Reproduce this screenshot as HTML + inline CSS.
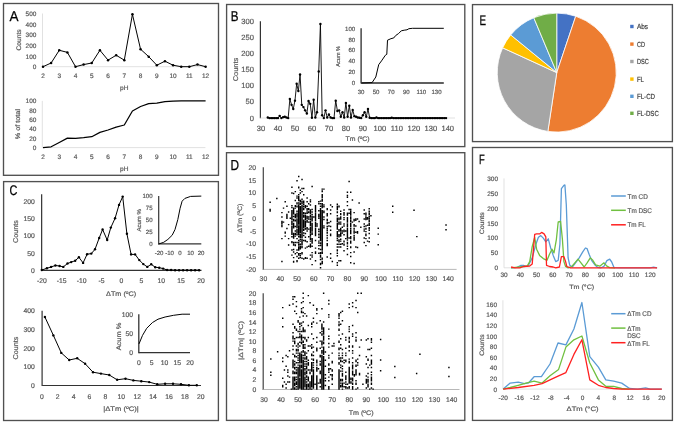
<!DOCTYPE html>
<html><head><meta charset="utf-8"><style>
html,body{margin:0;padding:0;background:#fff;}
svg{display:block;font-family:"Liberation Sans", sans-serif;text-rendering:geometricPrecision;filter:blur(0.4px);}
</style></head><body>
<svg width="674" height="424" viewBox="0 0 674 424">
<rect width="674" height="424" fill="#fff"/>
<rect x="3.5" y="3.5" width="215.0" height="171.8" fill="none" stroke="#505050" stroke-width="1.35"/>
<text x="13.95" y="20.5" font-size="14.3" fill="#000" stroke="#000" stroke-width="0.25" text-anchor="middle" textLength="9.03" lengthAdjust="spacingAndGlyphs">A</text>
<line x1="42.50" y1="13.50" x2="42.50" y2="66.70" stroke="#d9d9d9" stroke-width="0.8"/>
<line x1="42.50" y1="66.70" x2="205.80" y2="66.70" stroke="#d9d9d9" stroke-width="0.8"/>
<text x="36.40" y="69.13" font-size="6.48" text-anchor="end" fill="#595959" stroke="#595959" stroke-width="0.2">0</text>
<text x="36.40" y="58.53" font-size="6.48" text-anchor="end" fill="#595959" stroke="#595959" stroke-width="0.2">100</text>
<text x="36.40" y="47.93" font-size="6.48" text-anchor="end" fill="#595959" stroke="#595959" stroke-width="0.2">200</text>
<text x="36.40" y="37.33" font-size="6.48" text-anchor="end" fill="#595959" stroke="#595959" stroke-width="0.2">300</text>
<text x="36.40" y="26.73" font-size="6.48" text-anchor="end" fill="#595959" stroke="#595959" stroke-width="0.2">400</text>
<text x="36.40" y="16.13" font-size="6.48" text-anchor="end" fill="#595959" stroke="#595959" stroke-width="0.2">500</text>
<text x="43.00" y="77.93" font-size="6.48" text-anchor="middle" fill="#595959" stroke="#595959" stroke-width="0.2">2</text>
<text x="59.26" y="77.93" font-size="6.48" text-anchor="middle" fill="#595959" stroke="#595959" stroke-width="0.2">3</text>
<text x="75.52" y="77.93" font-size="6.48" text-anchor="middle" fill="#595959" stroke="#595959" stroke-width="0.2">4</text>
<text x="91.78" y="77.93" font-size="6.48" text-anchor="middle" fill="#595959" stroke="#595959" stroke-width="0.2">5</text>
<text x="108.04" y="77.93" font-size="6.48" text-anchor="middle" fill="#595959" stroke="#595959" stroke-width="0.2">6</text>
<text x="124.30" y="77.93" font-size="6.48" text-anchor="middle" fill="#595959" stroke="#595959" stroke-width="0.2">7</text>
<text x="140.56" y="77.93" font-size="6.48" text-anchor="middle" fill="#595959" stroke="#595959" stroke-width="0.2">8</text>
<text x="156.82" y="77.93" font-size="6.48" text-anchor="middle" fill="#595959" stroke="#595959" stroke-width="0.2">9</text>
<text x="173.08" y="77.93" font-size="6.48" text-anchor="middle" fill="#595959" stroke="#595959" stroke-width="0.2">10</text>
<text x="189.34" y="77.93" font-size="6.48" text-anchor="middle" fill="#595959" stroke="#595959" stroke-width="0.2">11</text>
<text x="205.60" y="77.93" font-size="6.48" text-anchor="middle" fill="#595959" stroke="#595959" stroke-width="0.2">12</text>
<text x="124.20" y="89.67" font-size="6.30" text-anchor="middle" fill="#595959" stroke="#595959" stroke-width="0.2" textLength="8.40" lengthAdjust="spacingAndGlyphs">pH</text>
<text x="19.00" y="42.48" font-size="6.60" text-anchor="middle" fill="#595959" stroke="#595959" stroke-width="0.2" transform="rotate(-90 19.00 40.00)" textLength="21.20" lengthAdjust="spacingAndGlyphs">Counts</text>
<polyline points="43.00,66.70 51.13,62.99 59.26,50.27 67.39,52.39 75.52,66.70 83.65,64.58 91.78,62.99 99.91,50.27 108.04,60.13 116.17,55.25 124.30,60.13 132.43,14.34 140.56,49.21 148.69,56.63 156.82,65.22 164.95,61.19 173.08,65.22 181.21,66.70 189.34,66.70 197.47,64.58 205.60,66.70" fill="none" stroke="#000" stroke-width="1.0" stroke-linejoin="round"/>
<circle cx="43.00" cy="66.70" r="1.25" fill="#000"/>
<circle cx="51.13" cy="62.99" r="1.25" fill="#000"/>
<circle cx="59.26" cy="50.27" r="1.25" fill="#000"/>
<circle cx="67.39" cy="52.39" r="1.25" fill="#000"/>
<circle cx="75.52" cy="66.70" r="1.25" fill="#000"/>
<circle cx="83.65" cy="64.58" r="1.25" fill="#000"/>
<circle cx="91.78" cy="62.99" r="1.25" fill="#000"/>
<circle cx="99.91" cy="50.27" r="1.25" fill="#000"/>
<circle cx="108.04" cy="60.13" r="1.25" fill="#000"/>
<circle cx="116.17" cy="55.25" r="1.25" fill="#000"/>
<circle cx="124.30" cy="60.13" r="1.25" fill="#000"/>
<circle cx="132.43" cy="14.34" r="1.25" fill="#000"/>
<circle cx="140.56" cy="49.21" r="1.25" fill="#000"/>
<circle cx="148.69" cy="56.63" r="1.25" fill="#000"/>
<circle cx="156.82" cy="65.22" r="1.25" fill="#000"/>
<circle cx="164.95" cy="61.19" r="1.25" fill="#000"/>
<circle cx="173.08" cy="65.22" r="1.25" fill="#000"/>
<circle cx="181.21" cy="66.70" r="1.25" fill="#000"/>
<circle cx="189.34" cy="66.70" r="1.25" fill="#000"/>
<circle cx="197.47" cy="64.58" r="1.25" fill="#000"/>
<circle cx="205.60" cy="66.70" r="1.25" fill="#000"/>
<line x1="42.30" y1="100.90" x2="42.30" y2="147.60" stroke="#d9d9d9" stroke-width="0.8"/>
<line x1="42.30" y1="147.60" x2="205.40" y2="147.60" stroke="#d9d9d9" stroke-width="0.8"/>
<text x="36.40" y="150.03" font-size="6.48" text-anchor="end" fill="#595959" stroke="#595959" stroke-width="0.2">0</text>
<text x="36.40" y="140.69" font-size="6.48" text-anchor="end" fill="#595959" stroke="#595959" stroke-width="0.2">20</text>
<text x="36.40" y="131.35" font-size="6.48" text-anchor="end" fill="#595959" stroke="#595959" stroke-width="0.2">40</text>
<text x="36.40" y="122.01" font-size="6.48" text-anchor="end" fill="#595959" stroke="#595959" stroke-width="0.2">60</text>
<text x="36.40" y="112.67" font-size="6.48" text-anchor="end" fill="#595959" stroke="#595959" stroke-width="0.2">80</text>
<text x="36.40" y="103.33" font-size="6.48" text-anchor="end" fill="#595959" stroke="#595959" stroke-width="0.2">100</text>
<text x="43.00" y="159.03" font-size="6.48" text-anchor="middle" fill="#595959" stroke="#595959" stroke-width="0.2">2</text>
<text x="59.26" y="159.03" font-size="6.48" text-anchor="middle" fill="#595959" stroke="#595959" stroke-width="0.2">3</text>
<text x="75.52" y="159.03" font-size="6.48" text-anchor="middle" fill="#595959" stroke="#595959" stroke-width="0.2">4</text>
<text x="91.78" y="159.03" font-size="6.48" text-anchor="middle" fill="#595959" stroke="#595959" stroke-width="0.2">5</text>
<text x="108.04" y="159.03" font-size="6.48" text-anchor="middle" fill="#595959" stroke="#595959" stroke-width="0.2">6</text>
<text x="124.30" y="159.03" font-size="6.48" text-anchor="middle" fill="#595959" stroke="#595959" stroke-width="0.2">7</text>
<text x="140.56" y="159.03" font-size="6.48" text-anchor="middle" fill="#595959" stroke="#595959" stroke-width="0.2">8</text>
<text x="156.82" y="159.03" font-size="6.48" text-anchor="middle" fill="#595959" stroke="#595959" stroke-width="0.2">9</text>
<text x="173.08" y="159.03" font-size="6.48" text-anchor="middle" fill="#595959" stroke="#595959" stroke-width="0.2">10</text>
<text x="189.34" y="159.03" font-size="6.48" text-anchor="middle" fill="#595959" stroke="#595959" stroke-width="0.2">11</text>
<text x="205.60" y="159.03" font-size="6.48" text-anchor="middle" fill="#595959" stroke="#595959" stroke-width="0.2">12</text>
<text x="124.20" y="170.77" font-size="6.30" text-anchor="middle" fill="#595959" stroke="#595959" stroke-width="0.2" textLength="8.40" lengthAdjust="spacingAndGlyphs">pH</text>
<text x="17.90" y="126.58" font-size="6.60" text-anchor="middle" fill="#595959" stroke="#595959" stroke-width="0.2" transform="rotate(-90 17.90 124.10)" textLength="30.20" lengthAdjust="spacingAndGlyphs">% of total</text>
<polyline points="43.00,147.60 51.13,146.81 59.26,142.46 67.39,138.12 75.52,138.31 83.65,137.70 91.78,136.72 99.91,132.42 108.04,129.99 116.17,127.05 124.30,125.00 132.43,110.94 140.56,106.50 148.69,103.70 156.82,103.23 164.95,101.60 173.08,101.13 181.21,100.99 189.34,100.90 197.47,100.90 205.60,100.90" fill="none" stroke="#000" stroke-width="1.25" stroke-linejoin="round"/>
<rect x="226.6" y="4.5" width="238.20000000000002" height="142.1" fill="none" stroke="#505050" stroke-width="1.35"/>
<text x="234.60" y="20.6" font-size="14.3" fill="#000" stroke="#000" stroke-width="0.25" text-anchor="middle" textLength="7.73" lengthAdjust="spacingAndGlyphs">B</text>
<line x1="260.40" y1="21.20" x2="260.40" y2="118.30" stroke="#333" stroke-width="1.2"/>
<line x1="260.30" y1="118.00" x2="455.00" y2="118.00" stroke="#d9d9d9" stroke-width="0.8"/>
<text x="253.90" y="120.52" font-size="7.56" text-anchor="end" fill="#595959" stroke="#595959" stroke-width="0.2">0</text>
<text x="253.90" y="104.46" font-size="7.56" text-anchor="end" fill="#595959" stroke="#595959" stroke-width="0.2">50</text>
<text x="253.90" y="88.39" font-size="7.56" text-anchor="end" fill="#595959" stroke="#595959" stroke-width="0.2">100</text>
<text x="253.90" y="72.33" font-size="7.56" text-anchor="end" fill="#595959" stroke="#595959" stroke-width="0.2">150</text>
<text x="253.90" y="56.26" font-size="7.56" text-anchor="end" fill="#595959" stroke="#595959" stroke-width="0.2">200</text>
<text x="253.90" y="40.20" font-size="7.56" text-anchor="end" fill="#595959" stroke="#595959" stroke-width="0.2">250</text>
<text x="253.90" y="24.13" font-size="7.56" text-anchor="end" fill="#595959" stroke="#595959" stroke-width="0.2">300</text>
<text x="261.00" y="130.82" font-size="7.56" text-anchor="middle" fill="#595959" stroke="#595959" stroke-width="0.2">30</text>
<text x="277.98" y="130.82" font-size="7.56" text-anchor="middle" fill="#595959" stroke="#595959" stroke-width="0.2">40</text>
<text x="294.96" y="130.82" font-size="7.56" text-anchor="middle" fill="#595959" stroke="#595959" stroke-width="0.2">50</text>
<text x="311.94" y="130.82" font-size="7.56" text-anchor="middle" fill="#595959" stroke="#595959" stroke-width="0.2">60</text>
<text x="328.92" y="130.82" font-size="7.56" text-anchor="middle" fill="#595959" stroke="#595959" stroke-width="0.2">70</text>
<text x="345.90" y="130.82" font-size="7.56" text-anchor="middle" fill="#595959" stroke="#595959" stroke-width="0.2">80</text>
<text x="362.88" y="130.82" font-size="7.56" text-anchor="middle" fill="#595959" stroke="#595959" stroke-width="0.2">90</text>
<text x="379.86" y="130.82" font-size="7.56" text-anchor="middle" fill="#595959" stroke="#595959" stroke-width="0.2">100</text>
<text x="396.84" y="130.82" font-size="7.56" text-anchor="middle" fill="#595959" stroke="#595959" stroke-width="0.2">110</text>
<text x="413.82" y="130.82" font-size="7.56" text-anchor="middle" fill="#595959" stroke="#595959" stroke-width="0.2">120</text>
<text x="430.80" y="130.82" font-size="7.56" text-anchor="middle" fill="#595959" stroke="#595959" stroke-width="0.2">130</text>
<text x="447.78" y="130.82" font-size="7.56" text-anchor="middle" fill="#595959" stroke="#595959" stroke-width="0.2">140</text>
<text x="357.50" y="141.28" font-size="6.60" text-anchor="middle" fill="#595959" stroke="#595959" stroke-width="0.2" textLength="23.90" lengthAdjust="spacingAndGlyphs">Tm (ºC)</text>
<text x="235.10" y="72.08" font-size="6.90" text-anchor="middle" fill="#595959" stroke="#595959" stroke-width="0.2" transform="rotate(-90 235.10 69.50)" textLength="23.60" lengthAdjust="spacingAndGlyphs">Counts</text>
<polyline points="267.79,117.45 269.49,118.10 271.19,118.10 272.89,118.10 274.58,118.10 276.28,118.10 277.98,118.10 279.68,115.84 281.38,118.10 283.07,117.13 284.77,116.81 286.47,117.45 288.17,118.10 289.87,99.01 291.56,104.84 293.26,109.04 294.96,100.63 296.66,83.81 298.36,90.93 300.05,74.43 301.75,104.84 303.45,107.10 305.15,110.34 306.85,113.57 308.54,100.95 310.24,103.87 311.94,117.78 313.64,99.66 315.34,117.45 317.03,112.28 318.73,71.52 320.43,23.96 322.13,115.19 323.83,118.10 325.52,110.34 327.22,117.45 328.92,114.54 330.62,117.45 332.32,118.10 334.01,118.10 335.71,100.63 337.41,110.98 339.11,110.34 340.81,116.81 342.50,112.28 344.20,117.45 345.90,102.90 347.60,116.81 349.30,105.81 350.99,117.45 352.69,110.01 354.39,116.16 356.09,116.81 357.79,117.45 359.48,117.78 361.18,118.10 362.88,115.19 364.58,112.28 366.28,116.81 367.97,109.04 369.67,117.78 371.37,118.10 373.07,118.10 374.77,118.10 376.46,117.45 378.16,118.10 379.86,118.10 381.56,118.10 383.26,118.10 384.95,118.10 386.65,118.10 388.35,118.10 390.05,118.10 391.75,117.78 393.44,118.10 395.14,118.10 396.84,118.10 398.54,118.10 400.24,118.10 401.93,118.10 403.63,118.10 405.33,118.10 407.03,118.10 408.73,118.10 410.42,118.10 412.12,118.10 413.82,118.10 415.52,118.10 417.22,118.10 418.91,118.10 420.61,118.10 422.31,118.10 424.01,118.10 425.71,118.10 427.40,118.10 429.10,118.10 430.80,118.10 432.50,118.10 434.20,118.10 435.89,118.10 437.59,118.10 439.29,118.10 440.99,118.10 442.69,118.10 444.38,118.10 446.08,118.10" fill="none" stroke="#000" stroke-width="0.9" stroke-linejoin="round"/>
<circle cx="267.79" cy="117.45" r="1.20" fill="#000"/>
<circle cx="269.49" cy="118.10" r="1.20" fill="#000"/>
<circle cx="271.19" cy="118.10" r="1.20" fill="#000"/>
<circle cx="272.89" cy="118.10" r="1.20" fill="#000"/>
<circle cx="274.58" cy="118.10" r="1.20" fill="#000"/>
<circle cx="276.28" cy="118.10" r="1.20" fill="#000"/>
<circle cx="277.98" cy="118.10" r="1.20" fill="#000"/>
<circle cx="279.68" cy="115.84" r="1.20" fill="#000"/>
<circle cx="281.38" cy="118.10" r="1.20" fill="#000"/>
<circle cx="283.07" cy="117.13" r="1.20" fill="#000"/>
<circle cx="284.77" cy="116.81" r="1.20" fill="#000"/>
<circle cx="286.47" cy="117.45" r="1.20" fill="#000"/>
<circle cx="288.17" cy="118.10" r="1.20" fill="#000"/>
<circle cx="289.87" cy="99.01" r="1.20" fill="#000"/>
<circle cx="291.56" cy="104.84" r="1.20" fill="#000"/>
<circle cx="293.26" cy="109.04" r="1.20" fill="#000"/>
<circle cx="294.96" cy="100.63" r="1.20" fill="#000"/>
<circle cx="296.66" cy="83.81" r="1.20" fill="#000"/>
<circle cx="298.36" cy="90.93" r="1.20" fill="#000"/>
<circle cx="300.05" cy="74.43" r="1.20" fill="#000"/>
<circle cx="301.75" cy="104.84" r="1.20" fill="#000"/>
<circle cx="303.45" cy="107.10" r="1.20" fill="#000"/>
<circle cx="305.15" cy="110.34" r="1.20" fill="#000"/>
<circle cx="306.85" cy="113.57" r="1.20" fill="#000"/>
<circle cx="308.54" cy="100.95" r="1.20" fill="#000"/>
<circle cx="310.24" cy="103.87" r="1.20" fill="#000"/>
<circle cx="311.94" cy="117.78" r="1.20" fill="#000"/>
<circle cx="313.64" cy="99.66" r="1.20" fill="#000"/>
<circle cx="315.34" cy="117.45" r="1.20" fill="#000"/>
<circle cx="317.03" cy="112.28" r="1.20" fill="#000"/>
<circle cx="318.73" cy="71.52" r="1.20" fill="#000"/>
<circle cx="320.43" cy="23.96" r="1.20" fill="#000"/>
<circle cx="322.13" cy="115.19" r="1.20" fill="#000"/>
<circle cx="323.83" cy="118.10" r="1.20" fill="#000"/>
<circle cx="325.52" cy="110.34" r="1.20" fill="#000"/>
<circle cx="327.22" cy="117.45" r="1.20" fill="#000"/>
<circle cx="328.92" cy="114.54" r="1.20" fill="#000"/>
<circle cx="330.62" cy="117.45" r="1.20" fill="#000"/>
<circle cx="332.32" cy="118.10" r="1.20" fill="#000"/>
<circle cx="334.01" cy="118.10" r="1.20" fill="#000"/>
<circle cx="335.71" cy="100.63" r="1.20" fill="#000"/>
<circle cx="337.41" cy="110.98" r="1.20" fill="#000"/>
<circle cx="339.11" cy="110.34" r="1.20" fill="#000"/>
<circle cx="340.81" cy="116.81" r="1.20" fill="#000"/>
<circle cx="342.50" cy="112.28" r="1.20" fill="#000"/>
<circle cx="344.20" cy="117.45" r="1.20" fill="#000"/>
<circle cx="345.90" cy="102.90" r="1.20" fill="#000"/>
<circle cx="347.60" cy="116.81" r="1.20" fill="#000"/>
<circle cx="349.30" cy="105.81" r="1.20" fill="#000"/>
<circle cx="350.99" cy="117.45" r="1.20" fill="#000"/>
<circle cx="352.69" cy="110.01" r="1.20" fill="#000"/>
<circle cx="354.39" cy="116.16" r="1.20" fill="#000"/>
<circle cx="356.09" cy="116.81" r="1.20" fill="#000"/>
<circle cx="357.79" cy="117.45" r="1.20" fill="#000"/>
<circle cx="359.48" cy="117.78" r="1.20" fill="#000"/>
<circle cx="361.18" cy="118.10" r="1.20" fill="#000"/>
<circle cx="362.88" cy="115.19" r="1.20" fill="#000"/>
<circle cx="364.58" cy="112.28" r="1.20" fill="#000"/>
<circle cx="366.28" cy="116.81" r="1.20" fill="#000"/>
<circle cx="367.97" cy="109.04" r="1.20" fill="#000"/>
<circle cx="369.67" cy="117.78" r="1.20" fill="#000"/>
<circle cx="371.37" cy="118.10" r="1.20" fill="#000"/>
<circle cx="373.07" cy="118.10" r="1.20" fill="#000"/>
<circle cx="374.77" cy="118.10" r="1.20" fill="#000"/>
<circle cx="376.46" cy="117.45" r="1.20" fill="#000"/>
<circle cx="378.16" cy="118.10" r="1.20" fill="#000"/>
<circle cx="379.86" cy="118.10" r="1.20" fill="#000"/>
<circle cx="381.56" cy="118.10" r="1.20" fill="#000"/>
<circle cx="383.26" cy="118.10" r="1.20" fill="#000"/>
<circle cx="384.95" cy="118.10" r="1.20" fill="#000"/>
<circle cx="386.65" cy="118.10" r="1.20" fill="#000"/>
<circle cx="388.35" cy="118.10" r="1.20" fill="#000"/>
<circle cx="390.05" cy="118.10" r="1.20" fill="#000"/>
<circle cx="391.75" cy="117.78" r="1.20" fill="#000"/>
<circle cx="393.44" cy="118.10" r="1.20" fill="#000"/>
<circle cx="395.14" cy="118.10" r="1.20" fill="#000"/>
<circle cx="396.84" cy="118.10" r="1.20" fill="#000"/>
<circle cx="398.54" cy="118.10" r="1.20" fill="#000"/>
<circle cx="400.24" cy="118.10" r="1.20" fill="#000"/>
<circle cx="401.93" cy="118.10" r="1.20" fill="#000"/>
<circle cx="403.63" cy="118.10" r="1.20" fill="#000"/>
<circle cx="405.33" cy="118.10" r="1.20" fill="#000"/>
<circle cx="407.03" cy="118.10" r="1.20" fill="#000"/>
<circle cx="408.73" cy="118.10" r="1.20" fill="#000"/>
<circle cx="410.42" cy="118.10" r="1.20" fill="#000"/>
<circle cx="412.12" cy="118.10" r="1.20" fill="#000"/>
<circle cx="413.82" cy="118.10" r="1.20" fill="#000"/>
<circle cx="415.52" cy="118.10" r="1.20" fill="#000"/>
<circle cx="417.22" cy="118.10" r="1.20" fill="#000"/>
<circle cx="418.91" cy="118.10" r="1.20" fill="#000"/>
<circle cx="420.61" cy="118.10" r="1.20" fill="#000"/>
<circle cx="422.31" cy="118.10" r="1.20" fill="#000"/>
<circle cx="424.01" cy="118.10" r="1.20" fill="#000"/>
<circle cx="425.71" cy="118.10" r="1.20" fill="#000"/>
<circle cx="427.40" cy="118.10" r="1.20" fill="#000"/>
<circle cx="429.10" cy="118.10" r="1.20" fill="#000"/>
<circle cx="430.80" cy="118.10" r="1.20" fill="#000"/>
<circle cx="432.50" cy="118.10" r="1.20" fill="#000"/>
<circle cx="434.20" cy="118.10" r="1.20" fill="#000"/>
<circle cx="435.89" cy="118.10" r="1.20" fill="#000"/>
<circle cx="437.59" cy="118.10" r="1.20" fill="#000"/>
<circle cx="439.29" cy="118.10" r="1.20" fill="#000"/>
<circle cx="440.99" cy="118.10" r="1.20" fill="#000"/>
<circle cx="442.69" cy="118.10" r="1.20" fill="#000"/>
<circle cx="444.38" cy="118.10" r="1.20" fill="#000"/>
<circle cx="446.08" cy="118.10" r="1.20" fill="#000"/>
<line x1="361.10" y1="28.30" x2="361.10" y2="83.50" stroke="#2a2a2a" stroke-width="1.3"/>
<line x1="361.10" y1="83.00" x2="443.80" y2="83.00" stroke="#2a2a2a" stroke-width="1.3"/>
<text x="355.20" y="85.28" font-size="6.05" text-anchor="end" fill="#595959" stroke="#595959" stroke-width="0.2">0</text>
<text x="355.20" y="74.34" font-size="6.05" text-anchor="end" fill="#595959" stroke="#595959" stroke-width="0.2">20</text>
<text x="355.20" y="63.40" font-size="6.05" text-anchor="end" fill="#595959" stroke="#595959" stroke-width="0.2">40</text>
<text x="355.20" y="52.46" font-size="6.05" text-anchor="end" fill="#595959" stroke="#595959" stroke-width="0.2">60</text>
<text x="355.20" y="41.52" font-size="6.05" text-anchor="end" fill="#595959" stroke="#595959" stroke-width="0.2">80</text>
<text x="355.20" y="30.58" font-size="6.05" text-anchor="end" fill="#595959" stroke="#595959" stroke-width="0.2">100</text>
<text x="361.00" y="93.68" font-size="6.05" text-anchor="middle" fill="#595959" stroke="#595959" stroke-width="0.2">30</text>
<text x="376.10" y="93.68" font-size="6.05" text-anchor="middle" fill="#595959" stroke="#595959" stroke-width="0.2">50</text>
<text x="391.20" y="93.68" font-size="6.05" text-anchor="middle" fill="#595959" stroke="#595959" stroke-width="0.2">70</text>
<text x="406.30" y="93.68" font-size="6.05" text-anchor="middle" fill="#595959" stroke="#595959" stroke-width="0.2">90</text>
<text x="421.40" y="93.68" font-size="6.05" text-anchor="middle" fill="#595959" stroke="#595959" stroke-width="0.2">110</text>
<text x="436.50" y="93.68" font-size="6.05" text-anchor="middle" fill="#595959" stroke="#595959" stroke-width="0.2">130</text>
<text x="338.00" y="58.42" font-size="5.60" text-anchor="middle" fill="#595959" stroke="#595959" stroke-width="0.2" transform="rotate(-90 338.00 56.30)" textLength="20.70" lengthAdjust="spacingAndGlyphs">Acum %</text>
<polyline points="361.70,83.00 372.10,82.60 375.80,77.00 378.70,64.70 381.50,60.90 385.30,55.30 386.80,54.30 387.50,40.20 390.90,38.70 393.80,37.90 395.70,35.50 398.50,33.60 401.30,30.80 404.20,30.20 407.00,29.80 408.90,28.70 412.60,28.30 443.80,28.30" fill="none" stroke="#000" stroke-width="1.0" stroke-linejoin="round"/>
<rect x="472.5" y="4.6" width="199.89999999999998" height="137.0" fill="none" stroke="#505050" stroke-width="1.35"/>
<text x="482.85" y="24.8" font-size="14" fill="#000" stroke="#000" stroke-width="0.25" text-anchor="middle" textLength="6.60" lengthAdjust="spacingAndGlyphs">E</text>
<path d="M556.75,72.6 L556.75,13.10 A59.5,59.5 0 0 1 575.73,16.21 Z" fill="#4472C4" stroke="#fff" stroke-width="0.8"/>
<path d="M556.75,72.6 L575.73,16.21 A59.5,59.5 0 0 1 547.85,131.43 Z" fill="#ED7D31" stroke="#fff" stroke-width="0.8"/>
<path d="M556.75,72.6 L547.85,131.43 A59.5,59.5 0 0 1 502.65,47.83 Z" fill="#A5A5A5" stroke="#fff" stroke-width="0.8"/>
<path d="M556.75,72.6 L502.65,47.83 A59.5,59.5 0 0 1 510.71,34.91 Z" fill="#FFC000" stroke="#fff" stroke-width="0.8"/>
<path d="M556.75,72.6 L510.71,34.91 A59.5,59.5 0 0 1 533.79,17.71 Z" fill="#5B9BD5" stroke="#fff" stroke-width="0.8"/>
<path d="M556.75,72.6 L533.79,17.71 A59.5,59.5 0 0 1 556.75,13.10 Z" fill="#70AD47" stroke="#fff" stroke-width="0.8"/>
<rect x="630.2" y="24.80" width="3.4" height="3.4" fill="#4472C4"/>
<text x="636.90" y="29.26" font-size="7.40" text-anchor="start" fill="#404040" stroke="#404040" stroke-width="0.2" textLength="11.20" lengthAdjust="spacingAndGlyphs">Abs</text>
<rect x="630.2" y="42.40" width="3.4" height="3.4" fill="#ED7D31"/>
<text x="636.90" y="46.86" font-size="7.40" text-anchor="start" fill="#404040" stroke="#404040" stroke-width="0.2" textLength="8.10" lengthAdjust="spacingAndGlyphs">CD</text>
<rect x="630.2" y="59.80" width="3.4" height="3.4" fill="#A5A5A5"/>
<text x="636.90" y="64.26" font-size="7.40" text-anchor="start" fill="#404040" stroke="#404040" stroke-width="0.2" textLength="11.90" lengthAdjust="spacingAndGlyphs">DSC</text>
<rect x="630.2" y="77.40" width="3.4" height="3.4" fill="#FFC000"/>
<text x="636.90" y="81.86" font-size="7.40" text-anchor="start" fill="#404040" stroke="#404040" stroke-width="0.2" textLength="7.00" lengthAdjust="spacingAndGlyphs">FL</text>
<rect x="630.2" y="94.60" width="3.4" height="3.4" fill="#5B9BD5"/>
<text x="636.90" y="99.06" font-size="7.40" text-anchor="start" fill="#404040" stroke="#404040" stroke-width="0.2" textLength="18.20" lengthAdjust="spacingAndGlyphs">FL-CD</text>
<rect x="630.2" y="111.60" width="3.4" height="3.4" fill="#70AD47"/>
<text x="636.90" y="116.06" font-size="7.40" text-anchor="start" fill="#404040" stroke="#404040" stroke-width="0.2" textLength="21.90" lengthAdjust="spacingAndGlyphs">FL-DSC</text>
<rect x="3.6" y="181.6" width="214.8" height="238.9" fill="none" stroke="#505050" stroke-width="1.35"/>
<text x="13.50" y="195.0" font-size="13.9" fill="#000" stroke="#000" stroke-width="0.25" text-anchor="middle" textLength="7.89" lengthAdjust="spacingAndGlyphs">C</text>
<line x1="41.65" y1="194.20" x2="41.65" y2="270.90" stroke="#333" stroke-width="1.2"/>
<line x1="41.65" y1="270.40" x2="201.50" y2="270.40" stroke="#333" stroke-width="1.2"/>
<text x="34.80" y="272.75" font-size="6.80" text-anchor="end" fill="#595959" stroke="#595959" stroke-width="0.2">0</text>
<text x="34.80" y="255.55" font-size="6.80" text-anchor="end" fill="#595959" stroke="#595959" stroke-width="0.2">50</text>
<text x="34.80" y="238.35" font-size="6.80" text-anchor="end" fill="#595959" stroke="#595959" stroke-width="0.2">100</text>
<text x="34.80" y="221.15" font-size="6.80" text-anchor="end" fill="#595959" stroke="#595959" stroke-width="0.2">150</text>
<text x="34.80" y="203.95" font-size="6.80" text-anchor="end" fill="#595959" stroke="#595959" stroke-width="0.2">200</text>
<text x="41.80" y="283.05" font-size="6.80" text-anchor="middle" fill="#595959" stroke="#595959" stroke-width="0.2">-20</text>
<text x="61.70" y="283.05" font-size="6.80" text-anchor="middle" fill="#595959" stroke="#595959" stroke-width="0.2">-15</text>
<text x="81.60" y="283.05" font-size="6.80" text-anchor="middle" fill="#595959" stroke="#595959" stroke-width="0.2">-10</text>
<text x="101.50" y="283.05" font-size="6.80" text-anchor="middle" fill="#595959" stroke="#595959" stroke-width="0.2">-5</text>
<text x="121.40" y="283.05" font-size="6.80" text-anchor="middle" fill="#595959" stroke="#595959" stroke-width="0.2">0</text>
<text x="141.30" y="283.05" font-size="6.80" text-anchor="middle" fill="#595959" stroke="#595959" stroke-width="0.2">5</text>
<text x="161.20" y="283.05" font-size="6.80" text-anchor="middle" fill="#595959" stroke="#595959" stroke-width="0.2">10</text>
<text x="181.10" y="283.05" font-size="6.80" text-anchor="middle" fill="#595959" stroke="#595959" stroke-width="0.2">15</text>
<text x="201.00" y="283.05" font-size="6.80" text-anchor="middle" fill="#595959" stroke="#595959" stroke-width="0.2">20</text>
<text x="121.10" y="295.68" font-size="6.60" text-anchor="middle" fill="#595959" stroke="#595959" stroke-width="0.2" textLength="30.00" lengthAdjust="spacingAndGlyphs">ΔTm (ºC)</text>
<text x="15.80" y="234.08" font-size="6.90" text-anchor="middle" fill="#595959" stroke="#595959" stroke-width="0.2" transform="rotate(-90 15.80 231.50)" textLength="22.80" lengthAdjust="spacingAndGlyphs">Counts</text>
<polyline points="41.80,270.00 46.90,268.30 51.10,266.90 55.40,265.50 59.60,266.00 63.30,266.90 67.50,263.50 71.20,262.10 75.20,260.70 78.90,257.30 83.10,262.90 87.10,254.20 91.30,253.60 95.00,249.30 99.20,238.00 102.60,229.50 107.20,240.00 110.80,227.60 115.10,218.20 119.00,204.90 122.70,196.60 126.90,233.80 131.10,254.40 135.10,254.40 139.30,260.10 143.30,264.10 147.30,266.90 151.20,264.30 155.20,267.20 159.20,267.70 163.10,268.60 167.10,270.00 171.10,270.00 175.10,270.20 179.10,270.20 183.10,270.20 187.10,270.20 191.10,270.20 195.10,270.20 199.10,270.20" fill="none" stroke="#000" stroke-width="1.0" stroke-linejoin="round"/>
<circle cx="41.80" cy="270.00" r="1.20" fill="#000"/>
<circle cx="46.90" cy="268.30" r="1.20" fill="#000"/>
<circle cx="51.10" cy="266.90" r="1.20" fill="#000"/>
<circle cx="55.40" cy="265.50" r="1.20" fill="#000"/>
<circle cx="59.60" cy="266.00" r="1.20" fill="#000"/>
<circle cx="63.30" cy="266.90" r="1.20" fill="#000"/>
<circle cx="67.50" cy="263.50" r="1.20" fill="#000"/>
<circle cx="71.20" cy="262.10" r="1.20" fill="#000"/>
<circle cx="75.20" cy="260.70" r="1.20" fill="#000"/>
<circle cx="78.90" cy="257.30" r="1.20" fill="#000"/>
<circle cx="83.10" cy="262.90" r="1.20" fill="#000"/>
<circle cx="87.10" cy="254.20" r="1.20" fill="#000"/>
<circle cx="91.30" cy="253.60" r="1.20" fill="#000"/>
<circle cx="95.00" cy="249.30" r="1.20" fill="#000"/>
<circle cx="99.20" cy="238.00" r="1.20" fill="#000"/>
<circle cx="102.60" cy="229.50" r="1.20" fill="#000"/>
<circle cx="107.20" cy="240.00" r="1.20" fill="#000"/>
<circle cx="110.80" cy="227.60" r="1.20" fill="#000"/>
<circle cx="115.10" cy="218.20" r="1.20" fill="#000"/>
<circle cx="119.00" cy="204.90" r="1.20" fill="#000"/>
<circle cx="122.70" cy="196.60" r="1.20" fill="#000"/>
<circle cx="126.90" cy="233.80" r="1.20" fill="#000"/>
<circle cx="131.10" cy="254.40" r="1.20" fill="#000"/>
<circle cx="135.10" cy="254.40" r="1.20" fill="#000"/>
<circle cx="139.30" cy="260.10" r="1.20" fill="#000"/>
<circle cx="143.30" cy="264.10" r="1.20" fill="#000"/>
<circle cx="147.30" cy="266.90" r="1.20" fill="#000"/>
<circle cx="151.20" cy="264.30" r="1.20" fill="#000"/>
<circle cx="155.20" cy="267.20" r="1.20" fill="#000"/>
<circle cx="159.20" cy="267.70" r="1.20" fill="#000"/>
<circle cx="163.10" cy="268.60" r="1.20" fill="#000"/>
<circle cx="167.10" cy="270.00" r="1.20" fill="#000"/>
<circle cx="171.10" cy="270.00" r="1.20" fill="#000"/>
<circle cx="175.10" cy="270.20" r="1.20" fill="#000"/>
<circle cx="179.10" cy="270.20" r="1.20" fill="#000"/>
<circle cx="183.10" cy="270.20" r="1.20" fill="#000"/>
<circle cx="187.10" cy="270.20" r="1.20" fill="#000"/>
<circle cx="191.10" cy="270.20" r="1.20" fill="#000"/>
<circle cx="195.10" cy="270.20" r="1.20" fill="#000"/>
<circle cx="199.10" cy="270.20" r="1.20" fill="#000"/>
<line x1="158.70" y1="196.10" x2="158.70" y2="244.50" stroke="#333" stroke-width="1.2"/>
<line x1="158.70" y1="243.90" x2="201.30" y2="243.90" stroke="#333" stroke-width="1.2"/>
<text x="152.60" y="246.28" font-size="6.05" text-anchor="end" fill="#595959" stroke="#595959" stroke-width="0.2">0</text>
<text x="152.60" y="234.28" font-size="6.05" text-anchor="end" fill="#595959" stroke="#595959" stroke-width="0.2">25</text>
<text x="152.60" y="222.28" font-size="6.05" text-anchor="end" fill="#595959" stroke="#595959" stroke-width="0.2">50</text>
<text x="152.60" y="210.28" font-size="6.05" text-anchor="end" fill="#595959" stroke="#595959" stroke-width="0.2">75</text>
<text x="152.60" y="198.38" font-size="6.05" text-anchor="end" fill="#595959" stroke="#595959" stroke-width="0.2">100</text>
<text x="159.00" y="254.98" font-size="6.05" text-anchor="middle" fill="#595959" stroke="#595959" stroke-width="0.2">-20</text>
<text x="169.53" y="254.98" font-size="6.05" text-anchor="middle" fill="#595959" stroke="#595959" stroke-width="0.2">-10</text>
<text x="180.06" y="254.98" font-size="6.05" text-anchor="middle" fill="#595959" stroke="#595959" stroke-width="0.2">0</text>
<text x="190.59" y="254.98" font-size="6.05" text-anchor="middle" fill="#595959" stroke="#595959" stroke-width="0.2">10</text>
<text x="201.12" y="254.98" font-size="6.05" text-anchor="middle" fill="#595959" stroke="#595959" stroke-width="0.2">20</text>
<text x="138.50" y="222.59" font-size="5.80" text-anchor="middle" fill="#595959" stroke="#595959" stroke-width="0.2" transform="rotate(-90 138.50 220.40)" textLength="22.40" lengthAdjust="spacingAndGlyphs">Acum %</text>
<polyline points="158.60,244.00 163.70,242.30 167.90,239.40 172.20,235.20 175.00,229.50 177.80,219.60 180.10,208.30 182.10,201.20 184.90,198.40 190.60,196.40 201.30,196.10" fill="none" stroke="#000" stroke-width="1.0" stroke-linejoin="round"/>
<line x1="42.10" y1="310.80" x2="42.10" y2="386.10" stroke="#333" stroke-width="1.2"/>
<line x1="42.10" y1="385.50" x2="201.00" y2="385.50" stroke="#333" stroke-width="1.2"/>
<text x="34.80" y="388.05" font-size="6.80" text-anchor="end" fill="#595959" stroke="#595959" stroke-width="0.2">0</text>
<text x="34.80" y="369.30" font-size="6.80" text-anchor="end" fill="#595959" stroke="#595959" stroke-width="0.2">100</text>
<text x="34.80" y="350.55" font-size="6.80" text-anchor="end" fill="#595959" stroke="#595959" stroke-width="0.2">200</text>
<text x="34.80" y="331.80" font-size="6.80" text-anchor="end" fill="#595959" stroke="#595959" stroke-width="0.2">300</text>
<text x="34.80" y="313.05" font-size="6.80" text-anchor="end" fill="#595959" stroke="#595959" stroke-width="0.2">400</text>
<text x="41.80" y="398.75" font-size="6.80" text-anchor="middle" fill="#595959" stroke="#595959" stroke-width="0.2">0</text>
<text x="57.70" y="398.75" font-size="6.80" text-anchor="middle" fill="#595959" stroke="#595959" stroke-width="0.2">2</text>
<text x="73.60" y="398.75" font-size="6.80" text-anchor="middle" fill="#595959" stroke="#595959" stroke-width="0.2">4</text>
<text x="89.50" y="398.75" font-size="6.80" text-anchor="middle" fill="#595959" stroke="#595959" stroke-width="0.2">6</text>
<text x="105.40" y="398.75" font-size="6.80" text-anchor="middle" fill="#595959" stroke="#595959" stroke-width="0.2">8</text>
<text x="121.30" y="398.75" font-size="6.80" text-anchor="middle" fill="#595959" stroke="#595959" stroke-width="0.2">10</text>
<text x="137.20" y="398.75" font-size="6.80" text-anchor="middle" fill="#595959" stroke="#595959" stroke-width="0.2">12</text>
<text x="153.10" y="398.75" font-size="6.80" text-anchor="middle" fill="#595959" stroke="#595959" stroke-width="0.2">14</text>
<text x="169.00" y="398.75" font-size="6.80" text-anchor="middle" fill="#595959" stroke="#595959" stroke-width="0.2">16</text>
<text x="184.90" y="398.75" font-size="6.80" text-anchor="middle" fill="#595959" stroke="#595959" stroke-width="0.2">18</text>
<text x="200.80" y="398.75" font-size="6.80" text-anchor="middle" fill="#595959" stroke="#595959" stroke-width="0.2">20</text>
<text x="121.05" y="411.18" font-size="6.60" text-anchor="middle" fill="#595959" stroke="#595959" stroke-width="0.2" textLength="35.60" lengthAdjust="spacingAndGlyphs">|ΔTm (ºC)|</text>
<text x="15.80" y="350.58" font-size="6.90" text-anchor="middle" fill="#595959" stroke="#595959" stroke-width="0.2" transform="rotate(-90 15.80 348.00)" textLength="22.80" lengthAdjust="spacingAndGlyphs">Counts</text>
<polyline points="44.90,317.00 53.40,335.40 61.30,352.90 69.20,360.00 77.20,358.30 85.10,363.70 93.00,372.20 100.90,373.60 109.30,375.00 117.10,379.80 125.50,378.70 133.40,380.40 141.30,381.20 149.20,382.10 157.20,384.30 165.10,383.80 173.00,383.80 181.00,384.30 188.90,385.30 196.80,385.30" fill="none" stroke="#000" stroke-width="1.0" stroke-linejoin="round"/>
<circle cx="44.90" cy="317.00" r="1.20" fill="#000"/>
<circle cx="53.40" cy="335.40" r="1.20" fill="#000"/>
<circle cx="61.30" cy="352.90" r="1.20" fill="#000"/>
<circle cx="69.20" cy="360.00" r="1.20" fill="#000"/>
<circle cx="77.20" cy="358.30" r="1.20" fill="#000"/>
<circle cx="85.10" cy="363.70" r="1.20" fill="#000"/>
<circle cx="93.00" cy="372.20" r="1.20" fill="#000"/>
<circle cx="100.90" cy="373.60" r="1.20" fill="#000"/>
<circle cx="109.30" cy="375.00" r="1.20" fill="#000"/>
<circle cx="117.10" cy="379.80" r="1.20" fill="#000"/>
<circle cx="125.50" cy="378.70" r="1.20" fill="#000"/>
<circle cx="133.40" cy="380.40" r="1.20" fill="#000"/>
<circle cx="141.30" cy="381.20" r="1.20" fill="#000"/>
<circle cx="149.20" cy="382.10" r="1.20" fill="#000"/>
<circle cx="157.20" cy="384.30" r="1.20" fill="#000"/>
<circle cx="165.10" cy="383.80" r="1.20" fill="#000"/>
<circle cx="173.00" cy="383.80" r="1.20" fill="#000"/>
<circle cx="181.00" cy="384.30" r="1.20" fill="#000"/>
<circle cx="188.90" cy="385.30" r="1.20" fill="#000"/>
<circle cx="196.80" cy="385.30" r="1.20" fill="#000"/>
<line x1="138.80" y1="314.20" x2="138.80" y2="353.20" stroke="#333" stroke-width="1.3"/>
<line x1="138.80" y1="352.60" x2="190.00" y2="352.60" stroke="#333" stroke-width="1.3"/>
<text x="133.00" y="355.15" font-size="6.80" text-anchor="end" fill="#595959" stroke="#595959" stroke-width="0.2">0</text>
<text x="133.00" y="335.95" font-size="6.80" text-anchor="end" fill="#595959" stroke="#595959" stroke-width="0.2">50</text>
<text x="133.00" y="316.75" font-size="6.80" text-anchor="end" fill="#595959" stroke="#595959" stroke-width="0.2">100</text>
<text x="139.00" y="365.45" font-size="6.80" text-anchor="middle" fill="#595959" stroke="#595959" stroke-width="0.2">0</text>
<text x="151.75" y="365.45" font-size="6.80" text-anchor="middle" fill="#595959" stroke="#595959" stroke-width="0.2">5</text>
<text x="164.50" y="365.45" font-size="6.80" text-anchor="middle" fill="#595959" stroke="#595959" stroke-width="0.2">10</text>
<text x="177.25" y="365.45" font-size="6.80" text-anchor="middle" fill="#595959" stroke="#595959" stroke-width="0.2">15</text>
<text x="190.00" y="365.45" font-size="6.80" text-anchor="middle" fill="#595959" stroke="#595959" stroke-width="0.2">20</text>
<text x="118.30" y="338.98" font-size="6.60" text-anchor="middle" fill="#595959" stroke="#595959" stroke-width="0.2" transform="rotate(-90 118.30 336.50)" textLength="27.70" lengthAdjust="spacingAndGlyphs">Acum %</text>
<polyline points="139.00,343.90 142.50,335.40 146.70,328.30 152.40,322.60 158.00,319.20 165.10,317.00 173.60,315.30 182.10,314.20 190.00,314.20" fill="none" stroke="#000" stroke-width="1.0" stroke-linejoin="round"/>
<rect x="226.5" y="152.7" width="238.3" height="267.7" fill="none" stroke="#505050" stroke-width="1.35"/>
<text x="234.80" y="170.1" font-size="14.5" fill="#000" stroke="#000" stroke-width="0.25" text-anchor="middle" textLength="8.55" lengthAdjust="spacingAndGlyphs">D</text>
<line x1="263.30" y1="167.30" x2="263.30" y2="269.90" stroke="#444" stroke-width="1.2"/>
<line x1="263.30" y1="269.40" x2="456.60" y2="269.40" stroke="#b0b0b0" stroke-width="0.9"/>
<text x="256.10" y="271.65" font-size="6.80" text-anchor="end" fill="#595959" stroke="#595959" stroke-width="0.2">-20</text>
<text x="256.10" y="258.95" font-size="6.80" text-anchor="end" fill="#595959" stroke="#595959" stroke-width="0.2">-15</text>
<text x="256.10" y="246.25" font-size="6.80" text-anchor="end" fill="#595959" stroke="#595959" stroke-width="0.2">-10</text>
<text x="256.10" y="233.55" font-size="6.80" text-anchor="end" fill="#595959" stroke="#595959" stroke-width="0.2">-5</text>
<text x="256.10" y="220.85" font-size="6.80" text-anchor="end" fill="#595959" stroke="#595959" stroke-width="0.2">0</text>
<text x="256.10" y="208.15" font-size="6.80" text-anchor="end" fill="#595959" stroke="#595959" stroke-width="0.2">5</text>
<text x="256.10" y="195.45" font-size="6.80" text-anchor="end" fill="#595959" stroke="#595959" stroke-width="0.2">10</text>
<text x="256.10" y="182.75" font-size="6.80" text-anchor="end" fill="#595959" stroke="#595959" stroke-width="0.2">15</text>
<text x="256.10" y="170.05" font-size="6.80" text-anchor="end" fill="#595959" stroke="#595959" stroke-width="0.2">20</text>
<text x="263.40" y="281.25" font-size="6.80" text-anchor="middle" fill="#595959" stroke="#595959" stroke-width="0.2">30</text>
<text x="280.20" y="281.25" font-size="6.80" text-anchor="middle" fill="#595959" stroke="#595959" stroke-width="0.2">40</text>
<text x="297.00" y="281.25" font-size="6.80" text-anchor="middle" fill="#595959" stroke="#595959" stroke-width="0.2">50</text>
<text x="313.80" y="281.25" font-size="6.80" text-anchor="middle" fill="#595959" stroke="#595959" stroke-width="0.2">60</text>
<text x="330.60" y="281.25" font-size="6.80" text-anchor="middle" fill="#595959" stroke="#595959" stroke-width="0.2">70</text>
<text x="347.40" y="281.25" font-size="6.80" text-anchor="middle" fill="#595959" stroke="#595959" stroke-width="0.2">80</text>
<text x="364.20" y="281.25" font-size="6.80" text-anchor="middle" fill="#595959" stroke="#595959" stroke-width="0.2">90</text>
<text x="381.00" y="281.25" font-size="6.80" text-anchor="middle" fill="#595959" stroke="#595959" stroke-width="0.2">100</text>
<text x="397.80" y="281.25" font-size="6.80" text-anchor="middle" fill="#595959" stroke="#595959" stroke-width="0.2">110</text>
<text x="414.60" y="281.25" font-size="6.80" text-anchor="middle" fill="#595959" stroke="#595959" stroke-width="0.2">120</text>
<text x="431.40" y="281.25" font-size="6.80" text-anchor="middle" fill="#595959" stroke="#595959" stroke-width="0.2">130</text>
<text x="448.20" y="281.25" font-size="6.80" text-anchor="middle" fill="#595959" stroke="#595959" stroke-width="0.2">140</text>
<text x="239.60" y="220.60" font-size="6.40" text-anchor="middle" fill="#595959" stroke="#595959" stroke-width="0.2" transform="rotate(-90 239.60 218.20)" textLength="29.20" lengthAdjust="spacingAndGlyphs">ΔTm (ºC)</text>
<line x1="263.20" y1="293.20" x2="263.20" y2="389.90" stroke="#444" stroke-width="1.2"/>
<line x1="263.20" y1="389.50" x2="459.50" y2="389.50" stroke="#b0b0b0" stroke-width="0.9"/>
<text x="256.30" y="391.65" font-size="6.80" text-anchor="end" fill="#595959" stroke="#595959" stroke-width="0.2">0</text>
<text x="256.30" y="382.06" font-size="6.80" text-anchor="end" fill="#595959" stroke="#595959" stroke-width="0.2">2</text>
<text x="256.30" y="372.47" font-size="6.80" text-anchor="end" fill="#595959" stroke="#595959" stroke-width="0.2">4</text>
<text x="256.30" y="362.88" font-size="6.80" text-anchor="end" fill="#595959" stroke="#595959" stroke-width="0.2">6</text>
<text x="256.30" y="353.29" font-size="6.80" text-anchor="end" fill="#595959" stroke="#595959" stroke-width="0.2">8</text>
<text x="256.30" y="343.70" font-size="6.80" text-anchor="end" fill="#595959" stroke="#595959" stroke-width="0.2">10</text>
<text x="256.30" y="334.11" font-size="6.80" text-anchor="end" fill="#595959" stroke="#595959" stroke-width="0.2">12</text>
<text x="256.30" y="324.52" font-size="6.80" text-anchor="end" fill="#595959" stroke="#595959" stroke-width="0.2">14</text>
<text x="256.30" y="314.93" font-size="6.80" text-anchor="end" fill="#595959" stroke="#595959" stroke-width="0.2">16</text>
<text x="256.30" y="305.34" font-size="6.80" text-anchor="end" fill="#595959" stroke="#595959" stroke-width="0.2">18</text>
<text x="256.30" y="295.75" font-size="6.80" text-anchor="end" fill="#595959" stroke="#595959" stroke-width="0.2">20</text>
<text x="264.00" y="402.05" font-size="6.80" text-anchor="middle" fill="#595959" stroke="#595959" stroke-width="0.2">30</text>
<text x="281.05" y="402.05" font-size="6.80" text-anchor="middle" fill="#595959" stroke="#595959" stroke-width="0.2">40</text>
<text x="298.10" y="402.05" font-size="6.80" text-anchor="middle" fill="#595959" stroke="#595959" stroke-width="0.2">50</text>
<text x="315.15" y="402.05" font-size="6.80" text-anchor="middle" fill="#595959" stroke="#595959" stroke-width="0.2">60</text>
<text x="332.20" y="402.05" font-size="6.80" text-anchor="middle" fill="#595959" stroke="#595959" stroke-width="0.2">70</text>
<text x="349.25" y="402.05" font-size="6.80" text-anchor="middle" fill="#595959" stroke="#595959" stroke-width="0.2">80</text>
<text x="366.30" y="402.05" font-size="6.80" text-anchor="middle" fill="#595959" stroke="#595959" stroke-width="0.2">90</text>
<text x="383.35" y="402.05" font-size="6.80" text-anchor="middle" fill="#595959" stroke="#595959" stroke-width="0.2">100</text>
<text x="400.40" y="402.05" font-size="6.80" text-anchor="middle" fill="#595959" stroke="#595959" stroke-width="0.2">110</text>
<text x="417.45" y="402.05" font-size="6.80" text-anchor="middle" fill="#595959" stroke="#595959" stroke-width="0.2">120</text>
<text x="434.50" y="402.05" font-size="6.80" text-anchor="middle" fill="#595959" stroke="#595959" stroke-width="0.2">130</text>
<text x="451.55" y="402.05" font-size="6.80" text-anchor="middle" fill="#595959" stroke="#595959" stroke-width="0.2">140</text>
<text x="361.10" y="414.68" font-size="6.60" text-anchor="middle" fill="#595959" stroke="#595959" stroke-width="0.2" textLength="24.90" lengthAdjust="spacingAndGlyphs">Tm (ºC)</text>
<text x="240.80" y="342.80" font-size="6.40" text-anchor="middle" fill="#595959" stroke="#595959" stroke-width="0.2" transform="rotate(-90 240.80 340.40)" textLength="39.10" lengthAdjust="spacingAndGlyphs">|ΔTm| (ºC)</text>
<path fill="#000" d="M281.2 237.9h1.45v1.45h-1.45zM281.2 225.8h1.45v1.45h-1.45zM281.2 222.7h1.45v1.45h-1.45zM281.2 220.8h1.45v1.45h-1.45zM281.2 224.6h1.45v1.45h-1.45zM281.2 222.0h1.45v1.45h-1.45zM281.2 211.9h1.45v1.45h-1.45zM284.5 231.5h1.45v1.45h-1.45zM284.5 201.1h1.45v1.45h-1.45zM284.5 232.2h1.45v1.45h-1.45zM286.2 205.5h1.45v1.45h-1.45zM286.2 216.3h1.45v1.45h-1.45zM286.2 217.6h1.45v1.45h-1.45zM286.2 215.0h1.45v1.45h-1.45zM287.9 211.2h1.45v1.45h-1.45zM287.9 244.2h1.45v1.45h-1.45zM291.2 223.3h1.45v1.45h-1.45zM291.2 226.5h1.45v1.45h-1.45zM291.2 192.2h1.45v1.45h-1.45zM291.2 227.1h1.45v1.45h-1.45zM291.2 216.3h1.45v1.45h-1.45zM291.2 210.0h1.45v1.45h-1.45zM291.2 254.4h1.45v1.45h-1.45zM291.2 206.8h1.45v1.45h-1.45zM291.2 225.8h1.45v1.45h-1.45zM291.2 217.6h1.45v1.45h-1.45zM291.2 212.5h1.45v1.45h-1.45zM291.2 229.0h1.45v1.45h-1.45zM291.2 229.6h1.45v1.45h-1.45zM291.2 229.6h1.45v1.45h-1.45zM291.2 186.5h1.45v1.45h-1.45zM291.2 217.6h1.45v1.45h-1.45zM291.2 213.1h1.45v1.45h-1.45zM291.2 216.3h1.45v1.45h-1.45zM291.2 206.8h1.45v1.45h-1.45zM291.2 218.2h1.45v1.45h-1.45zM291.2 236.0h1.45v1.45h-1.45zM291.2 223.3h1.45v1.45h-1.45zM291.2 214.4h1.45v1.45h-1.45zM291.2 221.4h1.45v1.45h-1.45zM291.2 241.1h1.45v1.45h-1.45zM291.2 232.2h1.45v1.45h-1.45zM291.2 204.9h1.45v1.45h-1.45zM291.2 210.6h1.45v1.45h-1.45zM291.2 218.2h1.45v1.45h-1.45zM291.2 233.5h1.45v1.45h-1.45zM291.2 210.6h1.45v1.45h-1.45zM291.2 223.9h1.45v1.45h-1.45zM291.2 232.8h1.45v1.45h-1.45zM291.2 241.1h1.45v1.45h-1.45zM291.2 210.6h1.45v1.45h-1.45zM291.2 218.8h1.45v1.45h-1.45zM291.2 222.0h1.45v1.45h-1.45zM291.2 220.8h1.45v1.45h-1.45zM291.2 223.9h1.45v1.45h-1.45zM291.2 215.7h1.45v1.45h-1.45zM291.2 230.9h1.45v1.45h-1.45zM291.2 241.1h1.45v1.45h-1.45zM291.2 223.9h1.45v1.45h-1.45zM291.2 210.6h1.45v1.45h-1.45zM291.2 229.6h1.45v1.45h-1.45zM291.2 211.9h1.45v1.45h-1.45zM291.2 229.0h1.45v1.45h-1.45zM291.2 218.2h1.45v1.45h-1.45zM291.2 221.4h1.45v1.45h-1.45zM291.2 211.9h1.45v1.45h-1.45zM291.2 228.4h1.45v1.45h-1.45zM291.2 225.8h1.45v1.45h-1.45zM291.2 215.7h1.45v1.45h-1.45zM291.2 211.9h1.45v1.45h-1.45zM291.2 215.0h1.45v1.45h-1.45zM291.2 215.0h1.45v1.45h-1.45zM291.2 213.8h1.45v1.45h-1.45zM291.2 241.7h1.45v1.45h-1.45zM291.2 249.3h1.45v1.45h-1.45zM292.9 215.7h1.45v1.45h-1.45zM292.9 225.8h1.45v1.45h-1.45zM292.9 222.7h1.45v1.45h-1.45zM292.9 227.1h1.45v1.45h-1.45zM292.9 218.8h1.45v1.45h-1.45zM292.9 241.7h1.45v1.45h-1.45zM292.9 232.8h1.45v1.45h-1.45zM292.9 234.7h1.45v1.45h-1.45zM292.9 235.4h1.45v1.45h-1.45zM292.9 256.9h1.45v1.45h-1.45zM292.9 225.8h1.45v1.45h-1.45zM292.9 261.4h1.45v1.45h-1.45zM292.9 212.5h1.45v1.45h-1.45zM292.9 260.8h1.45v1.45h-1.45zM292.9 243.6h1.45v1.45h-1.45zM292.9 210.6h1.45v1.45h-1.45zM292.9 237.3h1.45v1.45h-1.45zM292.9 248.7h1.45v1.45h-1.45zM292.9 208.1h1.45v1.45h-1.45zM292.9 215.7h1.45v1.45h-1.45zM292.9 232.8h1.45v1.45h-1.45zM292.9 226.5h1.45v1.45h-1.45zM292.9 223.9h1.45v1.45h-1.45zM292.9 251.2h1.45v1.45h-1.45zM292.9 225.8h1.45v1.45h-1.45zM292.9 209.3h1.45v1.45h-1.45zM292.9 225.2h1.45v1.45h-1.45zM292.9 207.4h1.45v1.45h-1.45zM292.9 192.8h1.45v1.45h-1.45zM292.9 210.6h1.45v1.45h-1.45zM292.9 236.6h1.45v1.45h-1.45zM292.9 233.5h1.45v1.45h-1.45zM292.9 213.1h1.45v1.45h-1.45zM292.9 244.2h1.45v1.45h-1.45zM292.9 209.3h1.45v1.45h-1.45zM292.9 236.0h1.45v1.45h-1.45zM292.9 225.8h1.45v1.45h-1.45zM292.9 213.1h1.45v1.45h-1.45zM292.9 220.1h1.45v1.45h-1.45zM292.9 218.8h1.45v1.45h-1.45zM292.9 211.2h1.45v1.45h-1.45zM294.6 241.7h1.45v1.45h-1.45zM294.6 225.8h1.45v1.45h-1.45zM294.6 233.5h1.45v1.45h-1.45zM294.6 216.3h1.45v1.45h-1.45zM294.6 199.8h1.45v1.45h-1.45zM294.6 219.5h1.45v1.45h-1.45zM294.6 216.9h1.45v1.45h-1.45zM294.6 219.5h1.45v1.45h-1.45zM294.6 199.8h1.45v1.45h-1.45zM294.6 215.0h1.45v1.45h-1.45zM294.6 204.9h1.45v1.45h-1.45zM294.6 213.8h1.45v1.45h-1.45zM294.6 244.9h1.45v1.45h-1.45zM294.6 253.1h1.45v1.45h-1.45zM294.6 220.1h1.45v1.45h-1.45zM294.6 207.4h1.45v1.45h-1.45zM294.6 232.8h1.45v1.45h-1.45zM294.6 215.0h1.45v1.45h-1.45zM294.6 225.8h1.45v1.45h-1.45zM294.6 205.5h1.45v1.45h-1.45zM294.6 225.8h1.45v1.45h-1.45zM294.6 244.2h1.45v1.45h-1.45zM294.6 190.9h1.45v1.45h-1.45zM294.6 204.9h1.45v1.45h-1.45zM294.6 230.3h1.45v1.45h-1.45zM294.6 219.5h1.45v1.45h-1.45zM294.6 235.4h1.45v1.45h-1.45zM294.6 241.7h1.45v1.45h-1.45zM296.3 251.9h1.45v1.45h-1.45zM296.3 214.4h1.45v1.45h-1.45zM296.3 215.7h1.45v1.45h-1.45zM296.3 249.3h1.45v1.45h-1.45zM296.3 195.4h1.45v1.45h-1.45zM296.3 255.7h1.45v1.45h-1.45zM296.3 215.7h1.45v1.45h-1.45zM296.3 241.7h1.45v1.45h-1.45zM296.3 230.9h1.45v1.45h-1.45zM296.3 214.4h1.45v1.45h-1.45zM296.3 223.9h1.45v1.45h-1.45zM296.3 228.4h1.45v1.45h-1.45zM296.3 197.3h1.45v1.45h-1.45zM296.3 210.6h1.45v1.45h-1.45zM296.3 216.3h1.45v1.45h-1.45zM296.3 222.7h1.45v1.45h-1.45zM296.3 220.8h1.45v1.45h-1.45zM296.3 260.1h1.45v1.45h-1.45zM296.3 216.3h1.45v1.45h-1.45zM296.3 225.2h1.45v1.45h-1.45zM296.3 229.0h1.45v1.45h-1.45zM296.3 260.1h1.45v1.45h-1.45zM296.3 231.5h1.45v1.45h-1.45zM296.3 231.5h1.45v1.45h-1.45zM296.3 203.0h1.45v1.45h-1.45zM296.3 202.3h1.45v1.45h-1.45zM296.3 237.9h1.45v1.45h-1.45zM296.3 219.5h1.45v1.45h-1.45zM296.3 206.1h1.45v1.45h-1.45zM296.3 180.1h1.45v1.45h-1.45zM296.3 213.1h1.45v1.45h-1.45zM296.3 213.8h1.45v1.45h-1.45zM296.3 229.6h1.45v1.45h-1.45zM296.3 206.1h1.45v1.45h-1.45zM296.3 212.5h1.45v1.45h-1.45zM296.3 213.8h1.45v1.45h-1.45zM296.3 221.4h1.45v1.45h-1.45zM296.3 234.1h1.45v1.45h-1.45zM296.3 213.1h1.45v1.45h-1.45zM296.3 220.1h1.45v1.45h-1.45zM296.3 215.7h1.45v1.45h-1.45zM296.3 205.5h1.45v1.45h-1.45zM296.3 205.5h1.45v1.45h-1.45zM296.3 215.7h1.45v1.45h-1.45zM296.3 203.0h1.45v1.45h-1.45zM296.3 220.8h1.45v1.45h-1.45zM296.3 232.2h1.45v1.45h-1.45zM296.3 225.2h1.45v1.45h-1.45zM296.3 218.2h1.45v1.45h-1.45zM296.3 226.5h1.45v1.45h-1.45zM296.3 213.8h1.45v1.45h-1.45zM296.3 213.8h1.45v1.45h-1.45zM296.3 216.3h1.45v1.45h-1.45zM296.3 260.8h1.45v1.45h-1.45zM298.0 232.8h1.45v1.45h-1.45zM298.0 223.3h1.45v1.45h-1.45zM298.0 197.3h1.45v1.45h-1.45zM298.0 232.8h1.45v1.45h-1.45zM298.0 212.5h1.45v1.45h-1.45zM298.0 197.3h1.45v1.45h-1.45zM298.0 217.6h1.45v1.45h-1.45zM298.0 218.8h1.45v1.45h-1.45zM298.0 225.2h1.45v1.45h-1.45zM298.0 254.4h1.45v1.45h-1.45zM298.0 209.3h1.45v1.45h-1.45zM298.0 218.2h1.45v1.45h-1.45zM298.0 219.5h1.45v1.45h-1.45zM298.0 187.1h1.45v1.45h-1.45zM298.0 230.9h1.45v1.45h-1.45zM298.0 216.9h1.45v1.45h-1.45zM298.0 247.4h1.45v1.45h-1.45zM298.0 213.1h1.45v1.45h-1.45zM298.0 215.7h1.45v1.45h-1.45zM298.0 249.3h1.45v1.45h-1.45zM298.0 218.8h1.45v1.45h-1.45zM298.0 212.5h1.45v1.45h-1.45zM298.0 194.1h1.45v1.45h-1.45zM298.0 221.4h1.45v1.45h-1.45zM298.0 222.7h1.45v1.45h-1.45zM298.0 216.9h1.45v1.45h-1.45zM298.0 225.8h1.45v1.45h-1.45zM298.0 229.6h1.45v1.45h-1.45zM298.0 211.9h1.45v1.45h-1.45zM298.0 220.1h1.45v1.45h-1.45zM298.0 222.7h1.45v1.45h-1.45zM298.0 236.0h1.45v1.45h-1.45zM298.0 213.8h1.45v1.45h-1.45zM298.0 197.3h1.45v1.45h-1.45zM298.0 222.7h1.45v1.45h-1.45zM298.0 210.6h1.45v1.45h-1.45zM298.0 227.7h1.45v1.45h-1.45zM298.0 227.7h1.45v1.45h-1.45zM298.0 204.2h1.45v1.45h-1.45zM298.0 241.7h1.45v1.45h-1.45zM298.0 257.6h1.45v1.45h-1.45zM298.0 205.5h1.45v1.45h-1.45zM298.0 223.3h1.45v1.45h-1.45zM298.0 234.1h1.45v1.45h-1.45zM298.0 211.9h1.45v1.45h-1.45zM298.0 213.8h1.45v1.45h-1.45zM298.0 225.8h1.45v1.45h-1.45zM298.0 206.8h1.45v1.45h-1.45zM298.0 204.2h1.45v1.45h-1.45zM298.0 222.7h1.45v1.45h-1.45zM298.0 246.2h1.45v1.45h-1.45zM298.0 222.7h1.45v1.45h-1.45zM298.0 243.6h1.45v1.45h-1.45zM298.0 248.1h1.45v1.45h-1.45zM298.0 202.3h1.45v1.45h-1.45zM298.0 222.7h1.45v1.45h-1.45zM298.0 220.1h1.45v1.45h-1.45zM298.0 215.7h1.45v1.45h-1.45zM298.0 211.9h1.45v1.45h-1.45zM298.0 218.8h1.45v1.45h-1.45zM298.0 229.0h1.45v1.45h-1.45zM298.0 247.4h1.45v1.45h-1.45zM298.0 230.9h1.45v1.45h-1.45zM298.0 226.5h1.45v1.45h-1.45zM298.0 231.5h1.45v1.45h-1.45zM298.0 223.3h1.45v1.45h-1.45zM298.0 216.3h1.45v1.45h-1.45zM298.0 186.5h1.45v1.45h-1.45zM298.0 209.3h1.45v1.45h-1.45zM298.0 225.2h1.45v1.45h-1.45zM298.0 222.7h1.45v1.45h-1.45zM298.0 239.8h1.45v1.45h-1.45zM298.0 232.2h1.45v1.45h-1.45zM298.0 210.6h1.45v1.45h-1.45zM298.0 216.9h1.45v1.45h-1.45zM298.0 217.6h1.45v1.45h-1.45zM298.0 244.2h1.45v1.45h-1.45zM298.0 175.7h1.45v1.45h-1.45zM298.0 210.0h1.45v1.45h-1.45zM298.0 209.3h1.45v1.45h-1.45zM298.0 223.3h1.45v1.45h-1.45zM298.0 225.8h1.45v1.45h-1.45zM298.0 204.9h1.45v1.45h-1.45zM298.0 216.9h1.45v1.45h-1.45zM298.0 208.1h1.45v1.45h-1.45zM298.0 208.7h1.45v1.45h-1.45zM298.0 206.1h1.45v1.45h-1.45zM298.0 213.8h1.45v1.45h-1.45zM298.0 222.7h1.45v1.45h-1.45zM298.0 227.1h1.45v1.45h-1.45zM298.0 253.1h1.45v1.45h-1.45zM298.0 209.3h1.45v1.45h-1.45zM298.0 198.5h1.45v1.45h-1.45zM298.0 222.0h1.45v1.45h-1.45zM298.0 204.2h1.45v1.45h-1.45zM298.0 246.2h1.45v1.45h-1.45zM298.0 219.5h1.45v1.45h-1.45zM298.0 199.8h1.45v1.45h-1.45zM298.0 246.2h1.45v1.45h-1.45zM298.0 229.6h1.45v1.45h-1.45zM298.0 196.0h1.45v1.45h-1.45zM298.0 231.5h1.45v1.45h-1.45zM298.0 210.6h1.45v1.45h-1.45zM298.0 214.4h1.45v1.45h-1.45zM298.0 208.7h1.45v1.45h-1.45zM298.0 210.6h1.45v1.45h-1.45zM299.6 223.3h1.45v1.45h-1.45zM299.6 246.8h1.45v1.45h-1.45zM299.6 223.9h1.45v1.45h-1.45zM299.6 216.9h1.45v1.45h-1.45zM299.6 222.7h1.45v1.45h-1.45zM299.6 220.8h1.45v1.45h-1.45zM299.6 248.1h1.45v1.45h-1.45zM299.6 229.0h1.45v1.45h-1.45zM299.6 218.2h1.45v1.45h-1.45zM299.6 199.8h1.45v1.45h-1.45zM299.6 210.6h1.45v1.45h-1.45zM299.6 218.2h1.45v1.45h-1.45zM299.6 210.0h1.45v1.45h-1.45zM299.6 222.7h1.45v1.45h-1.45zM299.6 215.0h1.45v1.45h-1.45zM299.6 220.1h1.45v1.45h-1.45zM299.6 253.1h1.45v1.45h-1.45zM299.6 216.3h1.45v1.45h-1.45zM299.6 215.7h1.45v1.45h-1.45zM299.6 220.8h1.45v1.45h-1.45zM299.6 222.7h1.45v1.45h-1.45zM299.6 199.8h1.45v1.45h-1.45zM299.6 211.9h1.45v1.45h-1.45zM299.6 213.1h1.45v1.45h-1.45zM299.6 206.1h1.45v1.45h-1.45zM299.6 207.4h1.45v1.45h-1.45zM299.6 189.6h1.45v1.45h-1.45zM299.6 225.2h1.45v1.45h-1.45zM299.6 231.5h1.45v1.45h-1.45zM299.6 209.3h1.45v1.45h-1.45zM299.6 215.7h1.45v1.45h-1.45zM299.6 222.0h1.45v1.45h-1.45zM299.6 223.9h1.45v1.45h-1.45zM299.6 210.0h1.45v1.45h-1.45zM299.6 233.5h1.45v1.45h-1.45zM299.6 224.6h1.45v1.45h-1.45zM299.6 236.6h1.45v1.45h-1.45zM299.6 230.9h1.45v1.45h-1.45zM299.6 227.1h1.45v1.45h-1.45zM299.6 215.7h1.45v1.45h-1.45zM299.6 240.4h1.45v1.45h-1.45zM299.6 245.5h1.45v1.45h-1.45zM299.6 206.1h1.45v1.45h-1.45zM299.6 217.6h1.45v1.45h-1.45zM299.6 203.6h1.45v1.45h-1.45zM299.6 212.5h1.45v1.45h-1.45zM299.6 221.4h1.45v1.45h-1.45zM299.6 234.1h1.45v1.45h-1.45zM299.6 225.8h1.45v1.45h-1.45zM299.6 213.8h1.45v1.45h-1.45zM299.6 216.9h1.45v1.45h-1.45zM299.6 227.1h1.45v1.45h-1.45zM299.6 236.0h1.45v1.45h-1.45zM299.6 227.7h1.45v1.45h-1.45zM299.6 236.6h1.45v1.45h-1.45zM299.6 238.5h1.45v1.45h-1.45zM299.6 243.6h1.45v1.45h-1.45zM299.6 256.9h1.45v1.45h-1.45zM299.6 192.2h1.45v1.45h-1.45zM299.6 255.0h1.45v1.45h-1.45zM299.6 222.0h1.45v1.45h-1.45zM299.6 234.7h1.45v1.45h-1.45zM299.6 208.1h1.45v1.45h-1.45zM299.6 203.0h1.45v1.45h-1.45zM299.6 214.4h1.45v1.45h-1.45zM299.6 211.9h1.45v1.45h-1.45zM299.6 214.4h1.45v1.45h-1.45zM299.6 218.2h1.45v1.45h-1.45zM299.6 227.7h1.45v1.45h-1.45zM299.6 230.9h1.45v1.45h-1.45zM299.6 229.6h1.45v1.45h-1.45zM299.6 220.1h1.45v1.45h-1.45zM299.6 212.5h1.45v1.45h-1.45zM299.6 213.8h1.45v1.45h-1.45zM299.6 220.1h1.45v1.45h-1.45zM299.6 230.3h1.45v1.45h-1.45zM299.6 218.8h1.45v1.45h-1.45zM299.6 215.7h1.45v1.45h-1.45zM299.6 234.7h1.45v1.45h-1.45zM299.6 222.7h1.45v1.45h-1.45zM299.6 201.1h1.45v1.45h-1.45zM299.6 231.5h1.45v1.45h-1.45zM299.6 206.8h1.45v1.45h-1.45zM299.6 220.8h1.45v1.45h-1.45zM301.3 201.1h1.45v1.45h-1.45zM301.3 223.3h1.45v1.45h-1.45zM301.3 225.2h1.45v1.45h-1.45zM301.3 227.7h1.45v1.45h-1.45zM301.3 226.5h1.45v1.45h-1.45zM301.3 216.3h1.45v1.45h-1.45zM301.3 213.1h1.45v1.45h-1.45zM301.3 253.1h1.45v1.45h-1.45zM301.3 213.1h1.45v1.45h-1.45zM301.3 210.6h1.45v1.45h-1.45zM301.3 251.9h1.45v1.45h-1.45zM301.3 229.0h1.45v1.45h-1.45zM301.3 222.7h1.45v1.45h-1.45zM301.3 228.4h1.45v1.45h-1.45zM301.3 209.3h1.45v1.45h-1.45zM301.3 257.6h1.45v1.45h-1.45zM301.3 219.5h1.45v1.45h-1.45zM301.3 202.3h1.45v1.45h-1.45zM301.3 241.1h1.45v1.45h-1.45zM301.3 217.6h1.45v1.45h-1.45zM301.3 236.6h1.45v1.45h-1.45zM301.3 201.7h1.45v1.45h-1.45zM301.3 198.5h1.45v1.45h-1.45zM301.3 208.1h1.45v1.45h-1.45zM301.3 223.3h1.45v1.45h-1.45zM301.3 228.4h1.45v1.45h-1.45zM301.3 218.8h1.45v1.45h-1.45zM301.3 213.8h1.45v1.45h-1.45zM301.3 219.5h1.45v1.45h-1.45zM301.3 243.0h1.45v1.45h-1.45zM301.3 225.8h1.45v1.45h-1.45zM301.3 214.4h1.45v1.45h-1.45zM301.3 228.4h1.45v1.45h-1.45zM301.3 218.8h1.45v1.45h-1.45zM301.3 224.6h1.45v1.45h-1.45zM301.3 204.9h1.45v1.45h-1.45zM301.3 200.4h1.45v1.45h-1.45zM301.3 218.2h1.45v1.45h-1.45zM301.3 230.9h1.45v1.45h-1.45zM301.3 208.7h1.45v1.45h-1.45zM301.3 222.7h1.45v1.45h-1.45zM301.3 211.2h1.45v1.45h-1.45zM301.3 212.5h1.45v1.45h-1.45zM301.3 203.0h1.45v1.45h-1.45zM301.3 252.5h1.45v1.45h-1.45zM301.3 223.3h1.45v1.45h-1.45zM301.3 218.2h1.45v1.45h-1.45zM301.3 214.4h1.45v1.45h-1.45zM301.3 229.6h1.45v1.45h-1.45zM301.3 223.3h1.45v1.45h-1.45zM301.3 232.8h1.45v1.45h-1.45zM301.3 220.1h1.45v1.45h-1.45zM301.3 210.6h1.45v1.45h-1.45zM301.3 210.6h1.45v1.45h-1.45zM301.3 245.5h1.45v1.45h-1.45zM301.3 216.9h1.45v1.45h-1.45zM301.3 218.8h1.45v1.45h-1.45zM301.3 226.5h1.45v1.45h-1.45zM301.3 208.1h1.45v1.45h-1.45zM301.3 224.6h1.45v1.45h-1.45zM301.3 220.1h1.45v1.45h-1.45zM301.3 251.9h1.45v1.45h-1.45zM301.3 222.0h1.45v1.45h-1.45zM301.3 212.5h1.45v1.45h-1.45zM301.3 225.8h1.45v1.45h-1.45zM301.3 211.9h1.45v1.45h-1.45zM301.3 234.7h1.45v1.45h-1.45zM301.3 233.5h1.45v1.45h-1.45zM301.3 242.3h1.45v1.45h-1.45zM301.3 220.1h1.45v1.45h-1.45zM301.3 223.9h1.45v1.45h-1.45zM301.3 245.5h1.45v1.45h-1.45zM301.3 220.8h1.45v1.45h-1.45zM301.3 236.6h1.45v1.45h-1.45zM301.3 223.9h1.45v1.45h-1.45zM301.3 213.8h1.45v1.45h-1.45zM301.3 231.5h1.45v1.45h-1.45zM301.3 241.7h1.45v1.45h-1.45zM301.3 222.7h1.45v1.45h-1.45zM301.3 224.6h1.45v1.45h-1.45zM301.3 207.4h1.45v1.45h-1.45zM301.3 239.2h1.45v1.45h-1.45zM301.3 230.3h1.45v1.45h-1.45zM301.3 187.7h1.45v1.45h-1.45zM301.3 234.1h1.45v1.45h-1.45zM301.3 232.2h1.45v1.45h-1.45zM301.3 211.9h1.45v1.45h-1.45zM301.3 234.7h1.45v1.45h-1.45zM301.3 217.6h1.45v1.45h-1.45zM301.3 206.1h1.45v1.45h-1.45zM301.3 205.5h1.45v1.45h-1.45zM301.3 178.8h1.45v1.45h-1.45zM301.3 236.0h1.45v1.45h-1.45zM301.3 201.7h1.45v1.45h-1.45zM301.3 232.2h1.45v1.45h-1.45zM301.3 227.1h1.45v1.45h-1.45zM301.3 222.7h1.45v1.45h-1.45zM301.3 216.3h1.45v1.45h-1.45zM301.3 216.3h1.45v1.45h-1.45zM301.3 207.4h1.45v1.45h-1.45zM301.3 239.2h1.45v1.45h-1.45zM301.3 205.5h1.45v1.45h-1.45zM301.3 198.5h1.45v1.45h-1.45zM301.3 190.9h1.45v1.45h-1.45zM301.3 229.0h1.45v1.45h-1.45zM301.3 213.1h1.45v1.45h-1.45zM301.3 226.5h1.45v1.45h-1.45zM301.3 246.8h1.45v1.45h-1.45zM301.3 215.0h1.45v1.45h-1.45zM301.3 225.2h1.45v1.45h-1.45zM301.3 208.7h1.45v1.45h-1.45zM301.3 223.9h1.45v1.45h-1.45zM301.3 210.6h1.45v1.45h-1.45zM301.3 222.7h1.45v1.45h-1.45zM301.3 203.0h1.45v1.45h-1.45zM301.3 243.6h1.45v1.45h-1.45zM301.3 234.7h1.45v1.45h-1.45zM301.3 205.5h1.45v1.45h-1.45zM301.3 228.4h1.45v1.45h-1.45zM301.3 213.8h1.45v1.45h-1.45zM301.3 221.4h1.45v1.45h-1.45zM301.3 228.4h1.45v1.45h-1.45zM301.3 223.3h1.45v1.45h-1.45zM301.3 213.1h1.45v1.45h-1.45zM301.3 200.4h1.45v1.45h-1.45zM301.3 232.2h1.45v1.45h-1.45zM301.3 215.0h1.45v1.45h-1.45zM301.3 238.5h1.45v1.45h-1.45zM301.3 220.1h1.45v1.45h-1.45zM301.3 230.9h1.45v1.45h-1.45zM301.3 240.4h1.45v1.45h-1.45zM301.3 223.3h1.45v1.45h-1.45zM301.3 220.1h1.45v1.45h-1.45zM301.3 209.3h1.45v1.45h-1.45zM301.3 219.5h1.45v1.45h-1.45zM303.0 226.5h1.45v1.45h-1.45zM303.0 222.0h1.45v1.45h-1.45zM303.0 225.2h1.45v1.45h-1.45zM303.0 239.8h1.45v1.45h-1.45zM303.0 225.8h1.45v1.45h-1.45zM303.0 215.7h1.45v1.45h-1.45zM303.0 211.9h1.45v1.45h-1.45zM303.0 215.0h1.45v1.45h-1.45zM303.0 200.4h1.45v1.45h-1.45zM303.0 208.1h1.45v1.45h-1.45zM303.0 194.1h1.45v1.45h-1.45zM303.0 222.0h1.45v1.45h-1.45zM303.0 234.7h1.45v1.45h-1.45zM303.0 205.5h1.45v1.45h-1.45zM303.0 208.1h1.45v1.45h-1.45zM303.0 207.4h1.45v1.45h-1.45zM303.0 229.0h1.45v1.45h-1.45zM303.0 208.7h1.45v1.45h-1.45zM303.0 221.4h1.45v1.45h-1.45zM303.0 222.7h1.45v1.45h-1.45zM303.0 203.6h1.45v1.45h-1.45zM303.0 216.3h1.45v1.45h-1.45zM303.0 200.4h1.45v1.45h-1.45zM303.0 228.4h1.45v1.45h-1.45zM303.0 258.2h1.45v1.45h-1.45zM303.0 224.6h1.45v1.45h-1.45zM303.0 187.7h1.45v1.45h-1.45zM303.0 220.1h1.45v1.45h-1.45zM303.0 232.2h1.45v1.45h-1.45zM303.0 229.0h1.45v1.45h-1.45zM303.0 219.5h1.45v1.45h-1.45zM303.0 229.6h1.45v1.45h-1.45zM303.0 213.1h1.45v1.45h-1.45zM303.0 221.4h1.45v1.45h-1.45zM303.0 201.7h1.45v1.45h-1.45zM303.0 223.3h1.45v1.45h-1.45zM303.0 229.6h1.45v1.45h-1.45zM303.0 207.4h1.45v1.45h-1.45zM303.0 222.0h1.45v1.45h-1.45zM303.0 207.4h1.45v1.45h-1.45zM303.0 222.7h1.45v1.45h-1.45zM304.7 236.6h1.45v1.45h-1.45zM304.7 239.8h1.45v1.45h-1.45zM304.7 247.4h1.45v1.45h-1.45zM304.7 228.4h1.45v1.45h-1.45zM304.7 220.8h1.45v1.45h-1.45zM304.7 214.4h1.45v1.45h-1.45zM304.7 206.1h1.45v1.45h-1.45zM304.7 215.0h1.45v1.45h-1.45zM304.7 257.6h1.45v1.45h-1.45zM304.7 224.6h1.45v1.45h-1.45zM304.7 225.8h1.45v1.45h-1.45zM304.7 204.9h1.45v1.45h-1.45zM304.7 221.4h1.45v1.45h-1.45zM304.7 218.8h1.45v1.45h-1.45zM304.7 222.0h1.45v1.45h-1.45zM304.7 227.7h1.45v1.45h-1.45zM304.7 217.6h1.45v1.45h-1.45zM304.7 216.3h1.45v1.45h-1.45zM304.7 232.8h1.45v1.45h-1.45zM304.7 256.9h1.45v1.45h-1.45zM304.7 222.0h1.45v1.45h-1.45zM304.7 218.8h1.45v1.45h-1.45zM304.7 215.0h1.45v1.45h-1.45zM304.7 240.4h1.45v1.45h-1.45zM304.7 228.4h1.45v1.45h-1.45zM304.7 215.0h1.45v1.45h-1.45zM304.7 222.7h1.45v1.45h-1.45zM304.7 223.9h1.45v1.45h-1.45zM304.7 257.6h1.45v1.45h-1.45zM304.7 225.2h1.45v1.45h-1.45zM304.7 212.5h1.45v1.45h-1.45zM304.7 206.8h1.45v1.45h-1.45zM304.7 221.4h1.45v1.45h-1.45zM304.7 214.4h1.45v1.45h-1.45zM306.4 211.2h1.45v1.45h-1.45zM306.4 216.3h1.45v1.45h-1.45zM306.4 197.3h1.45v1.45h-1.45zM306.4 220.8h1.45v1.45h-1.45zM306.4 208.1h1.45v1.45h-1.45zM306.4 201.1h1.45v1.45h-1.45zM306.4 227.1h1.45v1.45h-1.45zM306.4 217.6h1.45v1.45h-1.45zM306.4 205.5h1.45v1.45h-1.45zM306.4 209.3h1.45v1.45h-1.45zM306.4 221.4h1.45v1.45h-1.45zM306.4 230.3h1.45v1.45h-1.45zM306.4 219.5h1.45v1.45h-1.45zM306.4 211.2h1.45v1.45h-1.45zM306.4 220.8h1.45v1.45h-1.45zM306.4 257.6h1.45v1.45h-1.45zM306.4 228.4h1.45v1.45h-1.45zM306.4 212.5h1.45v1.45h-1.45zM306.4 241.1h1.45v1.45h-1.45zM306.4 221.4h1.45v1.45h-1.45zM306.4 212.5h1.45v1.45h-1.45zM306.4 215.7h1.45v1.45h-1.45zM306.4 211.2h1.45v1.45h-1.45zM306.4 246.2h1.45v1.45h-1.45zM308.0 208.1h1.45v1.45h-1.45zM308.0 221.4h1.45v1.45h-1.45zM308.0 208.7h1.45v1.45h-1.45zM308.0 236.0h1.45v1.45h-1.45zM308.0 211.9h1.45v1.45h-1.45zM308.0 218.2h1.45v1.45h-1.45zM308.0 208.7h1.45v1.45h-1.45zM308.0 228.4h1.45v1.45h-1.45zM308.0 208.7h1.45v1.45h-1.45zM308.0 245.5h1.45v1.45h-1.45zM308.0 203.0h1.45v1.45h-1.45zM308.0 211.2h1.45v1.45h-1.45zM308.0 216.3h1.45v1.45h-1.45zM308.0 211.2h1.45v1.45h-1.45zM309.7 240.4h1.45v1.45h-1.45zM309.7 215.0h1.45v1.45h-1.45zM309.7 220.8h1.45v1.45h-1.45zM309.7 216.3h1.45v1.45h-1.45zM309.7 213.1h1.45v1.45h-1.45zM309.7 234.7h1.45v1.45h-1.45zM309.7 218.2h1.45v1.45h-1.45zM309.7 231.5h1.45v1.45h-1.45zM309.7 201.1h1.45v1.45h-1.45zM309.7 222.0h1.45v1.45h-1.45zM309.7 215.7h1.45v1.45h-1.45zM309.7 238.5h1.45v1.45h-1.45zM309.7 211.2h1.45v1.45h-1.45zM309.7 227.7h1.45v1.45h-1.45zM309.7 218.2h1.45v1.45h-1.45zM309.7 232.2h1.45v1.45h-1.45zM309.7 246.2h1.45v1.45h-1.45zM309.7 237.3h1.45v1.45h-1.45zM309.7 204.2h1.45v1.45h-1.45zM309.7 229.0h1.45v1.45h-1.45zM309.7 254.4h1.45v1.45h-1.45zM309.7 227.1h1.45v1.45h-1.45zM309.7 210.6h1.45v1.45h-1.45zM309.7 226.5h1.45v1.45h-1.45zM309.7 222.0h1.45v1.45h-1.45zM309.7 231.5h1.45v1.45h-1.45zM309.7 223.9h1.45v1.45h-1.45zM309.7 229.6h1.45v1.45h-1.45zM309.7 227.7h1.45v1.45h-1.45zM309.7 216.3h1.45v1.45h-1.45zM309.7 218.8h1.45v1.45h-1.45zM309.7 237.3h1.45v1.45h-1.45zM309.7 243.6h1.45v1.45h-1.45zM309.7 211.9h1.45v1.45h-1.45zM309.7 222.7h1.45v1.45h-1.45zM309.7 226.5h1.45v1.45h-1.45zM309.7 222.0h1.45v1.45h-1.45zM309.7 244.9h1.45v1.45h-1.45zM309.7 222.0h1.45v1.45h-1.45zM309.7 235.4h1.45v1.45h-1.45zM309.7 199.2h1.45v1.45h-1.45zM309.7 227.1h1.45v1.45h-1.45zM309.7 229.0h1.45v1.45h-1.45zM309.7 213.1h1.45v1.45h-1.45zM309.7 234.1h1.45v1.45h-1.45zM309.7 226.5h1.45v1.45h-1.45zM309.7 254.4h1.45v1.45h-1.45zM309.7 230.9h1.45v1.45h-1.45zM309.7 222.7h1.45v1.45h-1.45zM309.7 258.2h1.45v1.45h-1.45zM309.7 209.3h1.45v1.45h-1.45zM309.7 232.2h1.45v1.45h-1.45zM309.7 224.6h1.45v1.45h-1.45zM311.4 222.7h1.45v1.45h-1.45zM311.4 218.8h1.45v1.45h-1.45zM311.4 229.6h1.45v1.45h-1.45zM311.4 223.3h1.45v1.45h-1.45zM311.4 223.3h1.45v1.45h-1.45zM311.4 208.7h1.45v1.45h-1.45zM311.4 232.8h1.45v1.45h-1.45zM311.4 245.5h1.45v1.45h-1.45zM311.4 237.9h1.45v1.45h-1.45zM311.4 215.7h1.45v1.45h-1.45zM311.4 227.1h1.45v1.45h-1.45zM311.4 256.3h1.45v1.45h-1.45zM311.4 225.2h1.45v1.45h-1.45zM311.4 239.2h1.45v1.45h-1.45zM311.4 232.2h1.45v1.45h-1.45zM311.4 227.7h1.45v1.45h-1.45zM311.4 242.3h1.45v1.45h-1.45zM311.4 225.2h1.45v1.45h-1.45zM311.4 218.8h1.45v1.45h-1.45zM311.4 213.8h1.45v1.45h-1.45zM311.4 220.1h1.45v1.45h-1.45zM311.4 226.5h1.45v1.45h-1.45zM311.4 239.8h1.45v1.45h-1.45zM311.4 218.8h1.45v1.45h-1.45zM311.4 211.2h1.45v1.45h-1.45zM311.4 238.5h1.45v1.45h-1.45zM311.4 241.1h1.45v1.45h-1.45zM311.4 224.6h1.45v1.45h-1.45zM311.4 230.3h1.45v1.45h-1.45zM311.4 208.7h1.45v1.45h-1.45zM311.4 222.7h1.45v1.45h-1.45zM311.4 263.9h1.45v1.45h-1.45zM311.4 254.4h1.45v1.45h-1.45zM311.4 216.3h1.45v1.45h-1.45zM311.4 226.5h1.45v1.45h-1.45zM311.4 228.4h1.45v1.45h-1.45zM311.4 228.4h1.45v1.45h-1.45zM311.4 217.6h1.45v1.45h-1.45zM311.4 185.8h1.45v1.45h-1.45zM311.4 233.5h1.45v1.45h-1.45zM311.4 251.9h1.45v1.45h-1.45zM311.4 217.6h1.45v1.45h-1.45zM311.4 223.9h1.45v1.45h-1.45zM311.4 230.3h1.45v1.45h-1.45zM313.1 216.3h1.45v1.45h-1.45zM314.8 225.8h1.45v1.45h-1.45zM314.8 218.2h1.45v1.45h-1.45zM314.8 218.2h1.45v1.45h-1.45zM314.8 233.5h1.45v1.45h-1.45zM314.8 222.7h1.45v1.45h-1.45zM314.8 222.0h1.45v1.45h-1.45zM314.8 230.9h1.45v1.45h-1.45zM314.8 224.6h1.45v1.45h-1.45zM314.8 251.2h1.45v1.45h-1.45zM314.8 260.1h1.45v1.45h-1.45zM314.8 229.0h1.45v1.45h-1.45zM314.8 206.1h1.45v1.45h-1.45zM314.8 210.0h1.45v1.45h-1.45zM314.8 217.6h1.45v1.45h-1.45zM314.8 218.2h1.45v1.45h-1.45zM314.8 214.4h1.45v1.45h-1.45zM314.8 213.1h1.45v1.45h-1.45zM314.8 232.8h1.45v1.45h-1.45zM314.8 222.7h1.45v1.45h-1.45zM314.8 204.9h1.45v1.45h-1.45zM314.8 215.7h1.45v1.45h-1.45zM314.8 219.5h1.45v1.45h-1.45zM314.8 211.2h1.45v1.45h-1.45zM314.8 216.3h1.45v1.45h-1.45zM314.8 232.2h1.45v1.45h-1.45zM314.8 234.7h1.45v1.45h-1.45zM314.8 225.8h1.45v1.45h-1.45zM314.8 239.8h1.45v1.45h-1.45zM314.8 239.8h1.45v1.45h-1.45zM314.8 210.6h1.45v1.45h-1.45zM314.8 230.3h1.45v1.45h-1.45zM314.8 227.7h1.45v1.45h-1.45zM314.8 222.0h1.45v1.45h-1.45zM314.8 215.7h1.45v1.45h-1.45zM314.8 222.0h1.45v1.45h-1.45zM314.8 225.2h1.45v1.45h-1.45zM314.8 223.9h1.45v1.45h-1.45zM314.8 208.1h1.45v1.45h-1.45zM314.8 228.4h1.45v1.45h-1.45zM314.8 231.5h1.45v1.45h-1.45zM314.8 247.4h1.45v1.45h-1.45zM314.8 223.9h1.45v1.45h-1.45zM314.8 251.9h1.45v1.45h-1.45zM314.8 252.5h1.45v1.45h-1.45zM314.8 215.0h1.45v1.45h-1.45zM314.8 206.8h1.45v1.45h-1.45zM314.8 222.0h1.45v1.45h-1.45zM314.8 233.5h1.45v1.45h-1.45zM314.8 210.6h1.45v1.45h-1.45zM314.8 229.6h1.45v1.45h-1.45zM314.8 230.9h1.45v1.45h-1.45zM314.8 232.8h1.45v1.45h-1.45zM314.8 220.1h1.45v1.45h-1.45zM314.8 222.7h1.45v1.45h-1.45zM314.8 208.7h1.45v1.45h-1.45zM314.8 225.8h1.45v1.45h-1.45zM314.8 220.1h1.45v1.45h-1.45zM316.4 225.2h1.45v1.45h-1.45zM316.4 223.3h1.45v1.45h-1.45zM318.1 229.0h1.45v1.45h-1.45zM318.1 210.0h1.45v1.45h-1.45zM318.1 217.6h1.45v1.45h-1.45zM318.1 240.4h1.45v1.45h-1.45zM318.1 213.8h1.45v1.45h-1.45zM318.1 230.9h1.45v1.45h-1.45zM318.1 236.6h1.45v1.45h-1.45zM318.1 215.7h1.45v1.45h-1.45zM318.1 234.1h1.45v1.45h-1.45zM318.1 244.9h1.45v1.45h-1.45zM318.1 242.3h1.45v1.45h-1.45zM318.1 201.1h1.45v1.45h-1.45zM318.1 248.1h1.45v1.45h-1.45zM318.1 214.4h1.45v1.45h-1.45zM318.1 203.0h1.45v1.45h-1.45zM318.1 252.5h1.45v1.45h-1.45zM318.1 228.4h1.45v1.45h-1.45zM318.1 233.5h1.45v1.45h-1.45zM319.8 255.0h1.45v1.45h-1.45zM319.8 219.5h1.45v1.45h-1.45zM319.8 222.0h1.45v1.45h-1.45zM319.8 205.5h1.45v1.45h-1.45zM319.8 210.6h1.45v1.45h-1.45zM319.8 221.4h1.45v1.45h-1.45zM319.8 263.9h1.45v1.45h-1.45zM319.8 236.6h1.45v1.45h-1.45zM319.8 208.1h1.45v1.45h-1.45zM319.8 224.6h1.45v1.45h-1.45zM319.8 211.9h1.45v1.45h-1.45zM319.8 230.9h1.45v1.45h-1.45zM319.8 212.5h1.45v1.45h-1.45zM319.8 224.6h1.45v1.45h-1.45zM319.8 254.4h1.45v1.45h-1.45zM319.8 263.3h1.45v1.45h-1.45zM319.8 226.5h1.45v1.45h-1.45zM319.8 232.8h1.45v1.45h-1.45zM319.8 243.0h1.45v1.45h-1.45zM319.8 243.0h1.45v1.45h-1.45zM319.8 228.4h1.45v1.45h-1.45zM319.8 226.5h1.45v1.45h-1.45zM319.8 235.4h1.45v1.45h-1.45zM319.8 243.0h1.45v1.45h-1.45zM319.8 229.0h1.45v1.45h-1.45zM319.8 226.5h1.45v1.45h-1.45zM319.8 251.9h1.45v1.45h-1.45zM319.8 220.1h1.45v1.45h-1.45zM319.8 216.3h1.45v1.45h-1.45zM319.8 234.7h1.45v1.45h-1.45zM319.8 200.4h1.45v1.45h-1.45zM319.8 220.1h1.45v1.45h-1.45zM319.8 213.8h1.45v1.45h-1.45zM319.8 223.9h1.45v1.45h-1.45zM319.8 233.5h1.45v1.45h-1.45zM319.8 237.3h1.45v1.45h-1.45zM319.8 256.3h1.45v1.45h-1.45zM319.8 229.0h1.45v1.45h-1.45zM319.8 232.8h1.45v1.45h-1.45zM319.8 229.6h1.45v1.45h-1.45zM319.8 211.2h1.45v1.45h-1.45zM319.8 233.5h1.45v1.45h-1.45zM319.8 229.6h1.45v1.45h-1.45zM319.8 238.5h1.45v1.45h-1.45zM319.8 222.7h1.45v1.45h-1.45zM319.8 242.3h1.45v1.45h-1.45zM319.8 229.6h1.45v1.45h-1.45zM319.8 239.8h1.45v1.45h-1.45zM319.8 238.5h1.45v1.45h-1.45zM319.8 228.4h1.45v1.45h-1.45zM319.8 223.9h1.45v1.45h-1.45zM319.8 219.5h1.45v1.45h-1.45zM319.8 232.8h1.45v1.45h-1.45zM319.8 215.7h1.45v1.45h-1.45zM319.8 235.4h1.45v1.45h-1.45zM319.8 230.9h1.45v1.45h-1.45zM319.8 236.6h1.45v1.45h-1.45zM319.8 215.0h1.45v1.45h-1.45zM319.8 235.4h1.45v1.45h-1.45zM319.8 251.9h1.45v1.45h-1.45zM319.8 210.6h1.45v1.45h-1.45zM319.8 214.4h1.45v1.45h-1.45zM319.8 220.1h1.45v1.45h-1.45zM319.8 216.3h1.45v1.45h-1.45zM319.8 234.1h1.45v1.45h-1.45zM319.8 229.0h1.45v1.45h-1.45zM319.8 213.8h1.45v1.45h-1.45zM319.8 229.6h1.45v1.45h-1.45zM319.8 213.8h1.45v1.45h-1.45zM319.8 215.7h1.45v1.45h-1.45zM319.8 234.1h1.45v1.45h-1.45zM319.8 220.8h1.45v1.45h-1.45zM319.8 226.5h1.45v1.45h-1.45zM319.8 226.5h1.45v1.45h-1.45zM319.8 237.9h1.45v1.45h-1.45zM319.8 225.8h1.45v1.45h-1.45zM319.8 230.9h1.45v1.45h-1.45zM319.8 230.9h1.45v1.45h-1.45zM319.8 215.7h1.45v1.45h-1.45zM319.8 267.1h1.45v1.45h-1.45zM319.8 258.8h1.45v1.45h-1.45zM319.8 256.3h1.45v1.45h-1.45zM319.8 209.3h1.45v1.45h-1.45zM319.8 223.3h1.45v1.45h-1.45zM319.8 223.9h1.45v1.45h-1.45zM319.8 227.7h1.45v1.45h-1.45zM319.8 239.8h1.45v1.45h-1.45zM319.8 227.7h1.45v1.45h-1.45zM319.8 220.1h1.45v1.45h-1.45zM319.8 220.1h1.45v1.45h-1.45zM319.8 224.6h1.45v1.45h-1.45zM319.8 230.3h1.45v1.45h-1.45zM319.8 243.0h1.45v1.45h-1.45zM319.8 228.4h1.45v1.45h-1.45zM319.8 229.0h1.45v1.45h-1.45zM319.8 209.3h1.45v1.45h-1.45zM319.8 262.7h1.45v1.45h-1.45zM319.8 230.9h1.45v1.45h-1.45zM319.8 214.4h1.45v1.45h-1.45zM319.8 222.0h1.45v1.45h-1.45zM319.8 231.5h1.45v1.45h-1.45zM319.8 228.4h1.45v1.45h-1.45zM319.8 225.8h1.45v1.45h-1.45zM319.8 228.4h1.45v1.45h-1.45zM319.8 208.1h1.45v1.45h-1.45zM319.8 217.6h1.45v1.45h-1.45zM319.8 221.4h1.45v1.45h-1.45zM319.8 263.3h1.45v1.45h-1.45zM319.8 219.5h1.45v1.45h-1.45zM319.8 203.0h1.45v1.45h-1.45zM319.8 203.0h1.45v1.45h-1.45zM319.8 238.5h1.45v1.45h-1.45zM319.8 252.5h1.45v1.45h-1.45zM319.8 218.2h1.45v1.45h-1.45zM319.8 229.0h1.45v1.45h-1.45zM319.8 232.2h1.45v1.45h-1.45zM319.8 229.6h1.45v1.45h-1.45zM319.8 217.6h1.45v1.45h-1.45zM319.8 220.1h1.45v1.45h-1.45zM319.8 226.5h1.45v1.45h-1.45zM319.8 226.5h1.45v1.45h-1.45zM319.8 224.6h1.45v1.45h-1.45zM319.8 220.8h1.45v1.45h-1.45zM319.8 237.9h1.45v1.45h-1.45zM319.8 227.7h1.45v1.45h-1.45zM319.8 248.7h1.45v1.45h-1.45zM319.8 238.5h1.45v1.45h-1.45zM319.8 229.0h1.45v1.45h-1.45zM319.8 208.7h1.45v1.45h-1.45zM319.8 234.1h1.45v1.45h-1.45zM319.8 219.5h1.45v1.45h-1.45zM319.8 227.1h1.45v1.45h-1.45zM319.8 227.7h1.45v1.45h-1.45zM319.8 236.0h1.45v1.45h-1.45zM319.8 225.8h1.45v1.45h-1.45zM319.8 216.3h1.45v1.45h-1.45zM319.8 218.2h1.45v1.45h-1.45zM319.8 222.0h1.45v1.45h-1.45zM319.8 208.1h1.45v1.45h-1.45zM319.8 244.9h1.45v1.45h-1.45zM319.8 210.0h1.45v1.45h-1.45zM319.8 213.1h1.45v1.45h-1.45zM319.8 234.1h1.45v1.45h-1.45zM319.8 228.4h1.45v1.45h-1.45zM321.5 206.8h1.45v1.45h-1.45zM321.5 235.4h1.45v1.45h-1.45zM321.5 229.0h1.45v1.45h-1.45zM321.5 217.6h1.45v1.45h-1.45zM321.5 220.1h1.45v1.45h-1.45zM321.5 261.4h1.45v1.45h-1.45zM321.5 215.0h1.45v1.45h-1.45zM321.5 225.8h1.45v1.45h-1.45zM321.5 236.6h1.45v1.45h-1.45zM321.5 237.3h1.45v1.45h-1.45zM321.5 215.7h1.45v1.45h-1.45zM321.5 233.5h1.45v1.45h-1.45zM321.5 234.1h1.45v1.45h-1.45zM321.5 232.8h1.45v1.45h-1.45zM321.5 245.5h1.45v1.45h-1.45zM321.5 188.4h1.45v1.45h-1.45zM321.5 223.9h1.45v1.45h-1.45zM321.5 200.4h1.45v1.45h-1.45zM321.5 223.3h1.45v1.45h-1.45zM321.5 190.3h1.45v1.45h-1.45zM321.5 225.8h1.45v1.45h-1.45zM321.5 257.6h1.45v1.45h-1.45zM321.5 218.2h1.45v1.45h-1.45zM321.5 228.4h1.45v1.45h-1.45zM321.5 222.0h1.45v1.45h-1.45zM321.5 221.4h1.45v1.45h-1.45zM321.5 225.8h1.45v1.45h-1.45zM321.5 237.9h1.45v1.45h-1.45zM321.5 225.2h1.45v1.45h-1.45zM321.5 211.9h1.45v1.45h-1.45zM321.5 236.0h1.45v1.45h-1.45zM321.5 234.1h1.45v1.45h-1.45zM321.5 218.2h1.45v1.45h-1.45zM321.5 216.3h1.45v1.45h-1.45zM321.5 231.5h1.45v1.45h-1.45zM321.5 234.1h1.45v1.45h-1.45zM321.5 211.2h1.45v1.45h-1.45zM321.5 227.7h1.45v1.45h-1.45zM321.5 246.2h1.45v1.45h-1.45zM321.5 223.9h1.45v1.45h-1.45zM321.5 240.4h1.45v1.45h-1.45zM321.5 227.1h1.45v1.45h-1.45zM321.5 219.5h1.45v1.45h-1.45zM321.5 247.4h1.45v1.45h-1.45zM321.5 231.5h1.45v1.45h-1.45zM321.5 244.2h1.45v1.45h-1.45zM321.5 213.8h1.45v1.45h-1.45zM321.5 242.3h1.45v1.45h-1.45zM321.5 210.6h1.45v1.45h-1.45zM321.5 225.2h1.45v1.45h-1.45zM321.5 236.6h1.45v1.45h-1.45zM321.5 219.5h1.45v1.45h-1.45zM321.5 244.9h1.45v1.45h-1.45zM321.5 232.8h1.45v1.45h-1.45zM321.5 244.9h1.45v1.45h-1.45zM321.5 249.3h1.45v1.45h-1.45zM321.5 220.8h1.45v1.45h-1.45zM321.5 217.6h1.45v1.45h-1.45zM321.5 220.8h1.45v1.45h-1.45zM321.5 227.7h1.45v1.45h-1.45zM321.5 251.2h1.45v1.45h-1.45zM321.5 210.0h1.45v1.45h-1.45zM321.5 194.1h1.45v1.45h-1.45zM321.5 204.2h1.45v1.45h-1.45zM321.5 214.4h1.45v1.45h-1.45zM321.5 236.6h1.45v1.45h-1.45zM321.5 227.1h1.45v1.45h-1.45zM321.5 262.7h1.45v1.45h-1.45zM321.5 248.7h1.45v1.45h-1.45zM321.5 258.2h1.45v1.45h-1.45zM321.5 196.6h1.45v1.45h-1.45zM321.5 214.4h1.45v1.45h-1.45zM321.5 236.0h1.45v1.45h-1.45zM321.5 211.9h1.45v1.45h-1.45zM321.5 222.7h1.45v1.45h-1.45zM321.5 223.9h1.45v1.45h-1.45zM321.5 218.8h1.45v1.45h-1.45zM321.5 225.8h1.45v1.45h-1.45zM321.5 216.3h1.45v1.45h-1.45zM321.5 210.6h1.45v1.45h-1.45zM321.5 199.8h1.45v1.45h-1.45zM321.5 257.6h1.45v1.45h-1.45zM321.5 228.4h1.45v1.45h-1.45zM321.5 203.0h1.45v1.45h-1.45zM321.5 232.2h1.45v1.45h-1.45zM321.5 215.7h1.45v1.45h-1.45zM321.5 236.0h1.45v1.45h-1.45zM321.5 232.8h1.45v1.45h-1.45zM321.5 224.6h1.45v1.45h-1.45zM321.5 252.5h1.45v1.45h-1.45zM321.5 224.6h1.45v1.45h-1.45zM321.5 219.5h1.45v1.45h-1.45zM321.5 232.2h1.45v1.45h-1.45zM321.5 195.4h1.45v1.45h-1.45zM321.5 215.0h1.45v1.45h-1.45zM321.5 190.9h1.45v1.45h-1.45zM321.5 204.2h1.45v1.45h-1.45zM321.5 205.5h1.45v1.45h-1.45zM321.5 218.8h1.45v1.45h-1.45zM321.5 248.7h1.45v1.45h-1.45zM321.5 251.2h1.45v1.45h-1.45zM321.5 225.2h1.45v1.45h-1.45zM321.5 235.4h1.45v1.45h-1.45zM321.5 219.5h1.45v1.45h-1.45zM321.5 213.1h1.45v1.45h-1.45zM321.5 218.8h1.45v1.45h-1.45zM321.5 210.0h1.45v1.45h-1.45zM321.5 214.4h1.45v1.45h-1.45zM321.5 220.1h1.45v1.45h-1.45zM321.5 238.5h1.45v1.45h-1.45zM321.5 225.8h1.45v1.45h-1.45zM321.5 230.9h1.45v1.45h-1.45zM321.5 198.5h1.45v1.45h-1.45zM321.5 245.5h1.45v1.45h-1.45zM321.5 236.6h1.45v1.45h-1.45zM321.5 228.4h1.45v1.45h-1.45zM321.5 260.8h1.45v1.45h-1.45zM321.5 238.5h1.45v1.45h-1.45zM321.5 221.4h1.45v1.45h-1.45zM321.5 224.6h1.45v1.45h-1.45zM321.5 225.8h1.45v1.45h-1.45zM321.5 224.6h1.45v1.45h-1.45zM321.5 237.9h1.45v1.45h-1.45zM321.5 249.3h1.45v1.45h-1.45zM321.5 229.6h1.45v1.45h-1.45zM321.5 224.6h1.45v1.45h-1.45zM321.5 196.6h1.45v1.45h-1.45zM321.5 226.5h1.45v1.45h-1.45zM321.5 225.2h1.45v1.45h-1.45zM321.5 227.1h1.45v1.45h-1.45zM321.5 234.1h1.45v1.45h-1.45zM321.5 230.3h1.45v1.45h-1.45zM321.5 242.3h1.45v1.45h-1.45zM321.5 225.8h1.45v1.45h-1.45zM321.5 219.5h1.45v1.45h-1.45zM321.5 218.2h1.45v1.45h-1.45zM321.5 236.0h1.45v1.45h-1.45zM321.5 218.2h1.45v1.45h-1.45zM321.5 231.5h1.45v1.45h-1.45zM321.5 231.5h1.45v1.45h-1.45zM321.5 223.3h1.45v1.45h-1.45zM321.5 215.7h1.45v1.45h-1.45zM321.5 244.2h1.45v1.45h-1.45zM321.5 239.2h1.45v1.45h-1.45zM321.5 223.3h1.45v1.45h-1.45zM321.5 230.9h1.45v1.45h-1.45zM321.5 214.4h1.45v1.45h-1.45zM321.5 224.6h1.45v1.45h-1.45zM321.5 211.9h1.45v1.45h-1.45zM321.5 224.6h1.45v1.45h-1.45zM321.5 226.5h1.45v1.45h-1.45zM321.5 245.5h1.45v1.45h-1.45zM321.5 227.1h1.45v1.45h-1.45zM321.5 206.1h1.45v1.45h-1.45zM321.5 223.3h1.45v1.45h-1.45zM321.5 225.2h1.45v1.45h-1.45zM321.5 204.2h1.45v1.45h-1.45zM321.5 215.7h1.45v1.45h-1.45zM321.5 206.1h1.45v1.45h-1.45zM321.5 260.8h1.45v1.45h-1.45zM321.5 218.8h1.45v1.45h-1.45zM321.5 234.1h1.45v1.45h-1.45zM321.5 226.5h1.45v1.45h-1.45zM321.5 220.8h1.45v1.45h-1.45zM321.5 236.0h1.45v1.45h-1.45zM321.5 247.4h1.45v1.45h-1.45zM321.5 218.2h1.45v1.45h-1.45zM321.5 220.1h1.45v1.45h-1.45zM321.5 220.1h1.45v1.45h-1.45zM321.5 215.7h1.45v1.45h-1.45zM321.5 222.0h1.45v1.45h-1.45zM321.5 219.5h1.45v1.45h-1.45zM321.5 238.5h1.45v1.45h-1.45zM321.5 230.9h1.45v1.45h-1.45zM321.5 218.8h1.45v1.45h-1.45zM321.5 220.8h1.45v1.45h-1.45zM321.5 222.7h1.45v1.45h-1.45zM321.5 245.5h1.45v1.45h-1.45zM321.5 230.3h1.45v1.45h-1.45zM321.5 213.1h1.45v1.45h-1.45zM321.5 210.0h1.45v1.45h-1.45zM321.5 232.8h1.45v1.45h-1.45zM321.5 241.1h1.45v1.45h-1.45zM321.5 227.1h1.45v1.45h-1.45zM321.5 199.8h1.45v1.45h-1.45zM321.5 221.4h1.45v1.45h-1.45zM321.5 220.8h1.45v1.45h-1.45zM321.5 220.1h1.45v1.45h-1.45zM321.5 216.9h1.45v1.45h-1.45zM321.5 228.4h1.45v1.45h-1.45zM321.5 230.3h1.45v1.45h-1.45zM321.5 232.8h1.45v1.45h-1.45zM321.5 224.6h1.45v1.45h-1.45zM321.5 221.4h1.45v1.45h-1.45zM321.5 243.6h1.45v1.45h-1.45zM321.5 215.0h1.45v1.45h-1.45zM321.5 236.6h1.45v1.45h-1.45zM321.5 200.4h1.45v1.45h-1.45zM321.5 234.1h1.45v1.45h-1.45zM321.5 226.5h1.45v1.45h-1.45zM323.2 225.2h1.45v1.45h-1.45zM323.2 188.4h1.45v1.45h-1.45zM323.2 218.8h1.45v1.45h-1.45zM323.2 211.9h1.45v1.45h-1.45zM323.2 216.3h1.45v1.45h-1.45zM323.2 210.6h1.45v1.45h-1.45zM323.2 206.1h1.45v1.45h-1.45zM323.2 204.2h1.45v1.45h-1.45zM323.2 227.1h1.45v1.45h-1.45zM326.5 244.9h1.45v1.45h-1.45zM326.5 213.8h1.45v1.45h-1.45zM326.5 229.6h1.45v1.45h-1.45zM326.5 231.5h1.45v1.45h-1.45zM326.5 229.6h1.45v1.45h-1.45zM326.5 237.3h1.45v1.45h-1.45zM326.5 222.7h1.45v1.45h-1.45zM326.5 239.8h1.45v1.45h-1.45zM326.5 243.6h1.45v1.45h-1.45zM326.5 208.7h1.45v1.45h-1.45zM326.5 215.0h1.45v1.45h-1.45zM326.5 225.8h1.45v1.45h-1.45zM326.5 243.0h1.45v1.45h-1.45zM326.5 234.7h1.45v1.45h-1.45zM326.5 219.5h1.45v1.45h-1.45zM326.5 232.2h1.45v1.45h-1.45zM326.5 227.7h1.45v1.45h-1.45zM326.5 227.7h1.45v1.45h-1.45zM326.5 218.8h1.45v1.45h-1.45zM326.5 213.1h1.45v1.45h-1.45zM326.5 221.4h1.45v1.45h-1.45zM326.5 256.3h1.45v1.45h-1.45zM326.5 215.0h1.45v1.45h-1.45zM326.5 208.1h1.45v1.45h-1.45zM328.2 222.0h1.45v1.45h-1.45zM328.2 225.2h1.45v1.45h-1.45zM329.9 220.8h1.45v1.45h-1.45zM329.9 253.1h1.45v1.45h-1.45zM329.9 233.5h1.45v1.45h-1.45zM329.9 234.7h1.45v1.45h-1.45zM329.9 204.2h1.45v1.45h-1.45zM329.9 225.8h1.45v1.45h-1.45zM329.9 229.6h1.45v1.45h-1.45zM329.9 257.6h1.45v1.45h-1.45zM329.9 209.3h1.45v1.45h-1.45zM329.9 213.1h1.45v1.45h-1.45zM329.9 225.8h1.45v1.45h-1.45zM331.6 260.8h1.45v1.45h-1.45zM331.6 206.1h1.45v1.45h-1.45zM336.6 231.5h1.45v1.45h-1.45zM336.6 227.7h1.45v1.45h-1.45zM336.6 224.6h1.45v1.45h-1.45zM336.6 227.7h1.45v1.45h-1.45zM336.6 205.5h1.45v1.45h-1.45zM336.6 246.2h1.45v1.45h-1.45zM336.6 227.1h1.45v1.45h-1.45zM336.6 235.4h1.45v1.45h-1.45zM336.6 252.5h1.45v1.45h-1.45zM336.6 207.4h1.45v1.45h-1.45zM336.6 236.0h1.45v1.45h-1.45zM336.6 264.6h1.45v1.45h-1.45zM336.6 262.0h1.45v1.45h-1.45zM336.6 228.4h1.45v1.45h-1.45zM336.6 215.0h1.45v1.45h-1.45zM336.6 218.8h1.45v1.45h-1.45zM336.6 235.4h1.45v1.45h-1.45zM336.6 230.9h1.45v1.45h-1.45zM336.6 218.8h1.45v1.45h-1.45zM336.6 228.4h1.45v1.45h-1.45zM336.6 223.3h1.45v1.45h-1.45zM336.6 250.0h1.45v1.45h-1.45zM336.6 237.9h1.45v1.45h-1.45zM336.6 232.2h1.45v1.45h-1.45zM336.6 222.7h1.45v1.45h-1.45zM336.6 217.6h1.45v1.45h-1.45zM336.6 217.6h1.45v1.45h-1.45zM336.6 255.0h1.45v1.45h-1.45zM336.6 239.8h1.45v1.45h-1.45zM336.6 230.9h1.45v1.45h-1.45zM336.6 208.7h1.45v1.45h-1.45zM336.6 220.1h1.45v1.45h-1.45zM336.6 211.2h1.45v1.45h-1.45zM336.6 234.1h1.45v1.45h-1.45zM336.6 235.4h1.45v1.45h-1.45zM336.6 243.6h1.45v1.45h-1.45zM336.6 203.6h1.45v1.45h-1.45zM336.6 249.3h1.45v1.45h-1.45zM336.6 223.9h1.45v1.45h-1.45zM336.6 206.8h1.45v1.45h-1.45zM336.6 232.2h1.45v1.45h-1.45zM336.6 228.4h1.45v1.45h-1.45zM336.6 211.9h1.45v1.45h-1.45zM336.6 237.9h1.45v1.45h-1.45zM336.6 220.8h1.45v1.45h-1.45zM336.6 235.4h1.45v1.45h-1.45zM336.6 252.5h1.45v1.45h-1.45zM336.6 227.7h1.45v1.45h-1.45zM336.6 231.5h1.45v1.45h-1.45zM336.6 222.7h1.45v1.45h-1.45zM336.6 225.8h1.45v1.45h-1.45zM336.6 207.4h1.45v1.45h-1.45zM336.6 203.6h1.45v1.45h-1.45zM336.6 233.5h1.45v1.45h-1.45zM338.3 239.2h1.45v1.45h-1.45zM338.3 229.0h1.45v1.45h-1.45zM338.3 218.8h1.45v1.45h-1.45zM338.3 234.7h1.45v1.45h-1.45zM338.3 221.4h1.45v1.45h-1.45zM338.3 222.7h1.45v1.45h-1.45zM338.3 241.1h1.45v1.45h-1.45zM338.3 236.0h1.45v1.45h-1.45zM338.3 222.7h1.45v1.45h-1.45zM338.3 243.6h1.45v1.45h-1.45zM338.3 222.7h1.45v1.45h-1.45zM338.3 246.2h1.45v1.45h-1.45zM338.3 223.3h1.45v1.45h-1.45zM338.3 205.5h1.45v1.45h-1.45zM338.3 260.1h1.45v1.45h-1.45zM338.3 234.1h1.45v1.45h-1.45zM338.3 240.4h1.45v1.45h-1.45zM338.3 206.1h1.45v1.45h-1.45zM338.3 239.2h1.45v1.45h-1.45zM338.3 230.3h1.45v1.45h-1.45zM338.3 241.1h1.45v1.45h-1.45zM338.3 217.6h1.45v1.45h-1.45zM340.0 232.8h1.45v1.45h-1.45zM340.0 240.4h1.45v1.45h-1.45zM340.0 218.2h1.45v1.45h-1.45zM340.0 227.7h1.45v1.45h-1.45zM340.0 213.1h1.45v1.45h-1.45zM340.0 223.3h1.45v1.45h-1.45zM340.0 234.1h1.45v1.45h-1.45zM340.0 221.4h1.45v1.45h-1.45zM340.0 246.2h1.45v1.45h-1.45zM340.0 229.0h1.45v1.45h-1.45zM340.0 260.1h1.45v1.45h-1.45zM340.0 229.6h1.45v1.45h-1.45zM340.0 238.5h1.45v1.45h-1.45zM340.0 210.6h1.45v1.45h-1.45zM340.0 213.8h1.45v1.45h-1.45zM340.0 217.6h1.45v1.45h-1.45zM340.0 235.4h1.45v1.45h-1.45zM340.0 232.2h1.45v1.45h-1.45zM340.0 230.3h1.45v1.45h-1.45zM340.0 238.5h1.45v1.45h-1.45zM340.0 243.6h1.45v1.45h-1.45zM340.0 218.2h1.45v1.45h-1.45zM340.0 216.3h1.45v1.45h-1.45zM340.0 213.8h1.45v1.45h-1.45zM341.6 232.2h1.45v1.45h-1.45zM341.6 226.5h1.45v1.45h-1.45zM341.6 230.3h1.45v1.45h-1.45zM341.6 243.0h1.45v1.45h-1.45zM343.3 243.6h1.45v1.45h-1.45zM343.3 234.1h1.45v1.45h-1.45zM343.3 216.9h1.45v1.45h-1.45zM343.3 229.6h1.45v1.45h-1.45zM343.3 230.9h1.45v1.45h-1.45zM343.3 218.8h1.45v1.45h-1.45zM343.3 229.6h1.45v1.45h-1.45zM343.3 211.9h1.45v1.45h-1.45zM343.3 214.4h1.45v1.45h-1.45zM343.3 241.1h1.45v1.45h-1.45zM343.3 225.2h1.45v1.45h-1.45zM343.3 223.3h1.45v1.45h-1.45zM343.3 240.4h1.45v1.45h-1.45zM343.3 250.0h1.45v1.45h-1.45zM343.3 209.3h1.45v1.45h-1.45zM343.3 230.3h1.45v1.45h-1.45zM343.3 213.1h1.45v1.45h-1.45zM343.3 244.2h1.45v1.45h-1.45zM345.0 230.3h1.45v1.45h-1.45zM345.0 237.9h1.45v1.45h-1.45zM346.7 236.0h1.45v1.45h-1.45zM346.7 223.9h1.45v1.45h-1.45zM346.7 236.0h1.45v1.45h-1.45zM346.7 231.5h1.45v1.45h-1.45zM346.7 223.3h1.45v1.45h-1.45zM346.7 194.7h1.45v1.45h-1.45zM346.7 230.9h1.45v1.45h-1.45zM346.7 221.4h1.45v1.45h-1.45zM346.7 227.7h1.45v1.45h-1.45zM346.7 236.6h1.45v1.45h-1.45zM346.7 230.3h1.45v1.45h-1.45zM346.7 228.4h1.45v1.45h-1.45zM346.7 213.8h1.45v1.45h-1.45zM346.7 233.5h1.45v1.45h-1.45zM346.7 224.6h1.45v1.45h-1.45zM346.7 229.0h1.45v1.45h-1.45zM346.7 228.4h1.45v1.45h-1.45zM346.7 204.9h1.45v1.45h-1.45zM346.7 234.1h1.45v1.45h-1.45zM346.7 227.7h1.45v1.45h-1.45zM346.7 230.9h1.45v1.45h-1.45zM346.7 220.8h1.45v1.45h-1.45zM346.7 218.2h1.45v1.45h-1.45zM346.7 229.6h1.45v1.45h-1.45zM346.7 212.5h1.45v1.45h-1.45zM346.7 214.4h1.45v1.45h-1.45zM346.7 234.1h1.45v1.45h-1.45zM346.7 196.6h1.45v1.45h-1.45zM346.7 245.5h1.45v1.45h-1.45zM346.7 239.2h1.45v1.45h-1.45zM346.7 235.4h1.45v1.45h-1.45zM346.7 219.5h1.45v1.45h-1.45zM346.7 243.0h1.45v1.45h-1.45zM346.7 237.3h1.45v1.45h-1.45zM346.7 218.2h1.45v1.45h-1.45zM346.7 225.2h1.45v1.45h-1.45zM346.7 241.7h1.45v1.45h-1.45zM346.7 232.2h1.45v1.45h-1.45zM346.7 216.9h1.45v1.45h-1.45zM346.7 253.8h1.45v1.45h-1.45zM346.7 248.1h1.45v1.45h-1.45zM346.7 225.8h1.45v1.45h-1.45zM346.7 191.5h1.45v1.45h-1.45zM346.7 232.8h1.45v1.45h-1.45zM346.7 225.8h1.45v1.45h-1.45zM346.7 201.1h1.45v1.45h-1.45zM346.7 233.5h1.45v1.45h-1.45zM348.4 208.7h1.45v1.45h-1.45zM348.4 180.7h1.45v1.45h-1.45zM348.4 212.5h1.45v1.45h-1.45zM348.4 237.3h1.45v1.45h-1.45zM350.0 217.6h1.45v1.45h-1.45zM350.0 213.1h1.45v1.45h-1.45zM350.0 237.9h1.45v1.45h-1.45zM350.0 240.4h1.45v1.45h-1.45zM350.0 229.6h1.45v1.45h-1.45zM350.0 236.6h1.45v1.45h-1.45zM350.0 232.2h1.45v1.45h-1.45zM350.0 232.8h1.45v1.45h-1.45zM350.0 211.2h1.45v1.45h-1.45zM350.0 223.9h1.45v1.45h-1.45zM350.0 212.5h1.45v1.45h-1.45zM350.0 225.8h1.45v1.45h-1.45zM350.0 246.8h1.45v1.45h-1.45zM350.0 210.6h1.45v1.45h-1.45zM350.0 218.2h1.45v1.45h-1.45zM350.0 236.0h1.45v1.45h-1.45zM350.0 242.3h1.45v1.45h-1.45zM350.0 225.2h1.45v1.45h-1.45zM350.0 231.5h1.45v1.45h-1.45zM350.0 220.8h1.45v1.45h-1.45zM350.0 213.8h1.45v1.45h-1.45zM350.0 227.7h1.45v1.45h-1.45zM350.0 208.7h1.45v1.45h-1.45zM350.0 262.0h1.45v1.45h-1.45zM350.0 241.7h1.45v1.45h-1.45zM350.0 255.7h1.45v1.45h-1.45zM350.0 214.4h1.45v1.45h-1.45zM350.0 222.7h1.45v1.45h-1.45zM350.0 211.9h1.45v1.45h-1.45zM350.0 230.3h1.45v1.45h-1.45zM350.0 191.5h1.45v1.45h-1.45zM350.0 223.9h1.45v1.45h-1.45zM350.0 220.1h1.45v1.45h-1.45zM350.0 246.2h1.45v1.45h-1.45zM350.0 251.9h1.45v1.45h-1.45zM350.0 216.3h1.45v1.45h-1.45zM350.0 236.0h1.45v1.45h-1.45zM350.0 225.8h1.45v1.45h-1.45zM351.7 199.2h1.45v1.45h-1.45zM351.7 221.4h1.45v1.45h-1.45zM353.4 218.8h1.45v1.45h-1.45zM353.4 211.9h1.45v1.45h-1.45zM353.4 237.9h1.45v1.45h-1.45zM353.4 230.9h1.45v1.45h-1.45zM353.4 230.3h1.45v1.45h-1.45zM353.4 219.5h1.45v1.45h-1.45zM353.4 224.6h1.45v1.45h-1.45zM353.4 228.4h1.45v1.45h-1.45zM353.4 218.8h1.45v1.45h-1.45zM353.4 251.2h1.45v1.45h-1.45zM353.4 232.2h1.45v1.45h-1.45zM353.4 236.6h1.45v1.45h-1.45zM353.4 225.2h1.45v1.45h-1.45zM353.4 223.9h1.45v1.45h-1.45zM353.4 236.6h1.45v1.45h-1.45zM353.4 223.9h1.45v1.45h-1.45zM353.4 262.7h1.45v1.45h-1.45zM353.4 239.2h1.45v1.45h-1.45zM353.4 227.7h1.45v1.45h-1.45zM353.4 220.1h1.45v1.45h-1.45zM353.4 230.3h1.45v1.45h-1.45zM353.4 230.9h1.45v1.45h-1.45zM353.4 230.3h1.45v1.45h-1.45zM353.4 223.9h1.45v1.45h-1.45zM353.4 234.7h1.45v1.45h-1.45zM355.1 219.5h1.45v1.45h-1.45zM355.1 225.2h1.45v1.45h-1.45zM355.1 218.2h1.45v1.45h-1.45zM355.1 246.2h1.45v1.45h-1.45zM355.1 231.5h1.45v1.45h-1.45zM355.1 218.8h1.45v1.45h-1.45zM356.8 218.2h1.45v1.45h-1.45zM356.8 232.2h1.45v1.45h-1.45zM356.8 246.8h1.45v1.45h-1.45zM356.8 230.9h1.45v1.45h-1.45zM358.4 202.3h1.45v1.45h-1.45zM358.4 220.8h1.45v1.45h-1.45zM360.1 226.5h1.45v1.45h-1.45zM363.5 237.3h1.45v1.45h-1.45zM363.5 213.1h1.45v1.45h-1.45zM363.5 223.3h1.45v1.45h-1.45zM363.5 228.4h1.45v1.45h-1.45zM363.5 209.3h1.45v1.45h-1.45zM363.5 225.8h1.45v1.45h-1.45zM363.5 218.2h1.45v1.45h-1.45zM363.5 230.3h1.45v1.45h-1.45zM363.5 241.7h1.45v1.45h-1.45zM365.2 237.9h1.45v1.45h-1.45zM365.2 214.4h1.45v1.45h-1.45zM365.2 230.9h1.45v1.45h-1.45zM365.2 244.9h1.45v1.45h-1.45zM365.2 216.9h1.45v1.45h-1.45zM365.2 234.7h1.45v1.45h-1.45zM365.2 218.8h1.45v1.45h-1.45zM365.2 225.2h1.45v1.45h-1.45zM365.2 233.5h1.45v1.45h-1.45zM365.2 217.6h1.45v1.45h-1.45zM365.2 213.1h1.45v1.45h-1.45zM365.2 212.5h1.45v1.45h-1.45zM365.2 212.5h1.45v1.45h-1.45zM365.2 218.8h1.45v1.45h-1.45zM365.2 225.2h1.45v1.45h-1.45zM365.2 216.3h1.45v1.45h-1.45zM365.2 228.4h1.45v1.45h-1.45zM365.2 227.7h1.45v1.45h-1.45zM366.8 240.4h1.45v1.45h-1.45zM366.8 218.2h1.45v1.45h-1.45zM366.8 216.9h1.45v1.45h-1.45zM366.8 224.6h1.45v1.45h-1.45zM368.5 232.8h1.45v1.45h-1.45zM368.5 213.8h1.45v1.45h-1.45zM368.5 217.6h1.45v1.45h-1.45zM368.5 208.1h1.45v1.45h-1.45zM368.5 220.1h1.45v1.45h-1.45zM368.5 213.1h1.45v1.45h-1.45zM368.5 223.9h1.45v1.45h-1.45zM368.5 223.3h1.45v1.45h-1.45zM368.5 223.3h1.45v1.45h-1.45zM368.5 223.9h1.45v1.45h-1.45zM368.5 227.1h1.45v1.45h-1.45zM368.5 217.6h1.45v1.45h-1.45zM368.5 211.2h1.45v1.45h-1.45zM368.5 224.6h1.45v1.45h-1.45zM368.5 211.2h1.45v1.45h-1.45zM368.5 218.2h1.45v1.45h-1.45zM368.5 222.7h1.45v1.45h-1.45zM368.5 213.8h1.45v1.45h-1.45zM368.5 227.1h1.45v1.45h-1.45zM368.5 241.1h1.45v1.45h-1.45zM368.5 215.7h1.45v1.45h-1.45zM368.5 227.7h1.45v1.45h-1.45zM368.5 227.7h1.45v1.45h-1.45zM368.5 215.7h1.45v1.45h-1.45zM368.5 229.6h1.45v1.45h-1.45zM368.5 210.6h1.45v1.45h-1.45zM368.5 237.3h1.45v1.45h-1.45zM368.5 220.8h1.45v1.45h-1.45zM370.2 215.0h1.45v1.45h-1.45zM269.4 201.6h1.45v1.45h-1.45zM269.4 208.7h1.45v1.45h-1.45zM269.4 210.2h1.45v1.45h-1.45zM276.1 197.8h1.45v1.45h-1.45zM281.2 260.8h1.45v1.45h-1.45zM281.2 216.3h1.45v1.45h-1.45zM282.8 207.4h1.45v1.45h-1.45zM282.8 221.4h1.45v1.45h-1.45zM284.5 235.4h1.45v1.45h-1.45zM286.2 213.8h1.45v1.45h-1.45zM286.2 227.7h1.45v1.45h-1.45zM287.9 223.9h1.45v1.45h-1.45zM287.9 237.9h1.45v1.45h-1.45zM289.6 217.6h1.45v1.45h-1.45zM377.5 227.5h1.45v1.45h-1.45zM377.5 233.4h1.45v1.45h-1.45zM377.5 244.1h1.45v1.45h-1.45zM392.0 205.5h1.45v1.45h-1.45zM392.0 211.5h1.45v1.45h-1.45zM413.3 209.6h1.45v1.45h-1.45zM416.1 235.9h1.45v1.45h-1.45zM445.3 224.3h1.45v1.45h-1.45zM445.3 229.0h1.45v1.45h-1.45z"/>
<path fill="#000" d="M282.0 384.8h1.45v1.45h-1.45zM282.0 317.6h1.45v1.45h-1.45zM282.0 386.0h1.45v1.45h-1.45zM282.0 360.8h1.45v1.45h-1.45zM282.0 326.0h1.45v1.45h-1.45zM282.0 357.2h1.45v1.45h-1.45zM282.0 377.6h1.45v1.45h-1.45zM285.4 383.6h1.45v1.45h-1.45zM285.4 387.2h1.45v1.45h-1.45zM285.4 365.6h1.45v1.45h-1.45zM287.1 375.2h1.45v1.45h-1.45zM287.1 356.0h1.45v1.45h-1.45zM287.1 371.6h1.45v1.45h-1.45zM287.1 381.2h1.45v1.45h-1.45zM288.8 381.2h1.45v1.45h-1.45zM288.8 304.5h1.45v1.45h-1.45zM292.3 370.4h1.45v1.45h-1.45zM292.3 377.6h1.45v1.45h-1.45zM292.3 366.8h1.45v1.45h-1.45zM292.3 303.3h1.45v1.45h-1.45zM292.3 380.0h1.45v1.45h-1.45zM292.3 383.6h1.45v1.45h-1.45zM292.3 381.2h1.45v1.45h-1.45zM292.3 387.2h1.45v1.45h-1.45zM292.3 387.2h1.45v1.45h-1.45zM292.3 377.6h1.45v1.45h-1.45zM292.3 362.0h1.45v1.45h-1.45zM292.3 364.4h1.45v1.45h-1.45zM292.3 386.0h1.45v1.45h-1.45zM292.3 386.0h1.45v1.45h-1.45zM292.3 384.8h1.45v1.45h-1.45zM292.3 382.4h1.45v1.45h-1.45zM292.3 386.0h1.45v1.45h-1.45zM292.3 387.2h1.45v1.45h-1.45zM292.3 378.8h1.45v1.45h-1.45zM292.3 381.2h1.45v1.45h-1.45zM292.3 298.5h1.45v1.45h-1.45zM292.3 376.4h1.45v1.45h-1.45zM292.3 353.6h1.45v1.45h-1.45zM292.3 388.4h1.45v1.45h-1.45zM292.3 323.6h1.45v1.45h-1.45zM292.3 382.4h1.45v1.45h-1.45zM292.3 386.0h1.45v1.45h-1.45zM292.3 359.6h1.45v1.45h-1.45zM292.3 335.6h1.45v1.45h-1.45zM292.3 381.2h1.45v1.45h-1.45zM292.3 386.0h1.45v1.45h-1.45zM292.3 382.4h1.45v1.45h-1.45zM292.3 366.8h1.45v1.45h-1.45zM292.3 388.4h1.45v1.45h-1.45zM292.3 336.8h1.45v1.45h-1.45zM292.3 387.2h1.45v1.45h-1.45zM292.3 340.4h1.45v1.45h-1.45zM292.3 383.6h1.45v1.45h-1.45zM292.3 382.4h1.45v1.45h-1.45zM292.3 359.6h1.45v1.45h-1.45zM292.3 387.2h1.45v1.45h-1.45zM292.3 340.4h1.45v1.45h-1.45zM292.3 372.8h1.45v1.45h-1.45zM292.3 380.0h1.45v1.45h-1.45zM292.3 380.0h1.45v1.45h-1.45zM292.3 332.0h1.45v1.45h-1.45zM292.3 348.8h1.45v1.45h-1.45zM292.3 345.2h1.45v1.45h-1.45zM292.3 386.0h1.45v1.45h-1.45zM292.3 371.6h1.45v1.45h-1.45zM292.3 378.8h1.45v1.45h-1.45zM292.3 296.1h1.45v1.45h-1.45zM292.3 360.8h1.45v1.45h-1.45zM292.3 384.8h1.45v1.45h-1.45zM292.3 382.4h1.45v1.45h-1.45zM292.3 365.6h1.45v1.45h-1.45zM292.3 363.2h1.45v1.45h-1.45zM292.3 370.4h1.45v1.45h-1.45zM292.3 338.0h1.45v1.45h-1.45zM294.0 384.8h1.45v1.45h-1.45zM294.0 376.4h1.45v1.45h-1.45zM294.0 377.6h1.45v1.45h-1.45zM294.0 326.0h1.45v1.45h-1.45zM294.0 360.8h1.45v1.45h-1.45zM294.0 377.6h1.45v1.45h-1.45zM294.0 380.0h1.45v1.45h-1.45zM294.0 378.8h1.45v1.45h-1.45zM294.0 340.4h1.45v1.45h-1.45zM294.0 372.8h1.45v1.45h-1.45zM294.0 341.6h1.45v1.45h-1.45zM294.0 371.6h1.45v1.45h-1.45zM294.0 327.2h1.45v1.45h-1.45zM294.0 296.1h1.45v1.45h-1.45zM294.0 366.8h1.45v1.45h-1.45zM294.0 384.8h1.45v1.45h-1.45zM294.0 342.8h1.45v1.45h-1.45zM294.0 377.6h1.45v1.45h-1.45zM294.0 364.4h1.45v1.45h-1.45zM294.0 341.6h1.45v1.45h-1.45zM294.0 377.6h1.45v1.45h-1.45zM294.0 380.0h1.45v1.45h-1.45zM294.0 338.0h1.45v1.45h-1.45zM294.0 380.0h1.45v1.45h-1.45zM294.0 356.0h1.45v1.45h-1.45zM294.0 380.0h1.45v1.45h-1.45zM294.0 368.0h1.45v1.45h-1.45zM294.0 387.2h1.45v1.45h-1.45zM294.0 383.6h1.45v1.45h-1.45zM294.0 384.8h1.45v1.45h-1.45zM294.0 378.8h1.45v1.45h-1.45zM294.0 372.8h1.45v1.45h-1.45zM294.0 354.8h1.45v1.45h-1.45zM294.0 388.4h1.45v1.45h-1.45zM294.0 388.4h1.45v1.45h-1.45zM294.0 382.4h1.45v1.45h-1.45zM294.0 378.8h1.45v1.45h-1.45zM294.0 368.0h1.45v1.45h-1.45zM294.0 383.6h1.45v1.45h-1.45zM294.0 363.2h1.45v1.45h-1.45zM294.0 310.5h1.45v1.45h-1.45zM295.7 371.6h1.45v1.45h-1.45zM295.7 366.8h1.45v1.45h-1.45zM295.7 376.4h1.45v1.45h-1.45zM295.7 305.7h1.45v1.45h-1.45zM295.7 329.6h1.45v1.45h-1.45zM295.7 372.8h1.45v1.45h-1.45zM295.7 371.6h1.45v1.45h-1.45zM295.7 388.4h1.45v1.45h-1.45zM295.7 356.0h1.45v1.45h-1.45zM295.7 348.8h1.45v1.45h-1.45zM295.7 378.8h1.45v1.45h-1.45zM295.7 383.6h1.45v1.45h-1.45zM295.7 352.4h1.45v1.45h-1.45zM295.7 300.9h1.45v1.45h-1.45zM295.7 382.4h1.45v1.45h-1.45zM295.7 345.2h1.45v1.45h-1.45zM295.7 369.2h1.45v1.45h-1.45zM295.7 348.8h1.45v1.45h-1.45zM295.7 381.2h1.45v1.45h-1.45zM295.7 386.0h1.45v1.45h-1.45zM295.7 381.2h1.45v1.45h-1.45zM295.7 328.4h1.45v1.45h-1.45zM295.7 376.4h1.45v1.45h-1.45zM295.7 312.9h1.45v1.45h-1.45zM295.7 386.0h1.45v1.45h-1.45zM295.7 362.0h1.45v1.45h-1.45zM295.7 350.0h1.45v1.45h-1.45zM295.7 336.8h1.45v1.45h-1.45zM297.4 380.0h1.45v1.45h-1.45zM297.4 344.0h1.45v1.45h-1.45zM297.4 370.4h1.45v1.45h-1.45zM297.4 372.8h1.45v1.45h-1.45zM297.4 362.0h1.45v1.45h-1.45zM297.4 371.6h1.45v1.45h-1.45zM297.4 342.8h1.45v1.45h-1.45zM297.4 388.4h1.45v1.45h-1.45zM297.4 348.8h1.45v1.45h-1.45zM297.4 382.4h1.45v1.45h-1.45zM297.4 387.2h1.45v1.45h-1.45zM297.4 366.8h1.45v1.45h-1.45zM297.4 362.0h1.45v1.45h-1.45zM297.4 375.2h1.45v1.45h-1.45zM297.4 380.0h1.45v1.45h-1.45zM297.4 378.8h1.45v1.45h-1.45zM297.4 359.6h1.45v1.45h-1.45zM297.4 376.4h1.45v1.45h-1.45zM297.4 368.0h1.45v1.45h-1.45zM297.4 382.4h1.45v1.45h-1.45zM297.4 354.8h1.45v1.45h-1.45zM297.4 371.6h1.45v1.45h-1.45zM297.4 382.4h1.45v1.45h-1.45zM297.4 364.4h1.45v1.45h-1.45zM297.4 374.0h1.45v1.45h-1.45zM297.4 376.4h1.45v1.45h-1.45zM297.4 330.8h1.45v1.45h-1.45zM297.4 381.2h1.45v1.45h-1.45zM297.4 321.2h1.45v1.45h-1.45zM297.4 346.4h1.45v1.45h-1.45zM297.4 378.8h1.45v1.45h-1.45zM297.4 320.0h1.45v1.45h-1.45zM297.4 366.8h1.45v1.45h-1.45zM297.4 381.2h1.45v1.45h-1.45zM297.4 378.8h1.45v1.45h-1.45zM297.4 377.6h1.45v1.45h-1.45zM297.4 370.4h1.45v1.45h-1.45zM297.4 383.6h1.45v1.45h-1.45zM297.4 384.8h1.45v1.45h-1.45zM297.4 384.8h1.45v1.45h-1.45zM297.4 357.2h1.45v1.45h-1.45zM297.4 380.0h1.45v1.45h-1.45zM297.4 369.2h1.45v1.45h-1.45zM297.4 352.4h1.45v1.45h-1.45zM297.4 386.0h1.45v1.45h-1.45zM297.4 369.2h1.45v1.45h-1.45zM297.4 350.0h1.45v1.45h-1.45zM297.4 364.4h1.45v1.45h-1.45zM297.4 377.6h1.45v1.45h-1.45zM297.4 380.0h1.45v1.45h-1.45zM297.4 370.4h1.45v1.45h-1.45zM297.4 380.0h1.45v1.45h-1.45zM297.4 364.4h1.45v1.45h-1.45zM297.4 336.8h1.45v1.45h-1.45zM299.1 384.8h1.45v1.45h-1.45zM299.1 382.4h1.45v1.45h-1.45zM299.1 383.6h1.45v1.45h-1.45zM299.1 357.2h1.45v1.45h-1.45zM299.1 387.2h1.45v1.45h-1.45zM299.1 380.0h1.45v1.45h-1.45zM299.1 366.8h1.45v1.45h-1.45zM299.1 316.4h1.45v1.45h-1.45zM299.1 357.2h1.45v1.45h-1.45zM299.1 323.6h1.45v1.45h-1.45zM299.1 356.0h1.45v1.45h-1.45zM299.1 371.6h1.45v1.45h-1.45zM299.1 377.6h1.45v1.45h-1.45zM299.1 370.4h1.45v1.45h-1.45zM299.1 369.2h1.45v1.45h-1.45zM299.1 336.8h1.45v1.45h-1.45zM299.1 323.6h1.45v1.45h-1.45zM299.1 359.6h1.45v1.45h-1.45zM299.1 335.6h1.45v1.45h-1.45zM299.1 377.6h1.45v1.45h-1.45zM299.1 378.8h1.45v1.45h-1.45zM299.1 386.0h1.45v1.45h-1.45zM299.1 328.4h1.45v1.45h-1.45zM299.1 384.8h1.45v1.45h-1.45zM299.1 371.6h1.45v1.45h-1.45zM299.1 375.2h1.45v1.45h-1.45zM299.1 381.2h1.45v1.45h-1.45zM299.1 383.6h1.45v1.45h-1.45zM299.1 364.4h1.45v1.45h-1.45zM299.1 368.0h1.45v1.45h-1.45zM299.1 387.2h1.45v1.45h-1.45zM299.1 380.0h1.45v1.45h-1.45zM299.1 384.8h1.45v1.45h-1.45zM299.1 352.4h1.45v1.45h-1.45zM299.1 322.4h1.45v1.45h-1.45zM299.1 387.2h1.45v1.45h-1.45zM299.1 381.2h1.45v1.45h-1.45zM299.1 382.4h1.45v1.45h-1.45zM299.1 377.6h1.45v1.45h-1.45zM299.1 366.8h1.45v1.45h-1.45zM299.1 377.6h1.45v1.45h-1.45zM299.1 387.2h1.45v1.45h-1.45zM299.1 374.0h1.45v1.45h-1.45zM299.1 386.0h1.45v1.45h-1.45zM299.1 383.6h1.45v1.45h-1.45zM299.1 330.8h1.45v1.45h-1.45zM299.1 387.2h1.45v1.45h-1.45zM299.1 326.0h1.45v1.45h-1.45zM299.1 365.6h1.45v1.45h-1.45zM299.1 387.2h1.45v1.45h-1.45zM299.1 386.0h1.45v1.45h-1.45zM299.1 372.8h1.45v1.45h-1.45zM299.1 345.2h1.45v1.45h-1.45zM299.1 387.2h1.45v1.45h-1.45zM299.1 358.4h1.45v1.45h-1.45zM299.1 374.0h1.45v1.45h-1.45zM299.1 383.6h1.45v1.45h-1.45zM299.1 374.0h1.45v1.45h-1.45zM299.1 383.6h1.45v1.45h-1.45zM299.1 377.6h1.45v1.45h-1.45zM299.1 381.2h1.45v1.45h-1.45zM299.1 378.8h1.45v1.45h-1.45zM299.1 384.8h1.45v1.45h-1.45zM299.1 382.4h1.45v1.45h-1.45zM299.1 387.2h1.45v1.45h-1.45zM299.1 354.8h1.45v1.45h-1.45zM299.1 366.8h1.45v1.45h-1.45zM299.1 387.2h1.45v1.45h-1.45zM299.1 382.4h1.45v1.45h-1.45zM299.1 375.2h1.45v1.45h-1.45zM299.1 372.8h1.45v1.45h-1.45zM299.1 362.0h1.45v1.45h-1.45zM299.1 381.2h1.45v1.45h-1.45zM299.1 386.0h1.45v1.45h-1.45zM299.1 381.2h1.45v1.45h-1.45zM299.1 384.8h1.45v1.45h-1.45zM299.1 360.8h1.45v1.45h-1.45zM299.1 378.8h1.45v1.45h-1.45zM299.1 382.4h1.45v1.45h-1.45zM299.1 377.6h1.45v1.45h-1.45zM299.1 383.6h1.45v1.45h-1.45zM299.1 365.6h1.45v1.45h-1.45zM299.1 384.8h1.45v1.45h-1.45zM299.1 375.2h1.45v1.45h-1.45zM299.1 378.8h1.45v1.45h-1.45zM299.1 316.4h1.45v1.45h-1.45zM299.1 362.0h1.45v1.45h-1.45zM299.1 353.6h1.45v1.45h-1.45zM299.1 370.4h1.45v1.45h-1.45zM299.1 333.2h1.45v1.45h-1.45zM299.1 371.6h1.45v1.45h-1.45zM299.1 382.4h1.45v1.45h-1.45zM299.1 374.0h1.45v1.45h-1.45zM299.1 382.4h1.45v1.45h-1.45zM299.1 364.4h1.45v1.45h-1.45zM299.1 364.4h1.45v1.45h-1.45zM299.1 364.4h1.45v1.45h-1.45zM299.1 381.2h1.45v1.45h-1.45zM299.1 386.0h1.45v1.45h-1.45zM299.1 341.6h1.45v1.45h-1.45zM299.1 381.2h1.45v1.45h-1.45zM299.1 380.0h1.45v1.45h-1.45zM299.1 377.6h1.45v1.45h-1.45zM299.1 362.0h1.45v1.45h-1.45zM299.1 366.8h1.45v1.45h-1.45zM299.1 362.0h1.45v1.45h-1.45zM300.8 366.8h1.45v1.45h-1.45zM300.8 311.7h1.45v1.45h-1.45zM300.8 374.0h1.45v1.45h-1.45zM300.8 357.2h1.45v1.45h-1.45zM300.8 364.4h1.45v1.45h-1.45zM300.8 336.8h1.45v1.45h-1.45zM300.8 330.8h1.45v1.45h-1.45zM300.8 378.8h1.45v1.45h-1.45zM300.8 377.6h1.45v1.45h-1.45zM300.8 384.8h1.45v1.45h-1.45zM300.8 382.4h1.45v1.45h-1.45zM300.8 377.6h1.45v1.45h-1.45zM300.8 377.6h1.45v1.45h-1.45zM300.8 382.4h1.45v1.45h-1.45zM300.8 369.2h1.45v1.45h-1.45zM300.8 387.2h1.45v1.45h-1.45zM300.8 374.0h1.45v1.45h-1.45zM300.8 308.1h1.45v1.45h-1.45zM300.8 362.0h1.45v1.45h-1.45zM300.8 377.6h1.45v1.45h-1.45zM300.8 378.8h1.45v1.45h-1.45zM300.8 388.4h1.45v1.45h-1.45zM300.8 381.2h1.45v1.45h-1.45zM300.8 356.0h1.45v1.45h-1.45zM300.8 364.4h1.45v1.45h-1.45zM300.8 339.2h1.45v1.45h-1.45zM300.8 377.6h1.45v1.45h-1.45zM300.8 374.0h1.45v1.45h-1.45zM300.8 369.2h1.45v1.45h-1.45zM300.8 383.6h1.45v1.45h-1.45zM300.8 375.2h1.45v1.45h-1.45zM300.8 386.0h1.45v1.45h-1.45zM300.8 383.6h1.45v1.45h-1.45zM300.8 310.5h1.45v1.45h-1.45zM300.8 322.4h1.45v1.45h-1.45zM300.8 353.6h1.45v1.45h-1.45zM300.8 377.6h1.45v1.45h-1.45zM300.8 356.0h1.45v1.45h-1.45zM300.8 359.6h1.45v1.45h-1.45zM300.8 387.2h1.45v1.45h-1.45zM300.8 376.4h1.45v1.45h-1.45zM300.8 351.2h1.45v1.45h-1.45zM300.8 359.6h1.45v1.45h-1.45zM300.8 354.8h1.45v1.45h-1.45zM300.8 334.4h1.45v1.45h-1.45zM300.8 362.0h1.45v1.45h-1.45zM300.8 302.1h1.45v1.45h-1.45zM300.8 357.2h1.45v1.45h-1.45zM300.8 338.0h1.45v1.45h-1.45zM300.8 356.0h1.45v1.45h-1.45zM300.8 384.8h1.45v1.45h-1.45zM300.8 335.6h1.45v1.45h-1.45zM300.8 372.8h1.45v1.45h-1.45zM300.8 388.4h1.45v1.45h-1.45zM300.8 324.8h1.45v1.45h-1.45zM300.8 341.6h1.45v1.45h-1.45zM300.8 370.4h1.45v1.45h-1.45zM300.8 353.6h1.45v1.45h-1.45zM300.8 335.6h1.45v1.45h-1.45zM300.8 365.6h1.45v1.45h-1.45zM300.8 386.0h1.45v1.45h-1.45zM300.8 338.0h1.45v1.45h-1.45zM300.8 370.4h1.45v1.45h-1.45zM300.8 369.2h1.45v1.45h-1.45zM300.8 362.0h1.45v1.45h-1.45zM300.8 360.8h1.45v1.45h-1.45zM300.8 356.0h1.45v1.45h-1.45zM300.8 369.2h1.45v1.45h-1.45zM300.8 378.8h1.45v1.45h-1.45zM300.8 360.8h1.45v1.45h-1.45zM300.8 370.4h1.45v1.45h-1.45zM300.8 374.0h1.45v1.45h-1.45zM300.8 357.2h1.45v1.45h-1.45zM300.8 381.2h1.45v1.45h-1.45zM300.8 342.8h1.45v1.45h-1.45zM300.8 387.2h1.45v1.45h-1.45zM300.8 382.4h1.45v1.45h-1.45zM300.8 358.4h1.45v1.45h-1.45zM300.8 380.0h1.45v1.45h-1.45zM300.8 365.6h1.45v1.45h-1.45zM300.8 376.4h1.45v1.45h-1.45zM300.8 371.6h1.45v1.45h-1.45zM300.8 387.2h1.45v1.45h-1.45zM300.8 381.2h1.45v1.45h-1.45zM302.5 377.6h1.45v1.45h-1.45zM302.5 387.2h1.45v1.45h-1.45zM302.5 329.6h1.45v1.45h-1.45zM302.5 369.2h1.45v1.45h-1.45zM302.5 328.4h1.45v1.45h-1.45zM302.5 378.8h1.45v1.45h-1.45zM302.5 354.8h1.45v1.45h-1.45zM302.5 384.8h1.45v1.45h-1.45zM302.5 374.0h1.45v1.45h-1.45zM302.5 387.2h1.45v1.45h-1.45zM302.5 382.4h1.45v1.45h-1.45zM302.5 375.2h1.45v1.45h-1.45zM302.5 375.2h1.45v1.45h-1.45zM302.5 381.2h1.45v1.45h-1.45zM302.5 297.3h1.45v1.45h-1.45zM302.5 371.6h1.45v1.45h-1.45zM302.5 382.4h1.45v1.45h-1.45zM302.5 375.2h1.45v1.45h-1.45zM302.5 372.8h1.45v1.45h-1.45zM302.5 341.6h1.45v1.45h-1.45zM302.5 383.6h1.45v1.45h-1.45zM302.5 347.6h1.45v1.45h-1.45zM302.5 362.0h1.45v1.45h-1.45zM302.5 382.4h1.45v1.45h-1.45zM302.5 376.4h1.45v1.45h-1.45zM302.5 388.4h1.45v1.45h-1.45zM302.5 384.8h1.45v1.45h-1.45zM302.5 383.6h1.45v1.45h-1.45zM302.5 344.0h1.45v1.45h-1.45zM302.5 374.0h1.45v1.45h-1.45zM302.5 382.4h1.45v1.45h-1.45zM302.5 386.0h1.45v1.45h-1.45zM302.5 327.2h1.45v1.45h-1.45zM302.5 387.2h1.45v1.45h-1.45zM302.5 388.4h1.45v1.45h-1.45zM302.5 371.6h1.45v1.45h-1.45zM302.5 364.4h1.45v1.45h-1.45zM302.5 346.4h1.45v1.45h-1.45zM302.5 384.8h1.45v1.45h-1.45zM302.5 381.2h1.45v1.45h-1.45zM302.5 300.9h1.45v1.45h-1.45zM302.5 354.8h1.45v1.45h-1.45zM302.5 376.4h1.45v1.45h-1.45zM302.5 360.8h1.45v1.45h-1.45zM302.5 345.2h1.45v1.45h-1.45zM302.5 381.2h1.45v1.45h-1.45zM302.5 387.2h1.45v1.45h-1.45zM302.5 368.0h1.45v1.45h-1.45zM302.5 340.4h1.45v1.45h-1.45zM302.5 362.0h1.45v1.45h-1.45zM302.5 388.4h1.45v1.45h-1.45zM302.5 384.8h1.45v1.45h-1.45zM302.5 292.5h1.45v1.45h-1.45zM302.5 372.8h1.45v1.45h-1.45zM302.5 386.0h1.45v1.45h-1.45zM302.5 371.6h1.45v1.45h-1.45zM302.5 372.8h1.45v1.45h-1.45zM302.5 382.4h1.45v1.45h-1.45zM302.5 364.4h1.45v1.45h-1.45zM302.5 336.8h1.45v1.45h-1.45zM302.5 359.6h1.45v1.45h-1.45zM302.5 330.8h1.45v1.45h-1.45zM302.5 384.8h1.45v1.45h-1.45zM302.5 357.2h1.45v1.45h-1.45zM302.5 371.6h1.45v1.45h-1.45zM302.5 377.6h1.45v1.45h-1.45zM302.5 376.4h1.45v1.45h-1.45zM302.5 387.2h1.45v1.45h-1.45zM302.5 368.0h1.45v1.45h-1.45zM302.5 321.2h1.45v1.45h-1.45zM302.5 371.6h1.45v1.45h-1.45zM302.5 374.0h1.45v1.45h-1.45zM302.5 368.0h1.45v1.45h-1.45zM302.5 365.6h1.45v1.45h-1.45zM302.5 381.2h1.45v1.45h-1.45zM302.5 364.4h1.45v1.45h-1.45zM302.5 381.2h1.45v1.45h-1.45zM302.5 388.4h1.45v1.45h-1.45zM302.5 383.6h1.45v1.45h-1.45zM302.5 366.8h1.45v1.45h-1.45zM302.5 387.2h1.45v1.45h-1.45zM302.5 383.6h1.45v1.45h-1.45zM302.5 388.4h1.45v1.45h-1.45zM302.5 375.2h1.45v1.45h-1.45zM302.5 387.2h1.45v1.45h-1.45zM302.5 357.2h1.45v1.45h-1.45zM302.5 372.8h1.45v1.45h-1.45zM302.5 306.9h1.45v1.45h-1.45zM302.5 359.6h1.45v1.45h-1.45zM302.5 374.0h1.45v1.45h-1.45zM302.5 381.2h1.45v1.45h-1.45zM302.5 387.2h1.45v1.45h-1.45zM302.5 369.2h1.45v1.45h-1.45zM302.5 359.6h1.45v1.45h-1.45zM302.5 378.8h1.45v1.45h-1.45zM302.5 381.2h1.45v1.45h-1.45zM302.5 378.8h1.45v1.45h-1.45zM302.5 383.6h1.45v1.45h-1.45zM302.5 376.4h1.45v1.45h-1.45zM302.5 381.2h1.45v1.45h-1.45zM302.5 363.2h1.45v1.45h-1.45zM302.5 383.6h1.45v1.45h-1.45zM302.5 363.2h1.45v1.45h-1.45zM302.5 363.2h1.45v1.45h-1.45zM302.5 363.2h1.45v1.45h-1.45zM302.5 386.0h1.45v1.45h-1.45zM302.5 357.2h1.45v1.45h-1.45zM302.5 380.0h1.45v1.45h-1.45zM302.5 381.2h1.45v1.45h-1.45zM302.5 383.6h1.45v1.45h-1.45zM302.5 387.2h1.45v1.45h-1.45zM302.5 315.3h1.45v1.45h-1.45zM302.5 387.2h1.45v1.45h-1.45zM302.5 346.4h1.45v1.45h-1.45zM302.5 350.0h1.45v1.45h-1.45zM302.5 372.8h1.45v1.45h-1.45zM302.5 351.2h1.45v1.45h-1.45zM302.5 386.0h1.45v1.45h-1.45zM302.5 382.4h1.45v1.45h-1.45zM302.5 369.2h1.45v1.45h-1.45zM302.5 327.2h1.45v1.45h-1.45zM302.5 370.4h1.45v1.45h-1.45zM302.5 365.6h1.45v1.45h-1.45zM302.5 387.2h1.45v1.45h-1.45zM302.5 375.2h1.45v1.45h-1.45zM302.5 311.7h1.45v1.45h-1.45zM302.5 384.8h1.45v1.45h-1.45zM302.5 386.0h1.45v1.45h-1.45zM302.5 369.2h1.45v1.45h-1.45zM302.5 376.4h1.45v1.45h-1.45zM302.5 374.0h1.45v1.45h-1.45zM302.5 370.4h1.45v1.45h-1.45zM302.5 380.0h1.45v1.45h-1.45zM302.5 381.2h1.45v1.45h-1.45zM302.5 344.0h1.45v1.45h-1.45zM304.2 372.8h1.45v1.45h-1.45zM304.2 386.0h1.45v1.45h-1.45zM304.2 346.4h1.45v1.45h-1.45zM304.2 338.0h1.45v1.45h-1.45zM304.2 381.2h1.45v1.45h-1.45zM304.2 372.8h1.45v1.45h-1.45zM304.2 377.6h1.45v1.45h-1.45zM304.2 368.0h1.45v1.45h-1.45zM304.2 363.2h1.45v1.45h-1.45zM304.2 330.8h1.45v1.45h-1.45zM304.2 358.4h1.45v1.45h-1.45zM304.2 380.0h1.45v1.45h-1.45zM304.2 374.0h1.45v1.45h-1.45zM304.2 378.8h1.45v1.45h-1.45zM304.2 351.2h1.45v1.45h-1.45zM304.2 382.4h1.45v1.45h-1.45zM304.2 386.0h1.45v1.45h-1.45zM304.2 372.8h1.45v1.45h-1.45zM304.2 365.6h1.45v1.45h-1.45zM304.2 378.8h1.45v1.45h-1.45zM304.2 360.8h1.45v1.45h-1.45zM304.2 383.6h1.45v1.45h-1.45zM304.2 312.9h1.45v1.45h-1.45zM304.2 371.6h1.45v1.45h-1.45zM304.2 388.4h1.45v1.45h-1.45zM304.2 369.2h1.45v1.45h-1.45zM304.2 384.8h1.45v1.45h-1.45zM304.2 352.4h1.45v1.45h-1.45zM304.2 344.0h1.45v1.45h-1.45zM304.2 386.0h1.45v1.45h-1.45zM304.2 354.8h1.45v1.45h-1.45zM304.2 376.4h1.45v1.45h-1.45zM304.2 336.8h1.45v1.45h-1.45zM304.2 386.0h1.45v1.45h-1.45zM304.2 347.6h1.45v1.45h-1.45zM304.2 369.2h1.45v1.45h-1.45zM304.2 357.2h1.45v1.45h-1.45zM304.2 371.6h1.45v1.45h-1.45zM304.2 358.4h1.45v1.45h-1.45zM304.2 329.6h1.45v1.45h-1.45zM304.2 353.6h1.45v1.45h-1.45zM305.9 376.4h1.45v1.45h-1.45zM305.9 370.4h1.45v1.45h-1.45zM305.9 365.6h1.45v1.45h-1.45zM305.9 388.4h1.45v1.45h-1.45zM305.9 376.4h1.45v1.45h-1.45zM305.9 372.8h1.45v1.45h-1.45zM305.9 383.6h1.45v1.45h-1.45zM305.9 386.0h1.45v1.45h-1.45zM305.9 375.2h1.45v1.45h-1.45zM305.9 381.2h1.45v1.45h-1.45zM305.9 368.0h1.45v1.45h-1.45zM305.9 371.6h1.45v1.45h-1.45zM305.9 386.0h1.45v1.45h-1.45zM305.9 372.8h1.45v1.45h-1.45zM305.9 384.8h1.45v1.45h-1.45zM305.9 378.8h1.45v1.45h-1.45zM305.9 387.2h1.45v1.45h-1.45zM305.9 356.0h1.45v1.45h-1.45zM305.9 315.3h1.45v1.45h-1.45zM305.9 383.6h1.45v1.45h-1.45zM305.9 372.8h1.45v1.45h-1.45zM305.9 360.8h1.45v1.45h-1.45zM305.9 352.4h1.45v1.45h-1.45zM305.9 366.8h1.45v1.45h-1.45zM305.9 386.0h1.45v1.45h-1.45zM305.9 363.2h1.45v1.45h-1.45zM305.9 358.4h1.45v1.45h-1.45zM305.9 368.0h1.45v1.45h-1.45zM305.9 356.0h1.45v1.45h-1.45zM305.9 357.2h1.45v1.45h-1.45zM305.9 339.2h1.45v1.45h-1.45zM305.9 340.4h1.45v1.45h-1.45zM305.9 370.4h1.45v1.45h-1.45zM305.9 360.8h1.45v1.45h-1.45zM307.6 388.4h1.45v1.45h-1.45zM307.6 345.2h1.45v1.45h-1.45zM307.6 383.6h1.45v1.45h-1.45zM307.6 376.4h1.45v1.45h-1.45zM307.6 294.9h1.45v1.45h-1.45zM307.6 377.6h1.45v1.45h-1.45zM307.6 369.2h1.45v1.45h-1.45zM307.6 384.8h1.45v1.45h-1.45zM307.6 376.4h1.45v1.45h-1.45zM307.6 336.8h1.45v1.45h-1.45zM307.6 359.6h1.45v1.45h-1.45zM307.6 380.0h1.45v1.45h-1.45zM307.6 364.4h1.45v1.45h-1.45zM307.6 386.0h1.45v1.45h-1.45zM307.6 350.0h1.45v1.45h-1.45zM307.6 386.0h1.45v1.45h-1.45zM307.6 359.6h1.45v1.45h-1.45zM307.6 362.0h1.45v1.45h-1.45zM307.6 386.0h1.45v1.45h-1.45zM307.6 363.2h1.45v1.45h-1.45zM307.6 377.6h1.45v1.45h-1.45zM307.6 324.8h1.45v1.45h-1.45zM307.6 378.8h1.45v1.45h-1.45zM307.6 363.2h1.45v1.45h-1.45zM309.3 345.2h1.45v1.45h-1.45zM309.3 383.6h1.45v1.45h-1.45zM309.3 383.6h1.45v1.45h-1.45zM309.3 369.2h1.45v1.45h-1.45zM309.3 384.8h1.45v1.45h-1.45zM309.3 382.4h1.45v1.45h-1.45zM309.3 388.4h1.45v1.45h-1.45zM309.3 387.2h1.45v1.45h-1.45zM309.3 386.0h1.45v1.45h-1.45zM309.3 372.8h1.45v1.45h-1.45zM309.3 302.1h1.45v1.45h-1.45zM309.3 381.2h1.45v1.45h-1.45zM309.3 372.8h1.45v1.45h-1.45zM309.3 371.6h1.45v1.45h-1.45zM311.0 382.4h1.45v1.45h-1.45zM311.0 353.6h1.45v1.45h-1.45zM311.0 346.4h1.45v1.45h-1.45zM311.0 333.2h1.45v1.45h-1.45zM311.0 375.2h1.45v1.45h-1.45zM311.0 347.6h1.45v1.45h-1.45zM311.0 326.0h1.45v1.45h-1.45zM311.0 383.6h1.45v1.45h-1.45zM311.0 375.2h1.45v1.45h-1.45zM311.0 386.0h1.45v1.45h-1.45zM311.0 365.6h1.45v1.45h-1.45zM311.0 377.6h1.45v1.45h-1.45zM311.0 376.4h1.45v1.45h-1.45zM311.0 380.0h1.45v1.45h-1.45zM311.0 378.8h1.45v1.45h-1.45zM311.0 382.4h1.45v1.45h-1.45zM311.0 384.8h1.45v1.45h-1.45zM311.0 322.4h1.45v1.45h-1.45zM311.0 381.2h1.45v1.45h-1.45zM311.0 381.2h1.45v1.45h-1.45zM311.0 383.6h1.45v1.45h-1.45zM311.0 388.4h1.45v1.45h-1.45zM311.0 323.6h1.45v1.45h-1.45zM311.0 384.8h1.45v1.45h-1.45zM311.0 353.6h1.45v1.45h-1.45zM311.0 376.4h1.45v1.45h-1.45zM311.0 362.0h1.45v1.45h-1.45zM311.0 377.6h1.45v1.45h-1.45zM311.0 386.0h1.45v1.45h-1.45zM311.0 375.2h1.45v1.45h-1.45zM311.0 377.6h1.45v1.45h-1.45zM311.0 370.4h1.45v1.45h-1.45zM311.0 362.0h1.45v1.45h-1.45zM311.0 370.4h1.45v1.45h-1.45zM311.0 369.2h1.45v1.45h-1.45zM311.0 366.8h1.45v1.45h-1.45zM311.0 344.0h1.45v1.45h-1.45zM311.0 363.2h1.45v1.45h-1.45zM311.0 346.4h1.45v1.45h-1.45zM311.0 383.6h1.45v1.45h-1.45zM311.0 381.2h1.45v1.45h-1.45zM311.0 378.8h1.45v1.45h-1.45zM311.0 383.6h1.45v1.45h-1.45zM311.0 377.6h1.45v1.45h-1.45zM311.0 376.4h1.45v1.45h-1.45zM311.0 354.8h1.45v1.45h-1.45zM311.0 368.0h1.45v1.45h-1.45zM311.0 358.4h1.45v1.45h-1.45zM311.0 382.4h1.45v1.45h-1.45zM311.0 365.6h1.45v1.45h-1.45zM311.0 380.0h1.45v1.45h-1.45zM311.0 364.4h1.45v1.45h-1.45zM311.0 384.8h1.45v1.45h-1.45zM312.7 384.8h1.45v1.45h-1.45zM312.7 386.0h1.45v1.45h-1.45zM312.7 321.2h1.45v1.45h-1.45zM312.7 358.4h1.45v1.45h-1.45zM312.7 384.8h1.45v1.45h-1.45zM312.7 376.4h1.45v1.45h-1.45zM312.7 370.4h1.45v1.45h-1.45zM312.7 377.6h1.45v1.45h-1.45zM312.7 359.6h1.45v1.45h-1.45zM312.7 374.0h1.45v1.45h-1.45zM312.7 351.2h1.45v1.45h-1.45zM312.7 364.4h1.45v1.45h-1.45zM312.7 380.0h1.45v1.45h-1.45zM312.7 387.2h1.45v1.45h-1.45zM312.7 354.8h1.45v1.45h-1.45zM312.7 380.0h1.45v1.45h-1.45zM312.7 366.8h1.45v1.45h-1.45zM312.7 380.0h1.45v1.45h-1.45zM312.7 386.0h1.45v1.45h-1.45zM312.7 317.6h1.45v1.45h-1.45zM312.7 383.6h1.45v1.45h-1.45zM312.7 375.2h1.45v1.45h-1.45zM312.7 380.0h1.45v1.45h-1.45zM312.7 383.6h1.45v1.45h-1.45zM312.7 376.4h1.45v1.45h-1.45zM312.7 381.2h1.45v1.45h-1.45zM312.7 351.2h1.45v1.45h-1.45zM312.7 304.5h1.45v1.45h-1.45zM312.7 376.4h1.45v1.45h-1.45zM312.7 382.4h1.45v1.45h-1.45zM312.7 371.6h1.45v1.45h-1.45zM312.7 358.4h1.45v1.45h-1.45zM312.7 369.2h1.45v1.45h-1.45zM312.7 376.4h1.45v1.45h-1.45zM312.7 362.0h1.45v1.45h-1.45zM312.7 387.2h1.45v1.45h-1.45zM312.7 378.8h1.45v1.45h-1.45zM312.7 387.2h1.45v1.45h-1.45zM312.7 346.4h1.45v1.45h-1.45zM312.7 338.0h1.45v1.45h-1.45zM312.7 372.8h1.45v1.45h-1.45zM312.7 381.2h1.45v1.45h-1.45zM312.7 383.6h1.45v1.45h-1.45zM312.7 382.4h1.45v1.45h-1.45zM314.4 383.6h1.45v1.45h-1.45zM316.1 387.2h1.45v1.45h-1.45zM316.1 312.9h1.45v1.45h-1.45zM316.1 384.8h1.45v1.45h-1.45zM316.1 387.2h1.45v1.45h-1.45zM316.1 375.2h1.45v1.45h-1.45zM316.1 387.2h1.45v1.45h-1.45zM316.1 350.0h1.45v1.45h-1.45zM316.1 312.9h1.45v1.45h-1.45zM316.1 308.1h1.45v1.45h-1.45zM316.1 387.2h1.45v1.45h-1.45zM316.1 378.8h1.45v1.45h-1.45zM316.1 377.6h1.45v1.45h-1.45zM316.1 366.8h1.45v1.45h-1.45zM316.1 378.8h1.45v1.45h-1.45zM316.1 322.4h1.45v1.45h-1.45zM316.1 378.8h1.45v1.45h-1.45zM316.1 309.3h1.45v1.45h-1.45zM316.1 377.6h1.45v1.45h-1.45zM316.1 382.4h1.45v1.45h-1.45zM316.1 381.2h1.45v1.45h-1.45zM316.1 386.0h1.45v1.45h-1.45zM316.1 362.0h1.45v1.45h-1.45zM316.1 359.6h1.45v1.45h-1.45zM316.1 387.2h1.45v1.45h-1.45zM316.1 368.0h1.45v1.45h-1.45zM316.1 380.0h1.45v1.45h-1.45zM316.1 341.6h1.45v1.45h-1.45zM316.1 382.4h1.45v1.45h-1.45zM316.1 380.0h1.45v1.45h-1.45zM316.1 388.4h1.45v1.45h-1.45zM316.1 387.2h1.45v1.45h-1.45zM316.1 382.4h1.45v1.45h-1.45zM316.1 336.8h1.45v1.45h-1.45zM316.1 387.2h1.45v1.45h-1.45zM316.1 376.4h1.45v1.45h-1.45zM316.1 364.4h1.45v1.45h-1.45zM316.1 383.6h1.45v1.45h-1.45zM316.1 347.6h1.45v1.45h-1.45zM316.1 383.6h1.45v1.45h-1.45zM316.1 382.4h1.45v1.45h-1.45zM316.1 382.4h1.45v1.45h-1.45zM316.1 383.6h1.45v1.45h-1.45zM316.1 370.4h1.45v1.45h-1.45zM316.1 381.2h1.45v1.45h-1.45zM316.1 369.2h1.45v1.45h-1.45zM316.1 370.4h1.45v1.45h-1.45zM316.1 384.8h1.45v1.45h-1.45zM316.1 348.8h1.45v1.45h-1.45zM316.1 362.0h1.45v1.45h-1.45zM316.1 359.6h1.45v1.45h-1.45zM316.1 359.6h1.45v1.45h-1.45zM316.1 366.8h1.45v1.45h-1.45zM316.1 387.2h1.45v1.45h-1.45zM316.1 384.8h1.45v1.45h-1.45zM316.1 360.8h1.45v1.45h-1.45zM316.1 369.2h1.45v1.45h-1.45zM316.1 381.2h1.45v1.45h-1.45zM317.8 368.0h1.45v1.45h-1.45zM317.8 382.4h1.45v1.45h-1.45zM319.5 356.0h1.45v1.45h-1.45zM319.5 370.4h1.45v1.45h-1.45zM319.5 386.0h1.45v1.45h-1.45zM319.5 381.2h1.45v1.45h-1.45zM319.5 347.6h1.45v1.45h-1.45zM319.5 340.4h1.45v1.45h-1.45zM319.5 382.4h1.45v1.45h-1.45zM319.5 371.6h1.45v1.45h-1.45zM319.5 360.8h1.45v1.45h-1.45zM319.5 372.8h1.45v1.45h-1.45zM319.5 354.8h1.45v1.45h-1.45zM319.5 320.0h1.45v1.45h-1.45zM319.5 381.2h1.45v1.45h-1.45zM319.5 363.2h1.45v1.45h-1.45zM319.5 332.0h1.45v1.45h-1.45zM319.5 378.8h1.45v1.45h-1.45zM319.5 364.4h1.45v1.45h-1.45zM319.5 380.0h1.45v1.45h-1.45zM321.2 372.8h1.45v1.45h-1.45zM321.2 374.0h1.45v1.45h-1.45zM321.2 357.2h1.45v1.45h-1.45zM321.2 374.0h1.45v1.45h-1.45zM321.2 384.8h1.45v1.45h-1.45zM321.2 327.2h1.45v1.45h-1.45zM321.2 372.8h1.45v1.45h-1.45zM321.2 366.8h1.45v1.45h-1.45zM321.2 383.6h1.45v1.45h-1.45zM321.2 383.6h1.45v1.45h-1.45zM321.2 357.2h1.45v1.45h-1.45zM321.2 342.8h1.45v1.45h-1.45zM321.2 386.0h1.45v1.45h-1.45zM321.2 344.0h1.45v1.45h-1.45zM321.2 351.2h1.45v1.45h-1.45zM321.2 341.6h1.45v1.45h-1.45zM321.2 370.4h1.45v1.45h-1.45zM321.2 377.6h1.45v1.45h-1.45zM321.2 358.4h1.45v1.45h-1.45zM321.2 386.0h1.45v1.45h-1.45zM321.2 375.2h1.45v1.45h-1.45zM321.2 356.0h1.45v1.45h-1.45zM321.2 383.6h1.45v1.45h-1.45zM321.2 363.2h1.45v1.45h-1.45zM321.2 356.0h1.45v1.45h-1.45zM321.2 377.6h1.45v1.45h-1.45zM321.2 388.4h1.45v1.45h-1.45zM321.2 388.4h1.45v1.45h-1.45zM321.2 377.6h1.45v1.45h-1.45zM321.2 354.8h1.45v1.45h-1.45zM321.2 364.4h1.45v1.45h-1.45zM321.2 376.4h1.45v1.45h-1.45zM321.2 375.2h1.45v1.45h-1.45zM321.2 386.0h1.45v1.45h-1.45zM321.2 368.0h1.45v1.45h-1.45zM321.2 364.4h1.45v1.45h-1.45zM321.2 365.6h1.45v1.45h-1.45zM321.2 352.4h1.45v1.45h-1.45zM321.2 354.8h1.45v1.45h-1.45zM321.2 386.0h1.45v1.45h-1.45zM321.2 388.4h1.45v1.45h-1.45zM321.2 334.4h1.45v1.45h-1.45zM321.2 382.4h1.45v1.45h-1.45zM321.2 351.2h1.45v1.45h-1.45zM321.2 326.0h1.45v1.45h-1.45zM321.2 382.4h1.45v1.45h-1.45zM321.2 371.6h1.45v1.45h-1.45zM321.2 386.0h1.45v1.45h-1.45zM321.2 342.8h1.45v1.45h-1.45zM321.2 386.0h1.45v1.45h-1.45zM321.2 377.6h1.45v1.45h-1.45zM321.2 384.8h1.45v1.45h-1.45zM321.2 342.8h1.45v1.45h-1.45zM321.2 354.8h1.45v1.45h-1.45zM321.2 386.0h1.45v1.45h-1.45zM321.2 377.6h1.45v1.45h-1.45zM321.2 377.6h1.45v1.45h-1.45zM321.2 375.2h1.45v1.45h-1.45zM321.2 378.8h1.45v1.45h-1.45zM321.2 381.2h1.45v1.45h-1.45zM321.2 359.6h1.45v1.45h-1.45zM321.2 360.8h1.45v1.45h-1.45zM321.2 350.0h1.45v1.45h-1.45zM321.2 387.2h1.45v1.45h-1.45zM321.2 377.6h1.45v1.45h-1.45zM321.2 324.8h1.45v1.45h-1.45zM321.2 362.0h1.45v1.45h-1.45zM321.2 357.2h1.45v1.45h-1.45zM321.2 388.4h1.45v1.45h-1.45zM321.2 375.2h1.45v1.45h-1.45zM321.2 357.2h1.45v1.45h-1.45zM321.2 363.2h1.45v1.45h-1.45zM321.2 387.2h1.45v1.45h-1.45zM321.2 328.4h1.45v1.45h-1.45zM321.2 380.0h1.45v1.45h-1.45zM321.2 357.2h1.45v1.45h-1.45zM321.2 308.1h1.45v1.45h-1.45zM321.2 362.0h1.45v1.45h-1.45zM321.2 375.2h1.45v1.45h-1.45zM321.2 383.6h1.45v1.45h-1.45zM321.2 384.8h1.45v1.45h-1.45zM321.2 383.6h1.45v1.45h-1.45zM321.2 365.6h1.45v1.45h-1.45zM321.2 387.2h1.45v1.45h-1.45zM321.2 330.8h1.45v1.45h-1.45zM321.2 351.2h1.45v1.45h-1.45zM321.2 386.0h1.45v1.45h-1.45zM321.2 369.2h1.45v1.45h-1.45zM321.2 375.2h1.45v1.45h-1.45zM321.2 357.2h1.45v1.45h-1.45zM321.2 360.8h1.45v1.45h-1.45zM321.2 384.8h1.45v1.45h-1.45zM321.2 378.8h1.45v1.45h-1.45zM321.2 352.4h1.45v1.45h-1.45zM321.2 377.6h1.45v1.45h-1.45zM321.2 383.6h1.45v1.45h-1.45zM321.2 362.0h1.45v1.45h-1.45zM321.2 362.0h1.45v1.45h-1.45zM321.2 364.4h1.45v1.45h-1.45zM321.2 384.8h1.45v1.45h-1.45zM321.2 366.8h1.45v1.45h-1.45zM321.2 381.2h1.45v1.45h-1.45zM321.2 341.6h1.45v1.45h-1.45zM321.2 381.2h1.45v1.45h-1.45zM321.2 346.4h1.45v1.45h-1.45zM321.2 351.2h1.45v1.45h-1.45zM321.2 328.4h1.45v1.45h-1.45zM321.2 374.0h1.45v1.45h-1.45zM321.2 364.4h1.45v1.45h-1.45zM321.2 387.2h1.45v1.45h-1.45zM321.2 382.4h1.45v1.45h-1.45zM321.2 388.4h1.45v1.45h-1.45zM321.2 384.8h1.45v1.45h-1.45zM321.2 364.4h1.45v1.45h-1.45zM321.2 358.4h1.45v1.45h-1.45zM321.2 381.2h1.45v1.45h-1.45zM321.2 370.4h1.45v1.45h-1.45zM321.2 364.4h1.45v1.45h-1.45zM321.2 370.4h1.45v1.45h-1.45zM321.2 378.8h1.45v1.45h-1.45zM321.2 376.4h1.45v1.45h-1.45zM321.2 340.4h1.45v1.45h-1.45zM321.2 387.2h1.45v1.45h-1.45zM321.2 324.8h1.45v1.45h-1.45zM321.2 375.2h1.45v1.45h-1.45zM321.2 372.8h1.45v1.45h-1.45zM321.2 378.8h1.45v1.45h-1.45zM321.2 370.4h1.45v1.45h-1.45zM321.2 328.4h1.45v1.45h-1.45zM321.2 364.4h1.45v1.45h-1.45zM321.2 340.4h1.45v1.45h-1.45zM321.2 374.0h1.45v1.45h-1.45zM321.2 382.4h1.45v1.45h-1.45zM321.2 323.6h1.45v1.45h-1.45zM321.2 326.0h1.45v1.45h-1.45zM321.2 342.8h1.45v1.45h-1.45zM321.2 374.0h1.45v1.45h-1.45zM321.2 371.6h1.45v1.45h-1.45zM321.2 370.4h1.45v1.45h-1.45zM321.2 378.8h1.45v1.45h-1.45zM321.2 333.2h1.45v1.45h-1.45zM321.2 370.4h1.45v1.45h-1.45zM321.2 369.2h1.45v1.45h-1.45zM321.2 378.8h1.45v1.45h-1.45zM322.9 376.4h1.45v1.45h-1.45zM322.9 376.4h1.45v1.45h-1.45zM322.9 366.8h1.45v1.45h-1.45zM322.9 341.6h1.45v1.45h-1.45zM322.9 376.4h1.45v1.45h-1.45zM322.9 382.4h1.45v1.45h-1.45zM322.9 327.2h1.45v1.45h-1.45zM322.9 339.2h1.45v1.45h-1.45zM322.9 376.4h1.45v1.45h-1.45zM322.9 370.4h1.45v1.45h-1.45zM322.9 382.4h1.45v1.45h-1.45zM322.9 374.0h1.45v1.45h-1.45zM322.9 374.0h1.45v1.45h-1.45zM322.9 346.4h1.45v1.45h-1.45zM322.9 382.4h1.45v1.45h-1.45zM322.9 376.4h1.45v1.45h-1.45zM322.9 371.6h1.45v1.45h-1.45zM322.9 353.6h1.45v1.45h-1.45zM322.9 358.4h1.45v1.45h-1.45zM322.9 372.8h1.45v1.45h-1.45zM322.9 381.2h1.45v1.45h-1.45zM322.9 357.2h1.45v1.45h-1.45zM322.9 346.4h1.45v1.45h-1.45zM322.9 356.0h1.45v1.45h-1.45zM322.9 387.2h1.45v1.45h-1.45zM322.9 386.0h1.45v1.45h-1.45zM322.9 376.4h1.45v1.45h-1.45zM322.9 375.2h1.45v1.45h-1.45zM322.9 353.6h1.45v1.45h-1.45zM322.9 372.8h1.45v1.45h-1.45zM322.9 378.8h1.45v1.45h-1.45zM322.9 370.4h1.45v1.45h-1.45zM322.9 347.6h1.45v1.45h-1.45zM322.9 372.8h1.45v1.45h-1.45zM322.9 348.8h1.45v1.45h-1.45zM322.9 376.4h1.45v1.45h-1.45zM322.9 341.6h1.45v1.45h-1.45zM322.9 382.4h1.45v1.45h-1.45zM322.9 384.8h1.45v1.45h-1.45zM322.9 384.8h1.45v1.45h-1.45zM322.9 387.2h1.45v1.45h-1.45zM322.9 370.4h1.45v1.45h-1.45zM322.9 374.0h1.45v1.45h-1.45zM322.9 360.8h1.45v1.45h-1.45zM322.9 376.4h1.45v1.45h-1.45zM322.9 342.8h1.45v1.45h-1.45zM322.9 381.2h1.45v1.45h-1.45zM322.9 382.4h1.45v1.45h-1.45zM322.9 386.0h1.45v1.45h-1.45zM322.9 384.8h1.45v1.45h-1.45zM322.9 353.6h1.45v1.45h-1.45zM322.9 369.2h1.45v1.45h-1.45zM322.9 386.0h1.45v1.45h-1.45zM322.9 364.4h1.45v1.45h-1.45zM322.9 364.4h1.45v1.45h-1.45zM322.9 360.8h1.45v1.45h-1.45zM322.9 346.4h1.45v1.45h-1.45zM322.9 384.8h1.45v1.45h-1.45zM322.9 386.0h1.45v1.45h-1.45zM322.9 372.8h1.45v1.45h-1.45zM322.9 381.2h1.45v1.45h-1.45zM322.9 368.0h1.45v1.45h-1.45zM322.9 372.8h1.45v1.45h-1.45zM322.9 377.6h1.45v1.45h-1.45zM322.9 377.6h1.45v1.45h-1.45zM322.9 382.4h1.45v1.45h-1.45zM322.9 370.4h1.45v1.45h-1.45zM322.9 348.8h1.45v1.45h-1.45zM322.9 333.2h1.45v1.45h-1.45zM322.9 384.8h1.45v1.45h-1.45zM322.9 382.4h1.45v1.45h-1.45zM322.9 378.8h1.45v1.45h-1.45zM322.9 380.0h1.45v1.45h-1.45zM322.9 371.6h1.45v1.45h-1.45zM322.9 383.6h1.45v1.45h-1.45zM322.9 382.4h1.45v1.45h-1.45zM322.9 376.4h1.45v1.45h-1.45zM322.9 384.8h1.45v1.45h-1.45zM322.9 365.6h1.45v1.45h-1.45zM322.9 366.8h1.45v1.45h-1.45zM322.9 342.8h1.45v1.45h-1.45zM322.9 352.4h1.45v1.45h-1.45zM322.9 387.2h1.45v1.45h-1.45zM322.9 353.6h1.45v1.45h-1.45zM322.9 380.0h1.45v1.45h-1.45zM322.9 387.2h1.45v1.45h-1.45zM322.9 374.0h1.45v1.45h-1.45zM322.9 374.0h1.45v1.45h-1.45zM322.9 358.4h1.45v1.45h-1.45zM322.9 333.2h1.45v1.45h-1.45zM322.9 357.2h1.45v1.45h-1.45zM322.9 353.6h1.45v1.45h-1.45zM322.9 335.6h1.45v1.45h-1.45zM322.9 369.2h1.45v1.45h-1.45zM322.9 366.8h1.45v1.45h-1.45zM322.9 292.5h1.45v1.45h-1.45zM322.9 384.8h1.45v1.45h-1.45zM322.9 372.8h1.45v1.45h-1.45zM322.9 330.8h1.45v1.45h-1.45zM322.9 378.8h1.45v1.45h-1.45zM322.9 381.2h1.45v1.45h-1.45zM322.9 388.4h1.45v1.45h-1.45zM322.9 378.8h1.45v1.45h-1.45zM322.9 341.6h1.45v1.45h-1.45zM322.9 338.0h1.45v1.45h-1.45zM322.9 380.0h1.45v1.45h-1.45zM322.9 364.4h1.45v1.45h-1.45zM322.9 377.6h1.45v1.45h-1.45zM322.9 363.2h1.45v1.45h-1.45zM322.9 382.4h1.45v1.45h-1.45zM322.9 368.0h1.45v1.45h-1.45zM322.9 364.4h1.45v1.45h-1.45zM322.9 375.2h1.45v1.45h-1.45zM322.9 376.4h1.45v1.45h-1.45zM322.9 376.4h1.45v1.45h-1.45zM322.9 329.6h1.45v1.45h-1.45zM322.9 378.8h1.45v1.45h-1.45zM322.9 372.8h1.45v1.45h-1.45zM322.9 368.0h1.45v1.45h-1.45zM322.9 368.0h1.45v1.45h-1.45zM322.9 359.6h1.45v1.45h-1.45zM322.9 368.0h1.45v1.45h-1.45zM322.9 368.0h1.45v1.45h-1.45zM322.9 371.6h1.45v1.45h-1.45zM322.9 360.8h1.45v1.45h-1.45zM322.9 364.4h1.45v1.45h-1.45zM322.9 387.2h1.45v1.45h-1.45zM322.9 338.0h1.45v1.45h-1.45zM322.9 372.8h1.45v1.45h-1.45zM322.9 381.2h1.45v1.45h-1.45zM322.9 357.2h1.45v1.45h-1.45zM322.9 356.0h1.45v1.45h-1.45zM322.9 387.2h1.45v1.45h-1.45zM322.9 374.0h1.45v1.45h-1.45zM322.9 360.8h1.45v1.45h-1.45zM322.9 371.6h1.45v1.45h-1.45zM322.9 387.2h1.45v1.45h-1.45zM322.9 384.8h1.45v1.45h-1.45zM322.9 387.2h1.45v1.45h-1.45zM322.9 371.6h1.45v1.45h-1.45zM322.9 371.6h1.45v1.45h-1.45zM322.9 368.0h1.45v1.45h-1.45zM322.9 328.4h1.45v1.45h-1.45zM322.9 358.4h1.45v1.45h-1.45zM322.9 380.0h1.45v1.45h-1.45zM322.9 383.6h1.45v1.45h-1.45zM322.9 375.2h1.45v1.45h-1.45zM322.9 358.4h1.45v1.45h-1.45zM322.9 350.0h1.45v1.45h-1.45zM322.9 380.0h1.45v1.45h-1.45zM322.9 365.6h1.45v1.45h-1.45zM322.9 374.0h1.45v1.45h-1.45zM322.9 381.2h1.45v1.45h-1.45zM322.9 352.4h1.45v1.45h-1.45zM322.9 381.2h1.45v1.45h-1.45zM322.9 377.6h1.45v1.45h-1.45zM322.9 364.4h1.45v1.45h-1.45zM322.9 375.2h1.45v1.45h-1.45zM322.9 377.6h1.45v1.45h-1.45zM322.9 362.0h1.45v1.45h-1.45zM322.9 382.4h1.45v1.45h-1.45zM322.9 374.0h1.45v1.45h-1.45zM322.9 358.4h1.45v1.45h-1.45zM322.9 381.2h1.45v1.45h-1.45zM322.9 358.4h1.45v1.45h-1.45zM322.9 360.8h1.45v1.45h-1.45zM322.9 336.8h1.45v1.45h-1.45zM322.9 364.4h1.45v1.45h-1.45zM322.9 370.4h1.45v1.45h-1.45zM322.9 374.0h1.45v1.45h-1.45zM322.9 376.4h1.45v1.45h-1.45zM322.9 356.0h1.45v1.45h-1.45zM322.9 356.0h1.45v1.45h-1.45zM322.9 386.0h1.45v1.45h-1.45zM322.9 378.8h1.45v1.45h-1.45zM322.9 321.2h1.45v1.45h-1.45zM322.9 370.4h1.45v1.45h-1.45zM322.9 362.0h1.45v1.45h-1.45zM322.9 365.6h1.45v1.45h-1.45zM322.9 386.0h1.45v1.45h-1.45zM322.9 353.6h1.45v1.45h-1.45zM322.9 382.4h1.45v1.45h-1.45zM322.9 376.4h1.45v1.45h-1.45zM322.9 351.2h1.45v1.45h-1.45zM322.9 388.4h1.45v1.45h-1.45zM322.9 372.8h1.45v1.45h-1.45zM322.9 378.8h1.45v1.45h-1.45zM322.9 381.2h1.45v1.45h-1.45zM322.9 380.0h1.45v1.45h-1.45zM322.9 375.2h1.45v1.45h-1.45zM322.9 371.6h1.45v1.45h-1.45zM322.9 336.8h1.45v1.45h-1.45zM322.9 382.4h1.45v1.45h-1.45zM322.9 350.0h1.45v1.45h-1.45zM322.9 362.0h1.45v1.45h-1.45zM322.9 388.4h1.45v1.45h-1.45zM322.9 332.0h1.45v1.45h-1.45zM322.9 380.0h1.45v1.45h-1.45zM322.9 384.8h1.45v1.45h-1.45zM322.9 376.4h1.45v1.45h-1.45zM324.7 359.6h1.45v1.45h-1.45zM324.7 377.6h1.45v1.45h-1.45zM324.7 374.0h1.45v1.45h-1.45zM324.7 384.8h1.45v1.45h-1.45zM324.7 377.6h1.45v1.45h-1.45zM324.7 374.0h1.45v1.45h-1.45zM324.7 351.2h1.45v1.45h-1.45zM324.7 365.6h1.45v1.45h-1.45zM324.7 380.0h1.45v1.45h-1.45zM328.1 328.4h1.45v1.45h-1.45zM328.1 388.4h1.45v1.45h-1.45zM328.1 368.0h1.45v1.45h-1.45zM328.1 371.6h1.45v1.45h-1.45zM328.1 342.8h1.45v1.45h-1.45zM328.1 369.2h1.45v1.45h-1.45zM328.1 371.6h1.45v1.45h-1.45zM328.1 380.0h1.45v1.45h-1.45zM328.1 303.3h1.45v1.45h-1.45zM328.1 364.4h1.45v1.45h-1.45zM328.1 388.4h1.45v1.45h-1.45zM328.1 371.6h1.45v1.45h-1.45zM328.1 316.4h1.45v1.45h-1.45zM328.1 346.4h1.45v1.45h-1.45zM328.1 376.4h1.45v1.45h-1.45zM328.1 387.2h1.45v1.45h-1.45zM328.1 335.6h1.45v1.45h-1.45zM328.1 314.1h1.45v1.45h-1.45zM328.1 354.8h1.45v1.45h-1.45zM328.1 363.2h1.45v1.45h-1.45zM328.1 386.0h1.45v1.45h-1.45zM328.1 338.0h1.45v1.45h-1.45zM328.1 357.2h1.45v1.45h-1.45zM328.1 299.7h1.45v1.45h-1.45zM329.8 368.0h1.45v1.45h-1.45zM329.8 374.0h1.45v1.45h-1.45zM331.5 362.0h1.45v1.45h-1.45zM331.5 345.2h1.45v1.45h-1.45zM331.5 383.6h1.45v1.45h-1.45zM331.5 378.8h1.45v1.45h-1.45zM331.5 377.6h1.45v1.45h-1.45zM331.5 352.4h1.45v1.45h-1.45zM331.5 370.4h1.45v1.45h-1.45zM331.5 375.2h1.45v1.45h-1.45zM331.5 374.0h1.45v1.45h-1.45zM331.5 369.2h1.45v1.45h-1.45zM331.5 360.8h1.45v1.45h-1.45zM333.2 342.8h1.45v1.45h-1.45zM333.2 345.2h1.45v1.45h-1.45zM338.3 381.2h1.45v1.45h-1.45zM338.3 383.6h1.45v1.45h-1.45zM338.3 384.8h1.45v1.45h-1.45zM338.3 324.8h1.45v1.45h-1.45zM338.3 362.0h1.45v1.45h-1.45zM338.3 321.2h1.45v1.45h-1.45zM338.3 314.1h1.45v1.45h-1.45zM338.3 374.0h1.45v1.45h-1.45zM338.3 328.4h1.45v1.45h-1.45zM338.3 363.2h1.45v1.45h-1.45zM338.3 378.8h1.45v1.45h-1.45zM338.3 329.6h1.45v1.45h-1.45zM338.3 315.3h1.45v1.45h-1.45zM338.3 317.6h1.45v1.45h-1.45zM338.3 376.4h1.45v1.45h-1.45zM338.3 354.8h1.45v1.45h-1.45zM338.3 375.2h1.45v1.45h-1.45zM338.3 384.8h1.45v1.45h-1.45zM338.3 375.2h1.45v1.45h-1.45zM338.3 382.4h1.45v1.45h-1.45zM338.3 376.4h1.45v1.45h-1.45zM338.3 383.6h1.45v1.45h-1.45zM338.3 348.8h1.45v1.45h-1.45zM338.3 387.2h1.45v1.45h-1.45zM338.3 376.4h1.45v1.45h-1.45zM338.3 388.4h1.45v1.45h-1.45zM338.3 381.2h1.45v1.45h-1.45zM338.3 371.6h1.45v1.45h-1.45zM338.3 334.4h1.45v1.45h-1.45zM338.3 358.4h1.45v1.45h-1.45zM338.3 387.2h1.45v1.45h-1.45zM338.3 357.2h1.45v1.45h-1.45zM338.3 341.6h1.45v1.45h-1.45zM338.3 380.0h1.45v1.45h-1.45zM338.3 369.2h1.45v1.45h-1.45zM338.3 352.4h1.45v1.45h-1.45zM338.3 323.6h1.45v1.45h-1.45zM338.3 372.8h1.45v1.45h-1.45zM338.3 371.6h1.45v1.45h-1.45zM338.3 384.8h1.45v1.45h-1.45zM338.3 377.6h1.45v1.45h-1.45zM338.3 354.8h1.45v1.45h-1.45zM338.3 340.4h1.45v1.45h-1.45zM338.3 386.0h1.45v1.45h-1.45zM338.3 375.2h1.45v1.45h-1.45zM338.3 347.6h1.45v1.45h-1.45zM338.3 380.0h1.45v1.45h-1.45zM338.3 334.4h1.45v1.45h-1.45zM338.3 358.4h1.45v1.45h-1.45zM338.3 370.4h1.45v1.45h-1.45zM338.3 382.4h1.45v1.45h-1.45zM338.3 388.4h1.45v1.45h-1.45zM338.3 382.4h1.45v1.45h-1.45zM338.3 312.9h1.45v1.45h-1.45zM340.0 370.4h1.45v1.45h-1.45zM340.0 360.8h1.45v1.45h-1.45zM340.0 386.0h1.45v1.45h-1.45zM340.0 378.8h1.45v1.45h-1.45zM340.0 380.0h1.45v1.45h-1.45zM340.0 382.4h1.45v1.45h-1.45zM340.0 386.0h1.45v1.45h-1.45zM340.0 378.8h1.45v1.45h-1.45zM340.0 347.6h1.45v1.45h-1.45zM340.0 311.7h1.45v1.45h-1.45zM340.0 357.2h1.45v1.45h-1.45zM340.0 382.4h1.45v1.45h-1.45zM340.0 338.0h1.45v1.45h-1.45zM340.0 380.0h1.45v1.45h-1.45zM340.0 359.6h1.45v1.45h-1.45zM340.0 338.0h1.45v1.45h-1.45zM340.0 384.8h1.45v1.45h-1.45zM340.0 366.8h1.45v1.45h-1.45zM340.0 344.0h1.45v1.45h-1.45zM340.0 366.8h1.45v1.45h-1.45zM340.0 323.6h1.45v1.45h-1.45zM340.0 364.4h1.45v1.45h-1.45zM341.7 352.4h1.45v1.45h-1.45zM341.7 383.6h1.45v1.45h-1.45zM341.7 384.8h1.45v1.45h-1.45zM341.7 360.8h1.45v1.45h-1.45zM341.7 354.8h1.45v1.45h-1.45zM341.7 380.0h1.45v1.45h-1.45zM341.7 384.8h1.45v1.45h-1.45zM341.7 370.4h1.45v1.45h-1.45zM341.7 368.0h1.45v1.45h-1.45zM341.7 382.4h1.45v1.45h-1.45zM341.7 372.8h1.45v1.45h-1.45zM341.7 352.4h1.45v1.45h-1.45zM341.7 348.8h1.45v1.45h-1.45zM341.7 310.5h1.45v1.45h-1.45zM341.7 320.0h1.45v1.45h-1.45zM341.7 386.0h1.45v1.45h-1.45zM341.7 378.8h1.45v1.45h-1.45zM341.7 365.6h1.45v1.45h-1.45zM341.7 388.4h1.45v1.45h-1.45zM341.7 333.2h1.45v1.45h-1.45zM341.7 333.2h1.45v1.45h-1.45zM341.7 374.0h1.45v1.45h-1.45zM341.7 375.2h1.45v1.45h-1.45zM341.7 357.2h1.45v1.45h-1.45zM343.4 386.0h1.45v1.45h-1.45zM343.4 382.4h1.45v1.45h-1.45zM343.4 359.6h1.45v1.45h-1.45zM343.4 362.0h1.45v1.45h-1.45zM345.1 387.2h1.45v1.45h-1.45zM345.1 376.4h1.45v1.45h-1.45zM345.1 378.8h1.45v1.45h-1.45zM345.1 354.8h1.45v1.45h-1.45zM345.1 378.8h1.45v1.45h-1.45zM345.1 377.6h1.45v1.45h-1.45zM345.1 371.6h1.45v1.45h-1.45zM345.1 359.6h1.45v1.45h-1.45zM345.1 336.8h1.45v1.45h-1.45zM345.1 371.6h1.45v1.45h-1.45zM345.1 347.6h1.45v1.45h-1.45zM345.1 383.6h1.45v1.45h-1.45zM345.1 381.2h1.45v1.45h-1.45zM345.1 352.4h1.45v1.45h-1.45zM345.1 360.8h1.45v1.45h-1.45zM345.1 339.2h1.45v1.45h-1.45zM345.1 386.0h1.45v1.45h-1.45zM345.1 375.2h1.45v1.45h-1.45zM346.8 387.2h1.45v1.45h-1.45zM346.8 383.6h1.45v1.45h-1.45zM348.5 340.4h1.45v1.45h-1.45zM348.5 368.0h1.45v1.45h-1.45zM348.5 366.8h1.45v1.45h-1.45zM348.5 326.0h1.45v1.45h-1.45zM348.5 350.0h1.45v1.45h-1.45zM348.5 380.0h1.45v1.45h-1.45zM348.5 376.4h1.45v1.45h-1.45zM348.5 360.8h1.45v1.45h-1.45zM348.5 371.6h1.45v1.45h-1.45zM348.5 378.8h1.45v1.45h-1.45zM348.5 387.2h1.45v1.45h-1.45zM348.5 387.2h1.45v1.45h-1.45zM348.5 380.0h1.45v1.45h-1.45zM348.5 381.2h1.45v1.45h-1.45zM348.5 345.2h1.45v1.45h-1.45zM348.5 306.9h1.45v1.45h-1.45zM348.5 341.6h1.45v1.45h-1.45zM348.5 387.2h1.45v1.45h-1.45zM348.5 360.8h1.45v1.45h-1.45zM348.5 362.0h1.45v1.45h-1.45zM348.5 375.2h1.45v1.45h-1.45zM348.5 386.0h1.45v1.45h-1.45zM348.5 346.4h1.45v1.45h-1.45zM348.5 370.4h1.45v1.45h-1.45zM348.5 375.2h1.45v1.45h-1.45zM348.5 381.2h1.45v1.45h-1.45zM348.5 372.8h1.45v1.45h-1.45zM348.5 386.0h1.45v1.45h-1.45zM348.5 378.8h1.45v1.45h-1.45zM348.5 382.4h1.45v1.45h-1.45zM348.5 370.4h1.45v1.45h-1.45zM348.5 377.6h1.45v1.45h-1.45zM348.5 380.0h1.45v1.45h-1.45zM348.5 374.0h1.45v1.45h-1.45zM348.5 336.8h1.45v1.45h-1.45zM348.5 366.8h1.45v1.45h-1.45zM348.5 338.0h1.45v1.45h-1.45zM348.5 303.3h1.45v1.45h-1.45zM348.5 328.4h1.45v1.45h-1.45zM348.5 360.8h1.45v1.45h-1.45zM348.5 369.2h1.45v1.45h-1.45zM348.5 371.6h1.45v1.45h-1.45zM348.5 381.2h1.45v1.45h-1.45zM348.5 330.8h1.45v1.45h-1.45zM348.5 376.4h1.45v1.45h-1.45zM348.5 346.4h1.45v1.45h-1.45zM348.5 358.4h1.45v1.45h-1.45zM350.2 378.8h1.45v1.45h-1.45zM350.2 377.6h1.45v1.45h-1.45zM350.2 382.4h1.45v1.45h-1.45zM350.2 381.2h1.45v1.45h-1.45zM351.9 333.2h1.45v1.45h-1.45zM351.9 335.6h1.45v1.45h-1.45zM351.9 357.2h1.45v1.45h-1.45zM351.9 374.0h1.45v1.45h-1.45zM351.9 364.4h1.45v1.45h-1.45zM351.9 377.6h1.45v1.45h-1.45zM351.9 383.6h1.45v1.45h-1.45zM351.9 305.7h1.45v1.45h-1.45zM351.9 380.0h1.45v1.45h-1.45zM351.9 324.8h1.45v1.45h-1.45zM351.9 346.4h1.45v1.45h-1.45zM351.9 382.4h1.45v1.45h-1.45zM351.9 368.0h1.45v1.45h-1.45zM351.9 387.2h1.45v1.45h-1.45zM351.9 357.2h1.45v1.45h-1.45zM351.9 357.2h1.45v1.45h-1.45zM351.9 362.0h1.45v1.45h-1.45zM351.9 350.0h1.45v1.45h-1.45zM351.9 387.2h1.45v1.45h-1.45zM351.9 374.0h1.45v1.45h-1.45zM351.9 374.0h1.45v1.45h-1.45zM351.9 386.0h1.45v1.45h-1.45zM351.9 377.6h1.45v1.45h-1.45zM351.9 378.8h1.45v1.45h-1.45zM351.9 386.0h1.45v1.45h-1.45zM351.9 388.4h1.45v1.45h-1.45zM351.9 345.2h1.45v1.45h-1.45zM351.9 366.8h1.45v1.45h-1.45zM351.9 382.4h1.45v1.45h-1.45zM351.9 365.6h1.45v1.45h-1.45zM351.9 378.8h1.45v1.45h-1.45zM351.9 371.6h1.45v1.45h-1.45zM351.9 370.4h1.45v1.45h-1.45zM351.9 302.1h1.45v1.45h-1.45zM351.9 352.4h1.45v1.45h-1.45zM351.9 382.4h1.45v1.45h-1.45zM351.9 378.8h1.45v1.45h-1.45zM351.9 372.8h1.45v1.45h-1.45zM353.6 374.0h1.45v1.45h-1.45zM353.6 375.2h1.45v1.45h-1.45zM355.3 380.0h1.45v1.45h-1.45zM355.3 364.4h1.45v1.45h-1.45zM355.3 372.8h1.45v1.45h-1.45zM355.3 370.4h1.45v1.45h-1.45zM355.3 365.6h1.45v1.45h-1.45zM355.3 371.6h1.45v1.45h-1.45zM355.3 369.2h1.45v1.45h-1.45zM355.3 382.4h1.45v1.45h-1.45zM355.3 370.4h1.45v1.45h-1.45zM355.3 360.8h1.45v1.45h-1.45zM355.3 369.2h1.45v1.45h-1.45zM355.3 339.2h1.45v1.45h-1.45zM355.3 388.4h1.45v1.45h-1.45zM355.3 359.6h1.45v1.45h-1.45zM355.3 332.0h1.45v1.45h-1.45zM355.3 359.6h1.45v1.45h-1.45zM355.3 340.4h1.45v1.45h-1.45zM355.3 340.4h1.45v1.45h-1.45zM355.3 306.9h1.45v1.45h-1.45zM355.3 374.0h1.45v1.45h-1.45zM355.3 382.4h1.45v1.45h-1.45zM355.3 383.6h1.45v1.45h-1.45zM355.3 336.8h1.45v1.45h-1.45zM355.3 299.7h1.45v1.45h-1.45zM355.3 388.4h1.45v1.45h-1.45zM357.0 358.4h1.45v1.45h-1.45zM357.0 387.2h1.45v1.45h-1.45zM357.0 292.5h1.45v1.45h-1.45zM357.0 311.7h1.45v1.45h-1.45zM357.0 362.0h1.45v1.45h-1.45zM357.0 364.4h1.45v1.45h-1.45zM358.8 374.0h1.45v1.45h-1.45zM358.8 354.8h1.45v1.45h-1.45zM358.8 346.4h1.45v1.45h-1.45zM358.8 372.8h1.45v1.45h-1.45zM360.5 339.2h1.45v1.45h-1.45zM360.5 292.5h1.45v1.45h-1.45zM362.2 383.6h1.45v1.45h-1.45zM365.6 375.2h1.45v1.45h-1.45zM365.6 339.2h1.45v1.45h-1.45zM365.6 387.2h1.45v1.45h-1.45zM365.6 356.0h1.45v1.45h-1.45zM365.6 363.2h1.45v1.45h-1.45zM365.6 380.0h1.45v1.45h-1.45zM365.6 381.2h1.45v1.45h-1.45zM365.6 382.4h1.45v1.45h-1.45zM365.6 378.8h1.45v1.45h-1.45zM367.3 378.8h1.45v1.45h-1.45zM367.3 358.4h1.45v1.45h-1.45zM367.3 384.8h1.45v1.45h-1.45zM367.3 376.4h1.45v1.45h-1.45zM367.3 386.0h1.45v1.45h-1.45zM367.3 386.0h1.45v1.45h-1.45zM367.3 386.0h1.45v1.45h-1.45zM367.3 348.8h1.45v1.45h-1.45zM367.3 378.8h1.45v1.45h-1.45zM367.3 380.0h1.45v1.45h-1.45zM367.3 381.2h1.45v1.45h-1.45zM367.3 383.6h1.45v1.45h-1.45zM367.3 372.8h1.45v1.45h-1.45zM367.3 380.0h1.45v1.45h-1.45zM367.3 359.6h1.45v1.45h-1.45zM367.3 378.8h1.45v1.45h-1.45zM367.3 338.0h1.45v1.45h-1.45zM367.3 366.8h1.45v1.45h-1.45zM369.0 348.8h1.45v1.45h-1.45zM369.0 364.4h1.45v1.45h-1.45zM369.0 388.4h1.45v1.45h-1.45zM369.0 364.4h1.45v1.45h-1.45zM370.7 376.4h1.45v1.45h-1.45zM370.7 341.6h1.45v1.45h-1.45zM370.7 376.4h1.45v1.45h-1.45zM370.7 382.4h1.45v1.45h-1.45zM370.7 387.2h1.45v1.45h-1.45zM370.7 339.2h1.45v1.45h-1.45zM370.7 354.8h1.45v1.45h-1.45zM370.7 360.8h1.45v1.45h-1.45zM370.7 347.6h1.45v1.45h-1.45zM370.7 338.0h1.45v1.45h-1.45zM370.7 376.4h1.45v1.45h-1.45zM370.7 377.6h1.45v1.45h-1.45zM370.7 380.0h1.45v1.45h-1.45zM370.7 366.8h1.45v1.45h-1.45zM370.7 387.2h1.45v1.45h-1.45zM370.7 371.6h1.45v1.45h-1.45zM370.7 338.0h1.45v1.45h-1.45zM370.7 363.2h1.45v1.45h-1.45zM370.7 366.8h1.45v1.45h-1.45zM370.7 374.0h1.45v1.45h-1.45zM370.7 362.0h1.45v1.45h-1.45zM370.7 359.6h1.45v1.45h-1.45zM370.7 371.6h1.45v1.45h-1.45zM370.7 338.0h1.45v1.45h-1.45zM370.7 378.8h1.45v1.45h-1.45zM370.7 377.6h1.45v1.45h-1.45zM370.7 387.2h1.45v1.45h-1.45zM370.7 383.6h1.45v1.45h-1.45zM372.4 388.4h1.45v1.45h-1.45zM270.1 358.2h1.45v1.45h-1.45zM270.1 371.6h1.45v1.45h-1.45zM270.1 374.5h1.45v1.45h-1.45zM276.9 351.0h1.45v1.45h-1.45zM282.0 306.9h1.45v1.45h-1.45zM282.0 386.0h1.45v1.45h-1.45zM283.7 369.2h1.45v1.45h-1.45zM283.7 381.2h1.45v1.45h-1.45zM285.4 354.8h1.45v1.45h-1.45zM287.1 381.2h1.45v1.45h-1.45zM287.1 369.2h1.45v1.45h-1.45zM288.8 376.4h1.45v1.45h-1.45zM288.8 350.0h1.45v1.45h-1.45zM290.6 388.4h1.45v1.45h-1.45zM379.9 338.7h1.45v1.45h-1.45zM379.9 359.2h1.45v1.45h-1.45zM379.9 370.1h1.45v1.45h-1.45zM394.1 365.8h1.45v1.45h-1.45zM394.1 376.7h1.45v1.45h-1.45zM419.2 353.6h1.45v1.45h-1.45zM415.9 372.7h1.45v1.45h-1.45zM448.2 366.8h1.45v1.45h-1.45zM448.2 375.7h1.45v1.45h-1.45z"/>
<rect x="472.5" y="147.5" width="199.89999999999998" height="272.9" fill="none" stroke="#505050" stroke-width="1.35"/>
<text x="481.75" y="164.2" font-size="13.5" fill="#000" stroke="#000" stroke-width="0.25" text-anchor="middle" textLength="5.75" lengthAdjust="spacingAndGlyphs">F</text>
<line x1="504.00" y1="178.40" x2="504.00" y2="267.80" stroke="#d9d9d9" stroke-width="0.8"/>
<line x1="504.00" y1="267.80" x2="657.80" y2="267.80" stroke="#d9d9d9" stroke-width="0.8"/>
<text x="498.00" y="270.23" font-size="6.48" text-anchor="end" fill="#595959" stroke="#595959" stroke-width="0.2">0</text>
<text x="498.00" y="255.33" font-size="6.48" text-anchor="end" fill="#595959" stroke="#595959" stroke-width="0.2">50</text>
<text x="498.00" y="240.43" font-size="6.48" text-anchor="end" fill="#595959" stroke="#595959" stroke-width="0.2">100</text>
<text x="498.00" y="225.53" font-size="6.48" text-anchor="end" fill="#595959" stroke="#595959" stroke-width="0.2">150</text>
<text x="498.00" y="210.63" font-size="6.48" text-anchor="end" fill="#595959" stroke="#595959" stroke-width="0.2">200</text>
<text x="498.00" y="195.73" font-size="6.48" text-anchor="end" fill="#595959" stroke="#595959" stroke-width="0.2">250</text>
<text x="498.00" y="180.83" font-size="6.48" text-anchor="end" fill="#595959" stroke="#595959" stroke-width="0.2">300</text>
<text x="504.00" y="277.43" font-size="6.48" text-anchor="middle" fill="#595959" stroke="#595959" stroke-width="0.2">30</text>
<text x="520.25" y="277.43" font-size="6.48" text-anchor="middle" fill="#595959" stroke="#595959" stroke-width="0.2">40</text>
<text x="536.50" y="277.43" font-size="6.48" text-anchor="middle" fill="#595959" stroke="#595959" stroke-width="0.2">50</text>
<text x="552.75" y="277.43" font-size="6.48" text-anchor="middle" fill="#595959" stroke="#595959" stroke-width="0.2">60</text>
<text x="569.00" y="277.43" font-size="6.48" text-anchor="middle" fill="#595959" stroke="#595959" stroke-width="0.2">70</text>
<text x="585.25" y="277.43" font-size="6.48" text-anchor="middle" fill="#595959" stroke="#595959" stroke-width="0.2">80</text>
<text x="601.50" y="277.43" font-size="6.48" text-anchor="middle" fill="#595959" stroke="#595959" stroke-width="0.2">90</text>
<text x="617.75" y="277.43" font-size="6.48" text-anchor="middle" fill="#595959" stroke="#595959" stroke-width="0.2">100</text>
<text x="634.00" y="277.43" font-size="6.48" text-anchor="middle" fill="#595959" stroke="#595959" stroke-width="0.2">110</text>
<text x="650.25" y="277.43" font-size="6.48" text-anchor="middle" fill="#595959" stroke="#595959" stroke-width="0.2">120</text>
<text x="581.70" y="288.67" font-size="6.30" text-anchor="middle" fill="#595959" stroke="#595959" stroke-width="0.2" textLength="25.00" lengthAdjust="spacingAndGlyphs">Tm (°C)</text>
<text x="481.40" y="225.70" font-size="6.40" text-anchor="middle" fill="#595959" stroke="#595959" stroke-width="0.2" transform="rotate(-90 481.40 223.30)" textLength="22.10" lengthAdjust="spacingAndGlyphs">Counts</text>
<polyline points="511.10,267.80 517.30,267.30 521.00,265.30 523.50,265.30 526.00,266.50 528.50,265.30 532.20,257.90 535.90,244.30 538.40,237.30 540.80,235.60 543.30,238.10 545.80,241.80 548.30,238.80 550.70,248.00 553.20,255.40 555.70,261.60 558.20,260.30 559.90,244.30 561.40,188.60 563.90,185.30 564.90,184.90 566.30,204.70 568.10,257.90 569.80,265.30 572.30,267.00 575.50,262.80 579.20,257.90 582.90,251.70 585.40,248.00 587.10,248.70 589.10,254.20 591.60,260.30 595.30,265.30 597.80,267.40 601.00,267.80 604.00,266.20 606.90,260.60 609.70,259.20 611.70,262.00 614.00,267.60 620.00,267.80 650.00,267.80 653.60,267.20 657.00,267.80" fill="none" stroke="#5B9BD5" stroke-width="1.3" stroke-linejoin="round"/>
<polyline points="511.10,267.80 523.50,266.50 527.20,266.00 529.70,261.60 532.20,246.70 534.70,237.30 536.60,249.20 539.60,255.40 543.30,258.60 547.00,260.30 549.50,254.20 552.00,249.20 554.00,252.90 556.40,239.30 558.20,222.00 560.60,221.50 562.40,239.30 563.90,261.60 565.60,266.50 568.10,267.80 571.80,266.50 575.50,262.10 578.00,259.10 580.40,262.10 584.20,267.00 587.10,262.80 590.30,257.90 592.80,260.30 595.60,264.80 599.80,266.20 604.00,262.80 606.90,266.20 609.70,267.60 615.00,267.80" fill="none" stroke="#70C040" stroke-width="1.3" stroke-linejoin="round"/>
<polyline points="511.10,267.00 514.90,267.80 519.80,267.80 523.50,266.50 529.70,266.00 532.20,264.10 534.70,234.40 536.60,233.90 539.60,233.90 541.60,232.40 544.10,233.90 545.80,236.80 546.50,265.30 549.50,266.50 553.20,267.00 555.70,267.80 559.40,267.00 561.40,256.60 563.90,256.60 565.60,261.60 566.80,266.50 570.50,267.80 657.00,267.80" fill="none" stroke="#FF2020" stroke-width="1.3" stroke-linejoin="round"/>
<line x1="611.10" y1="196.00" x2="625.80" y2="196.00" stroke="#5B9BD5" stroke-width="1.5"/>
<text x="627.50" y="198.55" font-size="6.80" text-anchor="start" fill="#595959" stroke="#595959" stroke-width="0.2" textLength="20.30" lengthAdjust="spacingAndGlyphs">Tm CD</text>
<line x1="611.10" y1="210.30" x2="625.80" y2="210.30" stroke="#70C040" stroke-width="1.5"/>
<text x="627.50" y="212.85" font-size="6.80" text-anchor="start" fill="#595959" stroke="#595959" stroke-width="0.2" textLength="24.40" lengthAdjust="spacingAndGlyphs">Tm DSC</text>
<line x1="611.10" y1="224.80" x2="625.80" y2="224.80" stroke="#FF2020" stroke-width="1.5"/>
<text x="627.50" y="227.35" font-size="6.80" text-anchor="start" fill="#595959" stroke="#595959" stroke-width="0.2" textLength="18.20" lengthAdjust="spacingAndGlyphs">Tm FL</text>
<line x1="502.90" y1="300.30" x2="502.90" y2="389.10" stroke="#d9d9d9" stroke-width="0.8"/>
<line x1="502.90" y1="389.10" x2="662.00" y2="389.10" stroke="#d9d9d9" stroke-width="0.8"/>
<text x="497.00" y="391.53" font-size="6.48" text-anchor="end" fill="#595959" stroke="#595959" stroke-width="0.2">0</text>
<text x="497.00" y="380.93" font-size="6.48" text-anchor="end" fill="#595959" stroke="#595959" stroke-width="0.2">20</text>
<text x="497.00" y="370.33" font-size="6.48" text-anchor="end" fill="#595959" stroke="#595959" stroke-width="0.2">40</text>
<text x="497.00" y="359.73" font-size="6.48" text-anchor="end" fill="#595959" stroke="#595959" stroke-width="0.2">60</text>
<text x="497.00" y="349.13" font-size="6.48" text-anchor="end" fill="#595959" stroke="#595959" stroke-width="0.2">80</text>
<text x="497.00" y="338.53" font-size="6.48" text-anchor="end" fill="#595959" stroke="#595959" stroke-width="0.2">100</text>
<text x="497.00" y="327.93" font-size="6.48" text-anchor="end" fill="#595959" stroke="#595959" stroke-width="0.2">120</text>
<text x="497.00" y="317.33" font-size="6.48" text-anchor="end" fill="#595959" stroke="#595959" stroke-width="0.2">140</text>
<text x="497.00" y="306.73" font-size="6.48" text-anchor="end" fill="#595959" stroke="#595959" stroke-width="0.2">160</text>
<text x="503.20" y="399.53" font-size="6.48" text-anchor="middle" fill="#595959" stroke="#595959" stroke-width="0.2">-20</text>
<text x="519.06" y="399.53" font-size="6.48" text-anchor="middle" fill="#595959" stroke="#595959" stroke-width="0.2">-16</text>
<text x="534.92" y="399.53" font-size="6.48" text-anchor="middle" fill="#595959" stroke="#595959" stroke-width="0.2">-12</text>
<text x="550.78" y="399.53" font-size="6.48" text-anchor="middle" fill="#595959" stroke="#595959" stroke-width="0.2">-8</text>
<text x="566.64" y="399.53" font-size="6.48" text-anchor="middle" fill="#595959" stroke="#595959" stroke-width="0.2">-4</text>
<text x="582.50" y="399.53" font-size="6.48" text-anchor="middle" fill="#595959" stroke="#595959" stroke-width="0.2">0</text>
<text x="598.36" y="399.53" font-size="6.48" text-anchor="middle" fill="#595959" stroke="#595959" stroke-width="0.2">4</text>
<text x="614.22" y="399.53" font-size="6.48" text-anchor="middle" fill="#595959" stroke="#595959" stroke-width="0.2">8</text>
<text x="630.08" y="399.53" font-size="6.48" text-anchor="middle" fill="#595959" stroke="#595959" stroke-width="0.2">12</text>
<text x="645.94" y="399.53" font-size="6.48" text-anchor="middle" fill="#595959" stroke="#595959" stroke-width="0.2">16</text>
<text x="661.80" y="399.53" font-size="6.48" text-anchor="middle" fill="#595959" stroke="#595959" stroke-width="0.2">20</text>
<text x="582.50" y="410.60" font-size="6.40" text-anchor="middle" fill="#595959" stroke="#595959" stroke-width="0.2" textLength="31.90" lengthAdjust="spacingAndGlyphs">ΔTm  (°C)</text>
<text x="481.20" y="347.50" font-size="6.40" text-anchor="middle" fill="#595959" stroke="#595959" stroke-width="0.2" transform="rotate(-90 481.20 345.10)" textLength="21.40" lengthAdjust="spacingAndGlyphs">Counts</text>
<polyline points="503.20,389.10 510.20,383.10 518.20,382.10 524.50,383.70 528.70,382.80 534.10,376.70 541.40,376.70 550.00,364.00 558.00,343.00 565.90,344.90 573.90,329.00 581.90,302.50 589.80,356.70 598.40,367.20 605.80,379.90 613.70,381.20 621.70,383.10 629.60,388.50 637.60,389.10 645.60,387.90 650.30,389.10 661.80,389.10" fill="none" stroke="#5B9BD5" stroke-width="1.3" stroke-linejoin="round"/>
<polyline points="503.20,389.10 510.20,387.50 518.20,385.30 526.10,383.10 534.10,381.20 542.10,383.10 550.00,375.80 558.60,369.40 565.90,347.10 573.90,339.80 581.90,336.00 589.80,363.00 598.40,379.90 605.80,386.30 613.70,386.30 621.70,388.50 629.60,389.10" fill="none" stroke="#70C040" stroke-width="1.3" stroke-linejoin="round"/>
<polyline points="503.20,389.10 518.20,387.50 534.10,385.30 542.10,383.70 550.00,379.90 558.60,375.80 565.90,372.60 573.90,354.40 581.90,339.80 589.80,379.90 598.40,385.30 605.80,387.50 613.70,388.50 621.70,389.10 661.80,389.10" fill="none" stroke="#FF2020" stroke-width="1.3" stroke-linejoin="round"/>
<line x1="611.20" y1="313.70" x2="625.50" y2="313.70" stroke="#5B9BD5" stroke-width="1.5"/>
<text x="627.20" y="316.45" font-size="6.80" text-anchor="start" fill="#595959" stroke="#595959" stroke-width="0.2" textLength="24.30" lengthAdjust="spacingAndGlyphs">ΔTm CD</text>
<line x1="611.20" y1="328.10" x2="625.50" y2="328.10" stroke="#70C040" stroke-width="1.5"/>
<text x="627.20" y="331.15" font-size="6.80" text-anchor="start" fill="#595959" stroke="#595959" stroke-width="0.2" textLength="13.30" lengthAdjust="spacingAndGlyphs">ΔTm</text>
<text x="627.20" y="338.05" font-size="6.80" text-anchor="start" fill="#595959" stroke="#595959" stroke-width="0.2" textLength="13.30" lengthAdjust="spacingAndGlyphs">DSC</text>
<line x1="611.20" y1="342.70" x2="625.50" y2="342.70" stroke="#FF2020" stroke-width="1.5"/>
<text x="627.20" y="345.55" font-size="6.80" text-anchor="start" fill="#595959" stroke="#595959" stroke-width="0.2" textLength="22.50" lengthAdjust="spacingAndGlyphs">ΔTm FL</text>
</svg>
</body></html>
